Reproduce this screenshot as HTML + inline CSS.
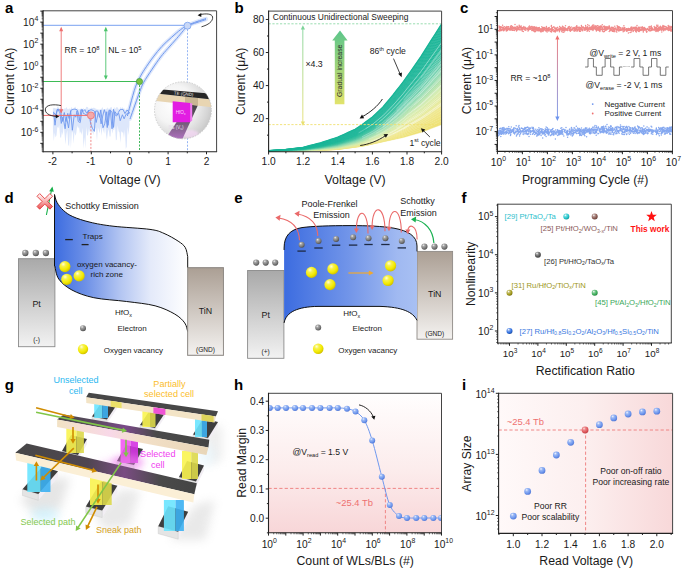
<!DOCTYPE html><html><head><meta charset="utf-8"><style>html,body{margin:0;padding:0;background:#fff;}svg{display:block;font-family:"Liberation Sans",sans-serif;}</style></head><body><svg width="685" height="569" viewBox="0 0 685 569" font-family='"Liberation Sans", sans-serif'><defs><filter id="blur1" x="-50%" y="-50%" width="200%" height="200%"><feGaussianBlur stdDeviation="1.2"/></filter><clipPath id="insclip"><circle cx="183" cy="110.3" r="28.5"/></clipPath><radialGradient id="insbg" cx="0.35" cy="0.4" r="0.75"><stop offset="0" stop-color="#ffffff"/><stop offset="0.45" stop-color="#f4f4f4"/><stop offset="0.8" stop-color="#d4d4d4"/><stop offset="1" stop-color="#bdbdbd"/></radialGradient><linearGradient id="insbe" x1="0" y1="0" x2="0" y2="1"><stop offset="0" stop-color="#3c3c3c"/><stop offset="0.5" stop-color="#6a5a6e"/><stop offset="1" stop-color="#b070c0"/></linearGradient><linearGradient id="gby" x1="0" y1="0" x2="0" y2="1"><stop offset="0" stop-color="#7ed39a"/><stop offset="1" stop-color="#e8e070"/></linearGradient><linearGradient id="ggr" x1="0" y1="0" x2="0" y2="1"><stop offset="0" stop-color="#5cc58a"/><stop offset="1" stop-color="#e2e36c"/></linearGradient><linearGradient id="grb" x1="0" y1="0" x2="0" y2="1"><stop offset="0" stop-color="#ef7070"/><stop offset="1" stop-color="#6e95ee"/></linearGradient><linearGradient id="ptd" x1="0" y1="0" x2="0" y2="1"><stop offset="0" stop-color="#a9a9a9"/><stop offset="1" stop-color="#f2f2f2"/></linearGradient><linearGradient id="tind" x1="0" y1="0" x2="0" y2="1"><stop offset="0" stop-color="#ab9f94"/><stop offset="1" stop-color="#f4f2f0"/></linearGradient><linearGradient id="bandd" x1="54" y1="0" x2="188" y2="0" gradientUnits="userSpaceOnUse"><stop offset="0" stop-color="#3c6ce0"/><stop offset="0.24" stop-color="#6e91e7"/><stop offset="0.5" stop-color="#b4c6f2"/><stop offset="0.72" stop-color="#e4eafa"/><stop offset="1" stop-color="#ffffff"/></linearGradient><radialGradient id="sp0" cx="0.38" cy="0.32" r="0.75" fx="0.35" fy="0.28"><stop offset="0" stop-color="#f0f0f0"/><stop offset="0.28" stop-color="#a3a3a3"/><stop offset="0.65" stop-color="#7a7a7a"/><stop offset="1" stop-color="#444444"/></radialGradient><radialGradient id="sp1" cx="0.38" cy="0.32" r="0.75" fx="0.35" fy="0.28"><stop offset="0" stop-color="#ffffd8"/><stop offset="0.28" stop-color="#f7f14c"/><stop offset="0.65" stop-color="#f2ea00"/><stop offset="1" stop-color="#c8b400"/></radialGradient><linearGradient id="xg" x1="0" y1="0" x2="0" y2="1"><stop offset="0" stop-color="#ffffff"/><stop offset="0.5" stop-color="#f8b0b0"/><stop offset="1" stop-color="#e85050"/></linearGradient><linearGradient id="pte" x1="0" y1="0" x2="0" y2="1"><stop offset="0" stop-color="#a9a9a9"/><stop offset="1" stop-color="#f2f2f2"/></linearGradient><linearGradient id="tine" x1="0" y1="0" x2="0" y2="1"><stop offset="0" stop-color="#ab9f94"/><stop offset="1" stop-color="#f4f2f0"/></linearGradient><linearGradient id="bande" x1="284" y1="0" x2="417" y2="0" gradientUnits="userSpaceOnUse"><stop offset="0" stop-color="#3c6ce0"/><stop offset="0.5" stop-color="#7396e9"/><stop offset="0.85" stop-color="#a0b9f1"/><stop offset="1" stop-color="#a8c0f3"/></linearGradient><radialGradient id="sp2" cx="0.38" cy="0.32" r="0.75" fx="0.35" fy="0.28"><stop offset="0" stop-color="#ffffff"/><stop offset="0.28" stop-color="#6edade"/><stop offset="0.65" stop-color="#20c6cc"/><stop offset="1" stop-color="#158185"/></radialGradient><radialGradient id="sp3" cx="0.38" cy="0.32" r="0.75" fx="0.35" fy="0.28"><stop offset="0" stop-color="#ffffff"/><stop offset="0.28" stop-color="#b3948f"/><stop offset="0.65" stop-color="#8a5a52"/><stop offset="1" stop-color="#5a3a35"/></radialGradient><radialGradient id="sp4" cx="0.38" cy="0.32" r="0.75" fx="0.35" fy="0.28"><stop offset="0" stop-color="#ffffff"/><stop offset="0.28" stop-color="#949494"/><stop offset="0.65" stop-color="#5a5a5a"/><stop offset="1" stop-color="#3a3a3a"/></radialGradient><radialGradient id="sp5" cx="0.38" cy="0.32" r="0.75" fx="0.35" fy="0.28"><stop offset="0" stop-color="#ffffff"/><stop offset="0.28" stop-color="#c3bd6a"/><stop offset="0.65" stop-color="#a39a1a"/><stop offset="1" stop-color="#6a6411"/></radialGradient><radialGradient id="sp6" cx="0.38" cy="0.32" r="0.75" fx="0.35" fy="0.28"><stop offset="0" stop-color="#ffffff"/><stop offset="0.28" stop-color="#80ca94"/><stop offset="0.65" stop-color="#3cae5a"/><stop offset="1" stop-color="#27713a"/></radialGradient><radialGradient id="sp7" cx="0.38" cy="0.32" r="0.75" fx="0.35" fy="0.28"><stop offset="0" stop-color="#ffffff"/><stop offset="0.28" stop-color="#78a1eb"/><stop offset="0.65" stop-color="#2f6fe0"/><stop offset="1" stop-color="#1f4892"/></radialGradient><filter id="blur3" x="-50%" y="-50%" width="200%" height="200%"><feGaussianBlur stdDeviation="3"/></filter><filter id="blur5" x="-50%" y="-50%" width="200%" height="200%"><feGaussianBlur stdDeviation="5"/></filter><linearGradient id="b2top" x1="57" y1="0" x2="209" y2="0" gradientUnits="userSpaceOnUse"><stop offset="0" stop-color="#474747"/><stop offset="0.25" stop-color="#5a4a60"/><stop offset="0.45" stop-color="#7a4a88"/><stop offset="0.65" stop-color="#4a4a4a"/><stop offset="1" stop-color="#444"/></linearGradient><linearGradient id="b2f" x1="57" y1="0" x2="209" y2="0" gradientUnits="userSpaceOnUse"><stop offset="0" stop-color="#f2e2c4"/><stop offset="0.35" stop-color="#f8d8e8"/><stop offset="0.55" stop-color="#f3e0c8"/><stop offset="1" stop-color="#e8d6b8"/></linearGradient><linearGradient id="b1top" x1="15" y1="0" x2="197" y2="0" gradientUnits="userSpaceOnUse"><stop offset="0" stop-color="#474747"/><stop offset="0.4" stop-color="#4f4650"/><stop offset="0.6" stop-color="#7a4c82"/><stop offset="0.8" stop-color="#4a4a4a"/><stop offset="1" stop-color="#444"/></linearGradient><linearGradient id="hbg" x1="0" y1="0" x2="0" y2="1"><stop offset="0" stop-color="#fffefe"/><stop offset="0.55" stop-color="#fcecec"/><stop offset="1" stop-color="#f8d6d8"/></linearGradient><clipPath id="hclip"><rect x="268.5" y="393.3" width="173.0" height="139.49999999999994"/></clipPath><radialGradient id="sp8" cx="0.38" cy="0.32" r="0.75" fx="0.35" fy="0.28"><stop offset="0" stop-color="#e8f0ff"/><stop offset="0.28" stop-color="#99b7f4"/><stop offset="0.65" stop-color="#6f98ee"/><stop offset="1" stop-color="#4a70d0"/></radialGradient><linearGradient id="ibg" x1="0" y1="0" x2="1" y2="0"><stop offset="0" stop-color="#fff9f9"/><stop offset="0.5" stop-color="#fcefef"/><stop offset="1" stop-color="#f8d8d9"/></linearGradient><radialGradient id="sp9" cx="0.38" cy="0.32" r="0.75" fx="0.35" fy="0.28"><stop offset="0" stop-color="#eef4ff"/><stop offset="0.28" stop-color="#9bb8f4"/><stop offset="0.65" stop-color="#6f98ee"/><stop offset="1" stop-color="#4a70d0"/></radialGradient><radialGradient id="sp10" cx="0.38" cy="0.32" r="0.75" fx="0.35" fy="0.28"><stop offset="0" stop-color="#ffdede"/><stop offset="0.28" stop-color="#eb888b"/><stop offset="0.65" stop-color="#e05a5e"/><stop offset="1" stop-color="#b83a40"/></radialGradient></defs><rect width="685" height="569" fill="#fff"/><text x="4.9" y="13" font-size="15" text-anchor="start" fill="#000" font-weight="bold" >a</text>
<polygon points="52.9,107.33 53.8,108.4 54.7,107.79 55.6,108.61 56.5,108.69 57.4,106.73 58.3,106.55 59.2,109.43 60.1,107.41 61,107.32 61.9,109.98 62.8,108.15 63.7,109.43 64.6,108.17 65.5,108.74 66.4,107.03 67.3,108.72 68.2,109.54 69.1,108.33 70,109.09 70.9,108.85 71.8,106.72 72.7,109.15 73.6,108.57 74.5,107.55 75.4,106.61 76.3,109.53 77.2,108.15 78.1,109.02 79,109.58 79.9,109 80.8,109.72 81.7,107.88 82.6,109.3 83.5,108.06 84.4,109.77 85.3,109.58 86.2,106.84 87.1,106.98 88,107.26 88.9,109.88 89.8,108.03 90.7,108.69 91.6,107.55 92.5,108.28 93.4,107.85 94.3,107.73 95.2,108.55 96.1,108.54 97,109.66 97.9,108.89 98.8,109.75 99.7,109.5 100.6,109.97 101.5,108.85 102.4,107.07 103.3,109.51 104.2,109.88 105.1,109.67 106,108.49 106.9,109 107.8,107.24 108.7,109.41 109.6,108.51 110.5,107.5 111.4,106.72 112.3,109.49 113.2,109.96 114.1,106.81 115,109.3 115.9,107.94 116.8,107.03 117.7,107.53 118.6,109.19 119.5,109.55 120.4,106.65 121.3,108.65 122.2,106.66 123.1,109.01 124,107.66 124.9,109.58 125.8,109.93 126.7,108.27 127.6,109.99 128.5,107.58 129.4,106.77 129.4,125.38 128.5,135.2 127.6,126.87 126.7,146.69 125.8,148.97 124.9,129.53 124,138 123.1,132.15 122.2,132.44 121.3,131.08 120.4,143.01 119.5,132.53 118.6,131.25 117.7,125.14 116.8,139.5 115.9,140.39 115,125.72 114.1,130.6 113.2,129.23 112.3,133.86 111.4,126.51 110.5,136.56 109.6,136.41 108.7,128.84 107.8,132.82 106.9,139.89 106,134.43 105.1,125.32 104.2,133.82 103.3,130.56 102.4,127.86 101.5,135.88 100.6,126.22 99.7,133.34 98.8,130.26 97.9,127.03 97,141.26 96.1,130.41 95.2,128.02 94.3,127.29 93.4,135.06 92.5,131.96 91.6,132.7 90.7,129.14 89.8,132.3 88.9,128.25 88,135.42 87.1,135.24 86.2,126.87 85.3,148.58 84.4,136.84 83.5,148.75 82.6,127.67 81.7,135.04 80.8,131.23 79.9,133.53 79,126.7 78.1,128.44 77.2,125.54 76.3,133.32 75.4,135.76 74.5,131.92 73.6,143.63 72.7,132.5 71.8,131.3 70.9,148.48 70,129.1 69.1,146.54 68.2,144.56 67.3,129.93 66.4,134.8 65.5,144.79 64.6,134.67 63.7,125.09 62.8,135.35 61.9,131.78 61,138.18 60.1,136.82 59.2,125.02 58.3,128.17 57.4,126.71 56.5,135.25 55.6,137.55 54.7,132.86 53.8,141.17 52.9,129.33" fill="#dde7fb" stroke="none" stroke-width="0" />
<path d="M127.4,116 C127.83,114.33 129.1,109.4 130,106 C130.9,102.6 131.83,98.93 132.8,95.6 C133.77,92.27 134.68,88.93 135.8,86 C136.92,83.07 138.02,80.8 139.5,78 C140.98,75.2 142.4,72.72 144.7,69.2 C147,65.68 150.43,60.7 153.3,56.9 C156.17,53.1 158.83,49.68 161.9,46.4 C164.97,43.12 168.62,39.97 171.7,37.2 C174.78,34.43 177.83,31.75 180.4,29.8 C182.97,27.85 184.33,26.88 187.1,25.5 C189.87,24.12 193.85,22.65 197,21.5 C200.15,20.35 204.5,19.08 206,18.6" fill="none" stroke="#dce6fb" stroke-width="3.6" stroke-linecap="round"/>
<path d="M130,119 C130.53,117.5 132.13,113.03 133.2,110 C134.27,106.97 135.3,103.88 136.4,100.8 C137.5,97.72 138.6,94.55 139.8,91.5 C141,88.45 141.55,86.22 143.6,82.5 C145.65,78.78 149.25,73.47 152.1,69.2 C154.95,64.93 158.05,60.38 160.7,56.9 C163.35,53.42 165.33,51.37 168,48.3 C170.67,45.23 174.13,41.47 176.7,38.5 C179.27,35.53 181.67,32.55 183.4,30.5 C185.13,28.45 184.83,27.53 187.1,26.2 C189.37,24.87 193.85,23.6 197,22.5 C200.15,21.4 204.5,20.08 206,19.6" fill="none" stroke="#dce6fb" stroke-width="3.6" stroke-linecap="round"/>
<path d="M53.67,112.74 L55.66,114.65 L57.79,109.17 L59.93,112.89 L61.24,123.43 L63.02,116.99 L65.13,128.75 L66.47,116.73 L68.54,128.01 L70.61,110.74 L72.35,130.24 L74.24,114.8 L75.74,117.21 L77.01,110.81 L78.21,121.41 L80.23,122.62 L82.14,109.34 L83.36,113.5 L84.58,113.73 L86.35,115.59 L88.51,110.18 L90.64,123.62 L92.36,128.13 L94.36,131.4 L95.65,111.04 L97.77,111.04 L99.52,117.36 L100.79,109.89 L102.99,127.78 L104.72,123.75 L106.75,111.73 L108.01,125.41 L110.04,109.78 L112.19,112.78 L113.5,127.43 L115,111.72 L117.05,114.86 L118.74,113.38 L120.23,120.7 L122.42,114.76 L124.12,118.84 L126.1,114.2 L128.08,113.65 L129.7,113" fill="none" stroke="#6f98ee" stroke-width="0.9" stroke-linejoin="round"/>
<path d="M53.67,111.78 L55.01,125.24 L57.1,109.48 L58.92,109.25 L60.82,111.71 L62.18,121.52 L64.31,112.54 L65.89,121.55 L67.76,113.35 L69.05,118.54 L71.06,110.2 L73.14,109.33 L74.83,109.14 L76.94,109.67 L78.26,112.47 L79.66,120.61 L80.88,109.51 L83,111.52 L84.84,109.56 L86.21,112.65 L87.47,112.33 L88.82,110.61 L91.01,109.73 L93.16,110.42 L94.41,111.2 L96.2,122.51 L98.26,112.5 L99.86,114.92 L101.08,123.87 L102.5,116.91 L104.33,109.62 L105.55,113.68 L107.25,127.58 L108.87,110.39 L110.47,111.24 L112.04,128.81 L113.5,109.3 L114.88,114.68 L116.68,115.99 L118.27,112.67 L119.83,109.84 L121.16,109.52 L123.06,109.39 L124.96,113.59 L127.05,110.01 L129.7,113" fill="none" stroke="#6f98ee" stroke-width="0.9" stroke-linejoin="round"/>
<path d="M127.4,116 C127.83,114.33 129.1,109.4 130,106 C130.9,102.6 131.83,98.93 132.8,95.6 C133.77,92.27 134.68,88.93 135.8,86 C136.92,83.07 138.02,80.8 139.5,78 C140.98,75.2 142.4,72.72 144.7,69.2 C147,65.68 150.43,60.7 153.3,56.9 C156.17,53.1 158.83,49.68 161.9,46.4 C164.97,43.12 168.62,39.97 171.7,37.2 C174.78,34.43 177.83,31.75 180.4,29.8 C182.97,27.85 184.33,26.88 187.1,25.5 C189.87,24.12 193.85,22.65 197,21.5 C200.15,20.35 204.5,19.08 206,18.6" fill="none" stroke="#6f98ee" stroke-width="1.0" />
<path d="M130,119 C130.53,117.5 132.13,113.03 133.2,110 C134.27,106.97 135.3,103.88 136.4,100.8 C137.5,97.72 138.6,94.55 139.8,91.5 C141,88.45 141.55,86.22 143.6,82.5 C145.65,78.78 149.25,73.47 152.1,69.2 C154.95,64.93 158.05,60.38 160.7,56.9 C163.35,53.42 165.33,51.37 168,48.3 C170.67,45.23 174.13,41.47 176.7,38.5 C179.27,35.53 181.67,32.55 183.4,30.5 C185.13,28.45 184.83,27.53 187.1,26.2 C189.37,24.87 193.85,23.6 197,22.5 C200.15,21.4 204.5,20.08 206,19.6" fill="none" stroke="#6f98ee" stroke-width="1.0" />
<line x1="43.1" y1="25.3" x2="187.5" y2="25.3" stroke="#7aa2f0" stroke-width="1" />
<line x1="187.5" y1="25.7" x2="187.5" y2="151.7" stroke="#7aa2f0" stroke-width="0.8" stroke-dasharray="2,1.5"/>
<line x1="43.1" y1="81.5" x2="139.5" y2="81.5" stroke="#3dbb55" stroke-width="1" />
<line x1="139.5" y1="81.5" x2="139.5" y2="151.7" stroke="#2cb04a" stroke-width="0.9" stroke-dasharray="2,1.5"/>
<line x1="43.1" y1="115.4" x2="90.9" y2="115.4" stroke="#ee6e6e" stroke-width="1" />
<line x1="90.9" y1="115.4" x2="90.9" y2="151.7" stroke="#ee6e6e" stroke-width="0.8" stroke-dasharray="2,1.5"/>
<line x1="61.2" y1="28.5" x2="61.2" y2="112.5" stroke="#ee7070" stroke-width="0.9" />
<polygon points="61.2,26.8 59.2,31.2 63.2,31.2" fill="#ee7070" stroke="none" stroke-width="0" />
<polygon points="61.2,113.6 59.2,109.2 63.2,109.2" fill="#ee7070" stroke="none" stroke-width="0" />
<line x1="105.8" y1="28.5" x2="105.8" y2="78.5" stroke="#4cc46c" stroke-width="0.9" />
<polygon points="105.8,26.8 103.8,31.2 107.8,31.2" fill="#4cc46c" stroke="none" stroke-width="0" />
<polygon points="105.8,79.8 103.8,75.4 107.8,75.4" fill="#4cc46c" stroke="none" stroke-width="0" />
<text x="64.5" y="53" font-size="8.6" fill="#1a1a1a">RR = 10<tspan font-size="5.8" dy="-3.4">8</tspan></text>
<text x="108.3" y="53" font-size="8.6" fill="#1a1a1a">NL = 10<tspan font-size="5.8" dy="-3.4">5</tspan></text>
<circle cx="187.5" cy="25.7" r="3.5" fill="#c9d8f7" stroke="#7aa2f0" stroke-width="0.8" />
<circle cx="139.5" cy="81.5" r="3.1" fill="#7cc242" stroke="#3a9a3a" stroke-width="0.7" />
<circle cx="90.9" cy="115.4" r="3.5" fill="#f5a9a9" stroke="#ee7070" stroke-width="0.8" />
<path d="M61,105.6 C54,104 45,104.5 45.3,110 C45.6,114.5 52,116.3 57,116.4" fill="none" stroke="#111" stroke-width="0.8" />
<polygon points="59.3,116.4 55.6,114.4 55.8,118.3" fill="#111" stroke="none" stroke-width="0" />
<path d="M199.5,14.7 C206,13.3 212,13.6 212.6,17 C213.2,21.5 208,25 201.5,26.8" fill="none" stroke="#111" stroke-width="0.8" />
<polygon points="197.6,15.2 201.3,13.1 201.3,17.1" fill="#111" stroke="none" stroke-width="0" />
<g clip-path="url(#insclip)">
<circle cx="183" cy="110.3" r="28.5" fill="url(#insbg)" stroke="none" stroke-width="0" />
<g filter="url(#blur1)" opacity="0.7"><ellipse cx="190" cy="134" rx="9" ry="4" fill="#f8d8f8"/></g>
<polygon points="190.1,101.6 199.6,101.6 182.2,139.5 166.4,137.5" fill="url(#insbe)" stroke="none" stroke-width="0" />
<polygon points="150,92.9 215,99.7 215,107.6 150,100.3" fill="#e8d5b2" stroke="none" stroke-width="0" />
<polygon points="185,96.6 198,98 198,105.6 185,104.1" fill="#c9b694" stroke="none" stroke-width="0" />
<polygon points="150,88.4 215,93.9 215,99.7 150,92.9" fill="#262626" stroke="none" stroke-width="0" />
<polygon points="172.7,101.2 190.1,103.1 190.1,122.2 172.7,122.2" fill="#e21ee2" stroke="none" stroke-width="0" />
<polygon points="190.1,103.1 192.2,103.4 192.2,120.5 190.1,122.2" fill="#f27af2" stroke="none" stroke-width="0" />
</g>
<text x="183.6" y="95.4" font-size="4.4" text-anchor="middle" fill="#e8e8e8" font-weight="normal" transform="rotate(5 183.6 95.4)">TE (GND)</text>
<text x="180.6" y="113.6" font-size="4.7" text-anchor="middle" fill="#f8d8f8" font-weight="normal" >HfO<tspan font-size="3.1" dy="1">x</tspan></text>
<text x="176" y="128.6" font-size="4.5" text-anchor="middle" fill="#e8e0ea" font-weight="normal" >BE (V<tspan font-size="3.1" dy="1">s</tspan><tspan dy="-1">)</tspan></text>
<circle cx="183" cy="110.3" r="28.5" fill="none" stroke="#c4c4c4" stroke-width="0.8" stroke-dasharray="1.6,1.2"/>
<line x1="43.1" y1="10.8" x2="216.6" y2="10.8" stroke="#444" stroke-width="1" />
<line x1="216.6" y1="10.8" x2="216.6" y2="151.7" stroke="#444" stroke-width="1" />
<line x1="43.1" y1="10.3" x2="43.1" y2="152.2" stroke="#222" stroke-width="1.1" />
<line x1="42.6" y1="151.7" x2="217.1" y2="151.7" stroke="#222" stroke-width="1.1" />
<line x1="40.3" y1="143.34" x2="43.1" y2="143.34" stroke="#222" stroke-width="1" />
<line x1="40.3" y1="132.32" x2="43.1" y2="132.32" stroke="#222" stroke-width="1" />
<line x1="40.3" y1="121.3" x2="43.1" y2="121.3" stroke="#222" stroke-width="1" />
<line x1="40.3" y1="110.28" x2="43.1" y2="110.28" stroke="#222" stroke-width="1" />
<line x1="40.3" y1="99.26" x2="43.1" y2="99.26" stroke="#222" stroke-width="1" />
<line x1="40.3" y1="88.24" x2="43.1" y2="88.24" stroke="#222" stroke-width="1" />
<line x1="40.3" y1="77.22" x2="43.1" y2="77.22" stroke="#222" stroke-width="1" />
<line x1="40.3" y1="66.2" x2="43.1" y2="66.2" stroke="#222" stroke-width="1" />
<line x1="40.3" y1="55.18" x2="43.1" y2="55.18" stroke="#222" stroke-width="1" />
<line x1="40.3" y1="44.16" x2="43.1" y2="44.16" stroke="#222" stroke-width="1" />
<line x1="40.3" y1="33.14" x2="43.1" y2="33.14" stroke="#222" stroke-width="1" />
<line x1="40.3" y1="22.12" x2="43.1" y2="22.12" stroke="#222" stroke-width="1" />
<line x1="40.3" y1="11.1" x2="43.1" y2="11.1" stroke="#222" stroke-width="1" />
<line x1="41.6" y1="151.04" x2="43.1" y2="151.04" stroke="#222" stroke-width="0.7" />
<line x1="41.6" y1="149.1" x2="43.1" y2="149.1" stroke="#222" stroke-width="0.7" />
<line x1="41.6" y1="147.73" x2="43.1" y2="147.73" stroke="#222" stroke-width="0.7" />
<line x1="41.6" y1="146.66" x2="43.1" y2="146.66" stroke="#222" stroke-width="0.7" />
<line x1="41.6" y1="145.78" x2="43.1" y2="145.78" stroke="#222" stroke-width="0.7" />
<line x1="41.6" y1="145.05" x2="43.1" y2="145.05" stroke="#222" stroke-width="0.7" />
<line x1="41.6" y1="144.41" x2="43.1" y2="144.41" stroke="#222" stroke-width="0.7" />
<line x1="41.6" y1="143.84" x2="43.1" y2="143.84" stroke="#222" stroke-width="0.7" />
<line x1="41.6" y1="140.02" x2="43.1" y2="140.02" stroke="#222" stroke-width="0.7" />
<line x1="41.6" y1="138.08" x2="43.1" y2="138.08" stroke="#222" stroke-width="0.7" />
<line x1="41.6" y1="136.71" x2="43.1" y2="136.71" stroke="#222" stroke-width="0.7" />
<line x1="41.6" y1="135.64" x2="43.1" y2="135.64" stroke="#222" stroke-width="0.7" />
<line x1="41.6" y1="134.76" x2="43.1" y2="134.76" stroke="#222" stroke-width="0.7" />
<line x1="41.6" y1="134.03" x2="43.1" y2="134.03" stroke="#222" stroke-width="0.7" />
<line x1="41.6" y1="133.39" x2="43.1" y2="133.39" stroke="#222" stroke-width="0.7" />
<line x1="41.6" y1="132.82" x2="43.1" y2="132.82" stroke="#222" stroke-width="0.7" />
<line x1="41.6" y1="129" x2="43.1" y2="129" stroke="#222" stroke-width="0.7" />
<line x1="41.6" y1="127.06" x2="43.1" y2="127.06" stroke="#222" stroke-width="0.7" />
<line x1="41.6" y1="125.69" x2="43.1" y2="125.69" stroke="#222" stroke-width="0.7" />
<line x1="41.6" y1="124.62" x2="43.1" y2="124.62" stroke="#222" stroke-width="0.7" />
<line x1="41.6" y1="123.74" x2="43.1" y2="123.74" stroke="#222" stroke-width="0.7" />
<line x1="41.6" y1="123.01" x2="43.1" y2="123.01" stroke="#222" stroke-width="0.7" />
<line x1="41.6" y1="122.37" x2="43.1" y2="122.37" stroke="#222" stroke-width="0.7" />
<line x1="41.6" y1="121.8" x2="43.1" y2="121.8" stroke="#222" stroke-width="0.7" />
<line x1="41.6" y1="117.98" x2="43.1" y2="117.98" stroke="#222" stroke-width="0.7" />
<line x1="41.6" y1="116.04" x2="43.1" y2="116.04" stroke="#222" stroke-width="0.7" />
<line x1="41.6" y1="114.67" x2="43.1" y2="114.67" stroke="#222" stroke-width="0.7" />
<line x1="41.6" y1="113.6" x2="43.1" y2="113.6" stroke="#222" stroke-width="0.7" />
<line x1="41.6" y1="112.72" x2="43.1" y2="112.72" stroke="#222" stroke-width="0.7" />
<line x1="41.6" y1="111.99" x2="43.1" y2="111.99" stroke="#222" stroke-width="0.7" />
<line x1="41.6" y1="111.35" x2="43.1" y2="111.35" stroke="#222" stroke-width="0.7" />
<line x1="41.6" y1="110.78" x2="43.1" y2="110.78" stroke="#222" stroke-width="0.7" />
<line x1="41.6" y1="106.96" x2="43.1" y2="106.96" stroke="#222" stroke-width="0.7" />
<line x1="41.6" y1="105.02" x2="43.1" y2="105.02" stroke="#222" stroke-width="0.7" />
<line x1="41.6" y1="103.65" x2="43.1" y2="103.65" stroke="#222" stroke-width="0.7" />
<line x1="41.6" y1="102.58" x2="43.1" y2="102.58" stroke="#222" stroke-width="0.7" />
<line x1="41.6" y1="101.7" x2="43.1" y2="101.7" stroke="#222" stroke-width="0.7" />
<line x1="41.6" y1="100.97" x2="43.1" y2="100.97" stroke="#222" stroke-width="0.7" />
<line x1="41.6" y1="100.33" x2="43.1" y2="100.33" stroke="#222" stroke-width="0.7" />
<line x1="41.6" y1="99.76" x2="43.1" y2="99.76" stroke="#222" stroke-width="0.7" />
<line x1="41.6" y1="95.94" x2="43.1" y2="95.94" stroke="#222" stroke-width="0.7" />
<line x1="41.6" y1="94" x2="43.1" y2="94" stroke="#222" stroke-width="0.7" />
<line x1="41.6" y1="92.63" x2="43.1" y2="92.63" stroke="#222" stroke-width="0.7" />
<line x1="41.6" y1="91.56" x2="43.1" y2="91.56" stroke="#222" stroke-width="0.7" />
<line x1="41.6" y1="90.68" x2="43.1" y2="90.68" stroke="#222" stroke-width="0.7" />
<line x1="41.6" y1="89.95" x2="43.1" y2="89.95" stroke="#222" stroke-width="0.7" />
<line x1="41.6" y1="89.31" x2="43.1" y2="89.31" stroke="#222" stroke-width="0.7" />
<line x1="41.6" y1="88.74" x2="43.1" y2="88.74" stroke="#222" stroke-width="0.7" />
<line x1="41.6" y1="84.92" x2="43.1" y2="84.92" stroke="#222" stroke-width="0.7" />
<line x1="41.6" y1="82.98" x2="43.1" y2="82.98" stroke="#222" stroke-width="0.7" />
<line x1="41.6" y1="81.61" x2="43.1" y2="81.61" stroke="#222" stroke-width="0.7" />
<line x1="41.6" y1="80.54" x2="43.1" y2="80.54" stroke="#222" stroke-width="0.7" />
<line x1="41.6" y1="79.66" x2="43.1" y2="79.66" stroke="#222" stroke-width="0.7" />
<line x1="41.6" y1="78.93" x2="43.1" y2="78.93" stroke="#222" stroke-width="0.7" />
<line x1="41.6" y1="78.29" x2="43.1" y2="78.29" stroke="#222" stroke-width="0.7" />
<line x1="41.6" y1="77.72" x2="43.1" y2="77.72" stroke="#222" stroke-width="0.7" />
<line x1="41.6" y1="73.9" x2="43.1" y2="73.9" stroke="#222" stroke-width="0.7" />
<line x1="41.6" y1="71.96" x2="43.1" y2="71.96" stroke="#222" stroke-width="0.7" />
<line x1="41.6" y1="70.59" x2="43.1" y2="70.59" stroke="#222" stroke-width="0.7" />
<line x1="41.6" y1="69.52" x2="43.1" y2="69.52" stroke="#222" stroke-width="0.7" />
<line x1="41.6" y1="68.64" x2="43.1" y2="68.64" stroke="#222" stroke-width="0.7" />
<line x1="41.6" y1="67.91" x2="43.1" y2="67.91" stroke="#222" stroke-width="0.7" />
<line x1="41.6" y1="67.27" x2="43.1" y2="67.27" stroke="#222" stroke-width="0.7" />
<line x1="41.6" y1="66.7" x2="43.1" y2="66.7" stroke="#222" stroke-width="0.7" />
<line x1="41.6" y1="62.88" x2="43.1" y2="62.88" stroke="#222" stroke-width="0.7" />
<line x1="41.6" y1="60.94" x2="43.1" y2="60.94" stroke="#222" stroke-width="0.7" />
<line x1="41.6" y1="59.57" x2="43.1" y2="59.57" stroke="#222" stroke-width="0.7" />
<line x1="41.6" y1="58.5" x2="43.1" y2="58.5" stroke="#222" stroke-width="0.7" />
<line x1="41.6" y1="57.62" x2="43.1" y2="57.62" stroke="#222" stroke-width="0.7" />
<line x1="41.6" y1="56.89" x2="43.1" y2="56.89" stroke="#222" stroke-width="0.7" />
<line x1="41.6" y1="56.25" x2="43.1" y2="56.25" stroke="#222" stroke-width="0.7" />
<line x1="41.6" y1="55.68" x2="43.1" y2="55.68" stroke="#222" stroke-width="0.7" />
<line x1="41.6" y1="51.86" x2="43.1" y2="51.86" stroke="#222" stroke-width="0.7" />
<line x1="41.6" y1="49.92" x2="43.1" y2="49.92" stroke="#222" stroke-width="0.7" />
<line x1="41.6" y1="48.55" x2="43.1" y2="48.55" stroke="#222" stroke-width="0.7" />
<line x1="41.6" y1="47.48" x2="43.1" y2="47.48" stroke="#222" stroke-width="0.7" />
<line x1="41.6" y1="46.6" x2="43.1" y2="46.6" stroke="#222" stroke-width="0.7" />
<line x1="41.6" y1="45.87" x2="43.1" y2="45.87" stroke="#222" stroke-width="0.7" />
<line x1="41.6" y1="45.23" x2="43.1" y2="45.23" stroke="#222" stroke-width="0.7" />
<line x1="41.6" y1="44.66" x2="43.1" y2="44.66" stroke="#222" stroke-width="0.7" />
<line x1="41.6" y1="40.84" x2="43.1" y2="40.84" stroke="#222" stroke-width="0.7" />
<line x1="41.6" y1="38.9" x2="43.1" y2="38.9" stroke="#222" stroke-width="0.7" />
<line x1="41.6" y1="37.53" x2="43.1" y2="37.53" stroke="#222" stroke-width="0.7" />
<line x1="41.6" y1="36.46" x2="43.1" y2="36.46" stroke="#222" stroke-width="0.7" />
<line x1="41.6" y1="35.58" x2="43.1" y2="35.58" stroke="#222" stroke-width="0.7" />
<line x1="41.6" y1="34.85" x2="43.1" y2="34.85" stroke="#222" stroke-width="0.7" />
<line x1="41.6" y1="34.21" x2="43.1" y2="34.21" stroke="#222" stroke-width="0.7" />
<line x1="41.6" y1="33.64" x2="43.1" y2="33.64" stroke="#222" stroke-width="0.7" />
<line x1="41.6" y1="29.82" x2="43.1" y2="29.82" stroke="#222" stroke-width="0.7" />
<line x1="41.6" y1="27.88" x2="43.1" y2="27.88" stroke="#222" stroke-width="0.7" />
<line x1="41.6" y1="26.51" x2="43.1" y2="26.51" stroke="#222" stroke-width="0.7" />
<line x1="41.6" y1="25.44" x2="43.1" y2="25.44" stroke="#222" stroke-width="0.7" />
<line x1="41.6" y1="24.56" x2="43.1" y2="24.56" stroke="#222" stroke-width="0.7" />
<line x1="41.6" y1="23.83" x2="43.1" y2="23.83" stroke="#222" stroke-width="0.7" />
<line x1="41.6" y1="23.19" x2="43.1" y2="23.19" stroke="#222" stroke-width="0.7" />
<line x1="41.6" y1="22.62" x2="43.1" y2="22.62" stroke="#222" stroke-width="0.7" />
<line x1="41.6" y1="18.8" x2="43.1" y2="18.8" stroke="#222" stroke-width="0.7" />
<line x1="41.6" y1="16.86" x2="43.1" y2="16.86" stroke="#222" stroke-width="0.7" />
<line x1="41.6" y1="15.49" x2="43.1" y2="15.49" stroke="#222" stroke-width="0.7" />
<line x1="41.6" y1="14.42" x2="43.1" y2="14.42" stroke="#222" stroke-width="0.7" />
<line x1="41.6" y1="13.54" x2="43.1" y2="13.54" stroke="#222" stroke-width="0.7" />
<line x1="41.6" y1="12.81" x2="43.1" y2="12.81" stroke="#222" stroke-width="0.7" />
<line x1="41.6" y1="12.17" x2="43.1" y2="12.17" stroke="#222" stroke-width="0.7" />
<line x1="41.6" y1="11.6" x2="43.1" y2="11.6" stroke="#222" stroke-width="0.7" />
<text x="38.3" y="25.82" font-size="10.2" text-anchor="end" fill="#1a1a1a">10<tspan font-size="6.94" dy="-4.4">4</tspan></text>
<text x="38.3" y="47.86" font-size="10.2" text-anchor="end" fill="#1a1a1a">10<tspan font-size="6.94" dy="-4.4">2</tspan></text>
<text x="38.3" y="69.9" font-size="10.2" text-anchor="end" fill="#1a1a1a">10<tspan font-size="6.94" dy="-4.4">0</tspan></text>
<text x="38.3" y="91.94" font-size="10.2" text-anchor="end" fill="#1a1a1a">10<tspan font-size="6.94" dy="-4.4">-2</tspan></text>
<text x="38.3" y="113.98" font-size="10.2" text-anchor="end" fill="#1a1a1a">10<tspan font-size="6.94" dy="-4.4">-4</tspan></text>
<text x="38.3" y="136.02" font-size="10.2" text-anchor="end" fill="#1a1a1a">10<tspan font-size="6.94" dy="-4.4">-6</tspan></text>
<line x1="52.9" y1="151.7" x2="52.9" y2="154.3" stroke="#222" stroke-width="1" />
<line x1="91.3" y1="151.7" x2="91.3" y2="154.3" stroke="#222" stroke-width="1" />
<line x1="129.7" y1="151.7" x2="129.7" y2="154.3" stroke="#222" stroke-width="1" />
<line x1="168.1" y1="151.7" x2="168.1" y2="154.3" stroke="#222" stroke-width="1" />
<line x1="206.5" y1="151.7" x2="206.5" y2="154.3" stroke="#222" stroke-width="1" />
<line x1="72.1" y1="151.7" x2="72.1" y2="153.3" stroke="#222" stroke-width="1" />
<line x1="110.5" y1="151.7" x2="110.5" y2="153.3" stroke="#222" stroke-width="1" />
<line x1="148.9" y1="151.7" x2="148.9" y2="153.3" stroke="#222" stroke-width="1" />
<line x1="187.3" y1="151.7" x2="187.3" y2="153.3" stroke="#222" stroke-width="1" />
<text x="52.5" y="165.4" font-size="10.2" text-anchor="middle" fill="#1a1a1a" font-weight="normal" >-2</text>
<text x="90.9" y="165.4" font-size="10.2" text-anchor="middle" fill="#1a1a1a" font-weight="normal" >-1</text>
<text x="129.7" y="165.4" font-size="10.2" text-anchor="middle" fill="#1a1a1a" font-weight="normal" >0</text>
<text x="168.1" y="165.4" font-size="10.2" text-anchor="middle" fill="#1a1a1a" font-weight="normal" >1</text>
<text x="206.5" y="165.4" font-size="10.2" text-anchor="middle" fill="#1a1a1a" font-weight="normal" >2</text>
<text x="129.9" y="184" font-size="12.4" text-anchor="middle" fill="#1a1a1a" font-weight="normal" >Voltage (V)</text>
<text x="0" y="0" font-size="12.2" text-anchor="middle" fill="#1a1a1a" transform="translate(14.4,81.2) rotate(-90)">Current (nA)</text>
<text x="234.4" y="13" font-size="15" text-anchor="start" fill="#000" font-weight="bold" >b</text>
<polygon points="268.6,151.2 272.06,151.17 275.52,151.14 278.98,151.11 282.44,151.08 285.9,151.04 289.36,151.01 292.82,150.98 296.28,150.95 299.74,150.91 303.2,150.88 306.66,150.78 310.12,150.64 313.58,150.5 317.04,150.35 320.5,150.21 323.96,150.07 327.42,149.93 330.88,149.78 334.34,149.64 337.8,149.42 341.26,148.97 344.72,148.52 348.18,148.06 351.64,147.61 355.1,147.15 358.56,146.69 362.02,146.23 365.48,145.52 368.94,144.76 372.4,143.99 375.86,143.22 379.32,142.43 382.78,141.64 386.24,140.81 389.7,139.97 393.16,139.1 396.62,138.2 400.08,137.27 403.54,136.3 407,135.03 410.46,133.88 413.92,132.71 417.38,131.54 420.84,130.35 424.3,128.86 427.76,127.31 431.22,125.75 434.68,124.17 438.14,122.58 441.6,120.97 441.6,124.59 438.14,125.92 434.68,127.25 431.22,128.57 427.76,129.9 424.3,131.23 420.84,132.51 417.38,133.5 413.92,134.5 410.46,135.49 407,136.49 403.54,137.48 400.08,138.23 396.62,138.97 393.16,139.72 389.7,140.46 386.24,141.2 382.78,141.95 379.32,142.68 375.86,143.42 372.4,144.15 368.94,144.89 365.48,145.62 362.02,146.31 358.56,146.76 355.1,147.21 351.64,147.65 348.18,148.1 344.72,148.55 341.26,148.99 337.8,149.44 334.34,149.66 330.88,149.8 327.42,149.94 323.96,150.08 320.5,150.22 317.04,150.36 313.58,150.5 310.12,150.64 306.66,150.78 303.2,150.88 299.74,150.92 296.28,150.95 292.82,150.98 289.36,151.01 285.9,151.04 282.44,151.08 278.98,151.11 275.52,151.14 272.06,151.17 268.6,151.2" fill="#efe279" stroke="#efe279" stroke-width="0.35" />
<polygon points="268.6,151.2 272.06,151.17 275.52,151.14 278.98,151.11 282.44,151.07 285.9,151.04 289.36,151.01 292.82,150.98 296.28,150.94 299.74,150.91 303.2,150.88 306.66,150.77 310.12,150.63 313.58,150.48 317.04,150.34 320.5,150.2 323.96,150.05 327.42,149.9 330.88,149.75 334.34,149.61 337.8,149.38 341.26,148.92 344.72,148.46 348.18,148 351.64,147.53 355.1,147.06 358.56,146.58 362.02,146.09 365.48,145.35 368.94,144.56 372.4,143.76 375.86,142.93 379.32,142.09 382.78,141.23 386.24,140.32 389.7,139.37 393.16,138.4 396.62,137.36 400.08,136.28 403.54,135.14 407,133.67 410.46,132.39 413.92,131.09 417.38,129.78 420.84,128.45 424.3,126.81 427.76,125.1 431.22,123.37 434.68,121.62 438.14,119.86 441.6,118.06 441.6,120.97 438.14,122.58 434.68,124.17 431.22,125.75 427.76,127.31 424.3,128.86 420.84,130.35 417.38,131.54 413.92,132.71 410.46,133.88 407,135.03 403.54,136.3 400.08,137.27 396.62,138.2 393.16,139.1 389.7,139.97 386.24,140.81 382.78,141.64 379.32,142.43 375.86,143.22 372.4,143.99 368.94,144.76 365.48,145.52 362.02,146.23 358.56,146.69 355.1,147.15 351.64,147.61 348.18,148.06 344.72,148.52 341.26,148.97 337.8,149.42 334.34,149.64 330.88,149.78 327.42,149.93 323.96,150.07 320.5,150.21 317.04,150.35 313.58,150.5 310.12,150.64 306.66,150.78 303.2,150.88 299.74,150.91 296.28,150.95 292.82,150.98 289.36,151.01 285.9,151.04 282.44,151.08 278.98,151.11 275.52,151.14 272.06,151.17 268.6,151.2" fill="#efe47d" stroke="#efe47d" stroke-width="0.35" />
<polygon points="268.6,151.2 272.06,151.17 275.52,151.14 278.98,151.1 282.44,151.07 285.9,151.04 289.36,151 292.82,150.97 296.28,150.93 299.74,150.9 303.2,150.87 306.66,150.76 310.12,150.61 313.58,150.47 317.04,150.32 320.5,150.17 323.96,150.02 327.42,149.87 330.88,149.71 334.34,149.56 337.8,149.32 341.26,148.85 344.72,148.38 348.18,147.9 351.64,147.42 355.1,146.94 358.56,146.44 362.02,145.92 365.48,145.15 368.94,144.32 372.4,143.48 375.86,142.61 379.32,141.7 382.78,140.78 386.24,139.78 389.7,138.74 393.16,137.66 396.62,136.5 400.08,135.28 403.54,133.98 407,132.34 410.46,130.95 413.92,129.54 417.38,128.1 420.84,126.64 424.3,124.86 427.76,123.01 431.22,121.14 434.68,119.24 438.14,117.33 441.6,115.38 441.6,118.06 438.14,119.86 434.68,121.62 431.22,123.37 427.76,125.1 424.3,126.81 420.84,128.45 417.38,129.78 413.92,131.09 410.46,132.39 407,133.67 403.54,135.14 400.08,136.28 396.62,137.36 393.16,138.4 389.7,139.37 386.24,140.32 382.78,141.23 379.32,142.09 375.86,142.93 372.4,143.76 368.94,144.56 365.48,145.35 362.02,146.09 358.56,146.58 355.1,147.06 351.64,147.53 348.18,148 344.72,148.46 341.26,148.92 337.8,149.38 334.34,149.61 330.88,149.75 327.42,149.9 323.96,150.05 320.5,150.2 317.04,150.34 313.58,150.48 310.12,150.63 306.66,150.77 303.2,150.88 299.74,150.91 296.28,150.94 292.82,150.98 289.36,151.01 285.9,151.04 282.44,151.07 278.98,151.11 275.52,151.14 272.06,151.17 268.6,151.2" fill="#efe481" stroke="#efe481" stroke-width="0.35" />
<polygon points="268.6,151.2 272.06,151.17 275.52,151.13 278.98,151.1 282.44,151.07 285.9,151.03 289.36,151 292.82,150.96 296.28,150.92 299.74,150.89 303.2,150.85 306.66,150.74 310.12,150.59 313.58,150.44 317.04,150.29 320.5,150.14 323.96,149.98 327.42,149.82 330.88,149.66 334.34,149.49 337.8,149.25 341.26,148.77 344.72,148.28 348.18,147.79 351.64,147.3 355.1,146.8 358.56,146.27 362.02,145.72 365.48,144.92 368.94,144.06 372.4,143.17 375.86,142.24 379.32,141.28 382.78,140.29 386.24,139.21 389.7,138.08 393.16,136.89 396.62,135.62 400.08,134.27 403.54,132.83 407,131.03 410.46,129.54 413.92,128.01 417.38,126.46 420.84,124.88 424.3,122.98 427.76,121 431.22,118.99 434.68,116.97 438.14,114.91 441.6,112.83 441.6,115.38 438.14,117.33 434.68,119.24 431.22,121.14 427.76,123.01 424.3,124.86 420.84,126.64 417.38,128.1 413.92,129.54 410.46,130.95 407,132.34 403.54,133.98 400.08,135.28 396.62,136.5 393.16,137.66 389.7,138.74 386.24,139.78 382.78,140.78 379.32,141.7 375.86,142.61 372.4,143.48 368.94,144.32 365.48,145.15 362.02,145.92 358.56,146.44 355.1,146.94 351.64,147.42 348.18,147.9 344.72,148.38 341.26,148.85 337.8,149.32 334.34,149.56 330.88,149.71 327.42,149.87 323.96,150.02 320.5,150.17 317.04,150.32 313.58,150.47 310.12,150.61 306.66,150.76 303.2,150.87 299.74,150.9 296.28,150.93 292.82,150.97 289.36,151 285.9,151.04 282.44,151.07 278.98,151.1 275.52,151.14 272.06,151.17 268.6,151.2" fill="#f0e686" stroke="#f0e686" stroke-width="0.35" />
<polygon points="268.6,151.2 272.06,151.16 275.52,151.13 278.98,151.09 282.44,151.06 285.9,151.03 289.36,150.99 292.82,150.95 296.28,150.91 299.74,150.87 303.2,150.84 306.66,150.72 310.12,150.57 313.58,150.41 317.04,150.26 320.5,150.1 323.96,149.94 327.42,149.77 330.88,149.59 334.34,149.42 337.8,149.16 341.26,148.67 344.72,148.17 348.18,147.67 351.64,147.16 355.1,146.64 358.56,146.08 362.02,145.5 365.48,144.66 368.94,143.76 372.4,142.84 375.86,141.86 379.32,140.84 382.78,139.78 386.24,138.62 389.7,137.4 393.16,136.11 396.62,134.72 400.08,133.25 403.54,131.69 407,129.75 410.46,128.15 413.92,126.52 417.38,124.86 420.84,123.17 424.3,121.15 427.76,119.05 431.22,116.91 434.68,114.77 438.14,112.58 441.6,110.37 441.6,112.83 438.14,114.91 434.68,116.97 431.22,118.99 427.76,121 424.3,122.98 420.84,124.88 417.38,126.46 413.92,128.01 410.46,129.54 407,131.03 403.54,132.83 400.08,134.27 396.62,135.62 393.16,136.89 389.7,138.08 386.24,139.21 382.78,140.29 379.32,141.28 375.86,142.24 372.4,143.17 368.94,144.06 365.48,144.92 362.02,145.72 358.56,146.27 355.1,146.8 351.64,147.3 348.18,147.79 344.72,148.28 341.26,148.77 337.8,149.25 334.34,149.49 330.88,149.66 327.42,149.82 323.96,149.98 320.5,150.14 317.04,150.29 313.58,150.44 310.12,150.59 306.66,150.74 303.2,150.85 299.74,150.89 296.28,150.92 292.82,150.96 289.36,151 285.9,151.03 282.44,151.07 278.98,151.1 275.52,151.13 272.06,151.17 268.6,151.2" fill="#f0e68a" stroke="#f0e68a" stroke-width="0.35" />
<polygon points="268.6,151.19 272.06,151.16 275.52,151.12 278.98,151.09 282.44,151.05 285.9,151.02 289.36,150.98 292.82,150.94 296.28,150.9 299.74,150.86 303.2,150.81 306.66,150.69 310.12,150.54 313.58,150.38 317.04,150.22 320.5,150.06 323.96,149.88 327.42,149.7 330.88,149.52 334.34,149.33 337.8,149.07 341.26,148.56 344.72,148.05 348.18,147.52 351.64,147 355.1,146.46 358.56,145.87 362.02,145.26 365.48,144.39 368.94,143.45 372.4,142.49 375.86,141.45 379.32,140.37 382.78,139.25 386.24,138 389.7,136.69 393.16,135.31 396.62,133.82 400.08,132.23 403.54,130.55 407,128.47 410.46,126.77 413.92,125.04 417.38,123.28 420.84,121.48 424.3,119.35 427.76,117.13 431.22,114.89 434.68,112.62 438.14,110.32 441.6,107.99 441.6,110.37 438.14,112.58 434.68,114.77 431.22,116.91 427.76,119.05 424.3,121.15 420.84,123.17 417.38,124.86 413.92,126.52 410.46,128.15 407,129.75 403.54,131.69 400.08,133.25 396.62,134.72 393.16,136.11 389.7,137.4 386.24,138.62 382.78,139.78 379.32,140.84 375.86,141.86 372.4,142.84 368.94,143.76 365.48,144.66 362.02,145.5 358.56,146.08 355.1,146.64 351.64,147.16 348.18,147.67 344.72,148.17 341.26,148.67 337.8,149.16 334.34,149.42 330.88,149.59 327.42,149.77 323.96,149.94 320.5,150.1 317.04,150.26 313.58,150.41 310.12,150.57 306.66,150.72 303.2,150.84 299.74,150.87 296.28,150.91 292.82,150.95 289.36,150.99 285.9,151.03 282.44,151.06 278.98,151.09 275.52,151.13 272.06,151.16 268.6,151.2" fill="#f0e88e" stroke="#f0e88e" stroke-width="0.35" />
<polygon points="268.6,151.19 272.06,151.15 275.52,151.12 278.98,151.08 282.44,151.04 285.9,151.01 289.36,150.97 292.82,150.92 296.28,150.88 299.74,150.84 303.2,150.79 306.66,150.67 310.12,150.5 313.58,150.34 317.04,150.17 320.5,150 323.96,149.82 327.42,149.63 330.88,149.44 334.34,149.24 337.8,148.96 341.26,148.44 344.72,147.91 348.18,147.37 351.64,146.82 355.1,146.26 358.56,145.64 362.02,145 365.48,144.09 368.94,143.11 372.4,142.11 375.86,141.02 379.32,139.88 382.78,138.69 386.24,137.37 389.7,135.97 393.16,134.5 396.62,132.9 400.08,131.21 403.54,129.41 407,127.21 410.46,125.41 413.92,123.58 417.38,121.72 420.84,119.82 424.3,117.58 427.76,115.26 431.22,112.9 434.68,110.52 438.14,108.11 441.6,105.66 441.6,107.99 438.14,110.32 434.68,112.62 431.22,114.89 427.76,117.13 424.3,119.35 420.84,121.48 417.38,123.28 413.92,125.04 410.46,126.77 407,128.47 403.54,130.55 400.08,132.23 396.62,133.82 393.16,135.31 389.7,136.69 386.24,138 382.78,139.25 379.32,140.37 375.86,141.45 372.4,142.49 368.94,143.45 365.48,144.39 362.02,145.26 358.56,145.87 355.1,146.46 351.64,147 348.18,147.52 344.72,148.05 341.26,148.56 337.8,149.07 334.34,149.33 330.88,149.52 327.42,149.7 323.96,149.88 320.5,150.06 317.04,150.22 313.58,150.38 310.12,150.54 306.66,150.69 303.2,150.81 299.74,150.86 296.28,150.9 292.82,150.94 289.36,150.98 285.9,151.02 282.44,151.05 278.98,151.09 275.52,151.12 272.06,151.16 268.6,151.19" fill="#efe892" stroke="#efe892" stroke-width="0.35" />
<polygon points="268.6,151.19 272.06,151.15 275.52,151.11 278.98,151.07 282.44,151.04 285.9,151 289.36,150.95 292.82,150.91 296.28,150.86 299.74,150.81 303.2,150.77 306.66,150.63 310.12,150.46 313.58,150.29 317.04,150.12 320.5,149.94 323.96,149.75 327.42,149.55 330.88,149.34 334.34,149.13 337.8,148.84 341.26,148.3 344.72,147.76 348.18,147.2 351.64,146.63 355.1,146.05 358.56,145.4 362.02,144.72 365.48,143.78 368.94,142.76 372.4,141.72 375.86,140.57 379.32,139.37 382.78,138.13 386.24,136.72 389.7,135.24 393.16,133.68 396.62,131.98 400.08,130.18 403.54,128.27 407,125.95 410.46,124.06 413.92,122.14 417.38,120.18 420.84,118.18 424.3,115.84 427.76,113.41 431.22,110.94 434.68,108.46 438.14,105.94 441.6,103.39 441.6,105.66 438.14,108.11 434.68,110.52 431.22,112.9 427.76,115.26 424.3,117.58 420.84,119.82 417.38,121.72 413.92,123.58 410.46,125.41 407,127.21 403.54,129.41 400.08,131.21 396.62,132.9 393.16,134.5 389.7,135.97 386.24,137.37 382.78,138.69 379.32,139.88 375.86,141.02 372.4,142.11 368.94,143.11 365.48,144.09 362.02,145 358.56,145.64 355.1,146.26 351.64,146.82 348.18,147.37 344.72,147.91 341.26,148.44 337.8,148.96 334.34,149.24 330.88,149.44 327.42,149.63 323.96,149.82 320.5,150 317.04,150.17 313.58,150.34 310.12,150.5 306.66,150.67 303.2,150.79 299.74,150.84 296.28,150.88 292.82,150.92 289.36,150.97 285.9,151.01 282.44,151.04 278.98,151.08 275.52,151.12 272.06,151.15 268.6,151.19" fill="#ece995" stroke="#ece995" stroke-width="0.35" />
<polygon points="268.6,151.18 272.06,151.14 275.52,151.1 278.98,151.06 282.44,151.02 285.9,150.98 289.36,150.94 292.82,150.89 296.28,150.84 299.74,150.79 303.2,150.74 306.66,150.6 310.12,150.42 313.58,150.24 317.04,150.06 320.5,149.88 323.96,149.67 327.42,149.46 330.88,149.24 334.34,149.02 337.8,148.71 341.26,148.16 344.72,147.59 348.18,147.02 351.64,146.43 355.1,145.83 358.56,145.14 362.02,144.43 365.48,143.45 368.94,142.4 372.4,141.31 375.86,140.11 379.32,138.85 382.78,137.54 386.24,136.06 389.7,134.49 393.16,132.85 396.62,131.05 400.08,129.15 403.54,127.13 407,124.7 410.46,122.73 413.92,120.71 417.38,118.65 420.84,116.56 424.3,114.12 427.76,111.59 431.22,109.02 434.68,106.43 438.14,103.81 441.6,101.16 441.6,103.39 438.14,105.94 434.68,108.46 431.22,110.94 427.76,113.41 424.3,115.84 420.84,118.18 417.38,120.18 413.92,122.14 410.46,124.06 407,125.95 403.54,128.27 400.08,130.18 396.62,131.98 393.16,133.68 389.7,135.24 386.24,136.72 382.78,138.13 379.32,139.37 375.86,140.57 372.4,141.72 368.94,142.76 365.48,143.78 362.02,144.72 358.56,145.4 355.1,146.05 351.64,146.63 348.18,147.2 344.72,147.76 341.26,148.3 337.8,148.84 334.34,149.13 330.88,149.34 327.42,149.55 323.96,149.75 320.5,149.94 317.04,150.12 313.58,150.29 310.12,150.46 306.66,150.63 303.2,150.77 299.74,150.81 296.28,150.86 292.82,150.91 289.36,150.95 285.9,151 282.44,151.04 278.98,151.07 275.52,151.11 272.06,151.15 268.6,151.19" fill="#e9e998" stroke="#e9e998" stroke-width="0.35" />
<polygon points="268.6,151.18 272.06,151.14 275.52,151.1 278.98,151.05 282.44,151.01 285.9,150.97 289.36,150.92 292.82,150.87 296.28,150.81 299.74,150.76 303.2,150.7 306.66,150.56 310.12,150.37 313.58,150.19 317.04,150 320.5,149.81 323.96,149.59 327.42,149.37 330.88,149.13 334.34,148.89 337.8,148.58 341.26,148 344.72,147.42 348.18,146.82 351.64,146.22 355.1,145.6 358.56,144.88 362.02,144.13 365.48,143.11 368.94,142.02 372.4,140.89 375.86,139.63 379.32,138.31 382.78,136.95 386.24,135.38 389.7,133.74 393.16,132 396.62,130.12 400.08,128.12 403.54,126 407,123.46 410.46,121.4 413.92,119.29 417.38,117.14 420.84,114.96 424.3,112.42 427.76,109.78 431.22,107.12 434.68,104.44 438.14,101.72 441.6,98.96 441.6,101.16 438.14,103.81 434.68,106.43 431.22,109.02 427.76,111.59 424.3,114.12 420.84,116.56 417.38,118.65 413.92,120.71 410.46,122.73 407,124.7 403.54,127.13 400.08,129.15 396.62,131.05 393.16,132.85 389.7,134.49 386.24,136.06 382.78,137.54 379.32,138.85 375.86,140.11 372.4,141.31 368.94,142.4 365.48,143.45 362.02,144.43 358.56,145.14 355.1,145.83 351.64,146.43 348.18,147.02 344.72,147.59 341.26,148.16 337.8,148.71 334.34,149.02 330.88,149.24 327.42,149.46 323.96,149.67 320.5,149.88 317.04,150.06 313.58,150.24 310.12,150.42 306.66,150.6 303.2,150.74 299.74,150.79 296.28,150.84 292.82,150.89 289.36,150.94 285.9,150.98 282.44,151.02 278.98,151.06 275.52,151.1 272.06,151.14 268.6,151.18" fill="#e6ea9c" stroke="#e6ea9c" stroke-width="0.35" />
<polygon points="268.6,151.17 272.06,151.13 275.52,151.09 278.98,151.04 282.44,151 285.9,150.96 289.36,150.9 292.82,150.84 296.28,150.79 299.74,150.73 303.2,150.67 306.66,150.51 310.12,150.32 313.58,150.13 317.04,149.93 320.5,149.73 323.96,149.5 327.42,149.26 330.88,149.02 334.34,148.76 337.8,148.43 341.26,147.84 344.72,147.23 348.18,146.62 351.64,145.99 355.1,145.35 358.56,144.59 362.02,143.81 365.48,142.75 368.94,141.62 372.4,140.45 375.86,139.14 379.32,137.76 382.78,136.34 386.24,134.7 389.7,132.97 393.16,131.16 396.62,129.18 400.08,127.08 403.54,124.87 407,122.23 410.46,120.08 413.92,117.88 417.38,115.64 420.84,113.36 424.3,110.73 427.76,108 431.22,105.24 434.68,102.46 438.14,99.65 441.6,96.8 441.6,98.96 438.14,101.72 434.68,104.44 431.22,107.12 427.76,109.78 424.3,112.42 420.84,114.96 417.38,117.14 413.92,119.29 410.46,121.4 407,123.46 403.54,126 400.08,128.12 396.62,130.12 393.16,132 389.7,133.74 386.24,135.38 382.78,136.95 379.32,138.31 375.86,139.63 372.4,140.89 368.94,142.02 365.48,143.11 362.02,144.13 358.56,144.88 355.1,145.6 351.64,146.22 348.18,146.82 344.72,147.42 341.26,148 337.8,148.58 334.34,148.89 330.88,149.13 327.42,149.37 323.96,149.59 320.5,149.81 317.04,150 313.58,150.19 310.12,150.37 306.66,150.56 303.2,150.7 299.74,150.76 296.28,150.81 292.82,150.87 289.36,150.92 285.9,150.97 282.44,151.01 278.98,151.05 275.52,151.1 272.06,151.14 268.6,151.18" fill="#e3ea9f" stroke="#e3ea9f" stroke-width="0.35" />
<polygon points="268.6,151.17 272.06,151.12 275.52,151.08 278.98,151.03 282.44,150.99 285.9,150.94 289.36,150.88 292.82,150.82 296.28,150.76 299.74,150.69 303.2,150.63 306.66,150.47 310.12,150.27 313.58,150.06 317.04,149.86 320.5,149.65 323.96,149.4 327.42,149.15 330.88,148.89 334.34,148.62 337.8,148.27 341.26,147.66 344.72,147.04 348.18,146.4 351.64,145.75 355.1,145.09 358.56,144.3 362.02,143.48 365.48,142.38 368.94,141.21 372.4,140 375.86,138.63 379.32,137.2 382.78,135.71 386.24,134 389.7,132.19 393.16,130.3 396.62,128.23 400.08,126.04 403.54,123.74 407,121 410.46,118.76 413.92,116.48 417.38,114.15 420.84,111.79 424.3,109.06 427.76,106.24 431.22,103.38 434.68,100.51 438.14,97.61 441.6,94.66 441.6,96.8 438.14,99.65 434.68,102.46 431.22,105.24 427.76,108 424.3,110.73 420.84,113.36 417.38,115.64 413.92,117.88 410.46,120.08 407,122.23 403.54,124.87 400.08,127.08 396.62,129.18 393.16,131.16 389.7,132.97 386.24,134.7 382.78,136.34 379.32,137.76 375.86,139.14 372.4,140.45 368.94,141.62 365.48,142.75 362.02,143.81 358.56,144.59 355.1,145.35 351.64,145.99 348.18,146.62 344.72,147.23 341.26,147.84 337.8,148.43 334.34,148.76 330.88,149.02 327.42,149.26 323.96,149.5 320.5,149.73 317.04,149.93 313.58,150.13 310.12,150.32 306.66,150.51 303.2,150.67 299.74,150.73 296.28,150.79 292.82,150.84 289.36,150.9 285.9,150.96 282.44,151 278.98,151.04 275.52,151.09 272.06,151.13 268.6,151.17" fill="#e0eaa2" stroke="#e0eaa2" stroke-width="0.35" />
<polygon points="268.6,151.16 272.06,151.11 275.52,151.07 278.98,151.02 282.44,150.97 285.9,150.92 289.36,150.86 292.82,150.79 296.28,150.73 299.74,150.66 303.2,150.59 306.66,150.42 310.12,150.21 313.58,149.99 317.04,149.78 320.5,149.56 323.96,149.3 327.42,149.03 330.88,148.76 334.34,148.47 337.8,148.11 341.26,147.48 344.72,146.84 348.18,146.18 351.64,145.51 355.1,144.82 358.56,143.99 362.02,143.14 365.48,142 368.94,140.79 372.4,139.54 375.86,138.11 379.32,136.63 382.78,135.08 386.24,133.29 389.7,131.41 393.16,129.43 396.62,127.28 400.08,125 403.54,122.61 407,119.77 410.46,117.45 413.92,115.09 417.38,112.67 420.84,110.22 424.3,107.41 427.76,104.49 431.22,101.54 434.68,98.59 438.14,95.59 441.6,92.56 441.6,94.66 438.14,97.61 434.68,100.51 431.22,103.38 427.76,106.24 424.3,109.06 420.84,111.79 417.38,114.15 413.92,116.48 410.46,118.76 407,121 403.54,123.74 400.08,126.04 396.62,128.23 393.16,130.3 389.7,132.19 386.24,134 382.78,135.71 379.32,137.2 375.86,138.63 372.4,140 368.94,141.21 365.48,142.38 362.02,143.48 358.56,144.3 355.1,145.09 351.64,145.75 348.18,146.4 344.72,147.04 341.26,147.66 337.8,148.27 334.34,148.62 330.88,148.89 327.42,149.15 323.96,149.4 320.5,149.65 317.04,149.86 313.58,150.06 310.12,150.27 306.66,150.47 303.2,150.63 299.74,150.69 296.28,150.76 292.82,150.82 289.36,150.88 285.9,150.94 282.44,150.99 278.98,151.03 275.52,151.08 272.06,151.12 268.6,151.17" fill="#ddeba6" stroke="#ddeba6" stroke-width="0.35" />
<polygon points="268.6,151.15 272.06,151.1 275.52,151.05 278.98,151 282.44,150.95 285.9,150.9 289.36,150.83 292.82,150.76 296.28,150.69 299.74,150.62 303.2,150.55 306.66,150.36 310.12,150.14 313.58,149.92 317.04,149.69 320.5,149.47 323.96,149.19 327.42,148.91 330.88,148.62 334.34,148.32 337.8,147.94 341.26,147.29 344.72,146.62 348.18,145.94 351.64,145.25 355.1,144.54 358.56,143.68 362.02,142.78 365.48,141.61 368.94,140.36 372.4,139.07 375.86,137.59 379.32,136.05 382.78,134.44 386.24,132.57 389.7,130.62 393.16,128.56 396.62,126.32 400.08,123.96 403.54,121.48 407,118.56 410.46,116.15 413.92,113.7 417.38,111.2 420.84,108.67 424.3,105.76 427.76,102.76 431.22,99.72 434.68,96.68 438.14,93.6 441.6,90.47 441.6,92.56 438.14,95.59 434.68,98.59 431.22,101.54 427.76,104.49 424.3,107.41 420.84,110.22 417.38,112.67 413.92,115.09 410.46,117.45 407,119.77 403.54,122.61 400.08,125 396.62,127.28 393.16,129.43 389.7,131.41 386.24,133.29 382.78,135.08 379.32,136.63 375.86,138.11 372.4,139.54 368.94,140.79 365.48,142 362.02,143.14 358.56,143.99 355.1,144.82 351.64,145.51 348.18,146.18 344.72,146.84 341.26,147.48 337.8,148.11 334.34,148.47 330.88,148.76 327.42,149.03 323.96,149.3 320.5,149.56 317.04,149.78 313.58,149.99 310.12,150.21 306.66,150.42 303.2,150.59 299.74,150.66 296.28,150.73 292.82,150.79 289.36,150.86 285.9,150.92 282.44,150.97 278.98,151.02 275.52,151.07 272.06,151.11 268.6,151.16" fill="#daeba9" stroke="#daeba9" stroke-width="0.35" />
<polygon points="268.6,151.14 272.06,151.09 275.52,151.04 278.98,150.99 282.44,150.94 285.9,150.88 289.36,150.81 292.82,150.73 296.28,150.66 299.74,150.58 303.2,150.5 306.66,150.31 310.12,150.08 313.58,149.84 317.04,149.61 320.5,149.37 323.96,149.08 327.42,148.78 330.88,148.47 334.34,148.15 337.8,147.75 341.26,147.08 344.72,146.4 348.18,145.7 351.64,144.98 355.1,144.25 358.56,143.35 362.02,142.42 365.48,141.21 368.94,139.92 372.4,138.59 375.86,137.05 379.32,135.45 382.78,133.79 386.24,131.85 389.7,129.82 393.16,127.69 396.62,125.36 400.08,122.92 403.54,120.35 407,117.34 410.46,114.86 413.92,112.32 417.38,109.74 420.84,107.12 424.3,104.13 427.76,101.04 431.22,97.91 434.68,94.79 438.14,91.62 441.6,88.41 441.6,90.47 438.14,93.6 434.68,96.68 431.22,99.72 427.76,102.76 424.3,105.76 420.84,108.67 417.38,111.2 413.92,113.7 410.46,116.15 407,118.56 403.54,121.48 400.08,123.96 396.62,126.32 393.16,128.56 389.7,130.62 386.24,132.57 382.78,134.44 379.32,136.05 375.86,137.59 372.4,139.07 368.94,140.36 365.48,141.61 362.02,142.78 358.56,143.68 355.1,144.54 351.64,145.25 348.18,145.94 344.72,146.62 341.26,147.29 337.8,147.94 334.34,148.32 330.88,148.62 327.42,148.91 323.96,149.19 320.5,149.47 317.04,149.69 313.58,149.92 310.12,150.14 306.66,150.36 303.2,150.55 299.74,150.62 296.28,150.69 292.82,150.76 289.36,150.83 285.9,150.9 282.44,150.95 278.98,151 275.52,151.05 272.06,151.1 268.6,151.15" fill="#d7ecac" stroke="#d7ecac" stroke-width="0.35" />
<polygon points="268.6,151.14 272.06,151.08 275.52,151.03 278.98,150.97 282.44,150.92 285.9,150.86 289.36,150.78 292.82,150.7 296.28,150.62 299.74,150.54 303.2,150.45 306.66,150.24 310.12,150 313.58,149.76 317.04,149.51 320.5,149.26 323.96,148.96 327.42,148.64 330.88,148.32 334.34,147.98 337.8,147.56 341.26,146.87 344.72,146.17 348.18,145.44 351.64,144.71 355.1,143.95 358.56,143.01 362.02,142.04 365.48,140.79 368.94,139.46 372.4,138.09 375.86,136.5 379.32,134.85 382.78,133.13 386.24,131.11 389.7,129.01 393.16,126.8 396.62,124.4 400.08,121.87 403.54,119.22 407,116.13 410.46,113.57 413.92,110.95 417.38,108.29 420.84,105.59 424.3,102.51 427.76,99.34 431.22,96.12 434.68,92.91 438.14,89.66 441.6,86.37 441.6,88.41 438.14,91.62 434.68,94.79 431.22,97.91 427.76,101.04 424.3,104.13 420.84,107.12 417.38,109.74 413.92,112.32 410.46,114.86 407,117.34 403.54,120.35 400.08,122.92 396.62,125.36 393.16,127.69 389.7,129.82 386.24,131.85 382.78,133.79 379.32,135.45 375.86,137.05 372.4,138.59 368.94,139.92 365.48,141.21 362.02,142.42 358.56,143.35 355.1,144.25 351.64,144.98 348.18,145.7 344.72,146.4 341.26,147.08 337.8,147.75 334.34,148.15 330.88,148.47 327.42,148.78 323.96,149.08 320.5,149.37 317.04,149.61 313.58,149.84 310.12,150.08 306.66,150.31 303.2,150.5 299.74,150.58 296.28,150.66 292.82,150.73 289.36,150.81 285.9,150.88 282.44,150.94 278.98,150.99 275.52,151.04 272.06,151.09 268.6,151.14" fill="#d2ebae" stroke="#d2ebae" stroke-width="0.35" />
<polygon points="268.6,151.13 272.06,151.07 275.52,151.01 278.98,150.96 282.44,150.9 285.9,150.84 289.36,150.75 292.82,150.67 296.28,150.58 299.74,150.49 303.2,150.4 306.66,150.18 310.12,149.93 313.58,149.67 317.04,149.41 320.5,149.15 323.96,148.83 327.42,148.5 330.88,148.15 334.34,147.8 337.8,147.37 341.26,146.65 344.72,145.93 348.18,145.18 351.64,144.42 355.1,143.64 358.56,142.67 362.02,141.65 365.48,140.37 368.94,139 372.4,137.59 375.86,135.94 379.32,134.23 382.78,132.46 386.24,130.37 389.7,128.19 393.16,125.92 396.62,123.43 400.08,120.83 403.54,118.1 407,114.92 410.46,112.28 413.92,109.59 417.38,106.84 420.84,104.06 424.3,100.9 427.76,97.64 431.22,94.34 434.68,91.05 438.14,87.72 441.6,84.35 441.6,86.37 438.14,89.66 434.68,92.91 431.22,96.12 427.76,99.34 424.3,102.51 420.84,105.59 417.38,108.29 413.92,110.95 410.46,113.57 407,116.13 403.54,119.22 400.08,121.87 396.62,124.4 393.16,126.8 389.7,129.01 386.24,131.11 382.78,133.13 379.32,134.85 375.86,136.5 372.4,138.09 368.94,139.46 365.48,140.79 362.02,142.04 358.56,143.01 355.1,143.95 351.64,144.71 348.18,145.44 344.72,146.17 341.26,146.87 337.8,147.56 334.34,147.98 330.88,148.32 327.42,148.64 323.96,148.96 320.5,149.26 317.04,149.51 313.58,149.76 310.12,150 306.66,150.24 303.2,150.45 299.74,150.54 296.28,150.62 292.82,150.7 289.36,150.78 285.9,150.86 282.44,150.92 278.98,150.97 275.52,151.03 272.06,151.08 268.6,151.14" fill="#c9e9ae" stroke="#c9e9ae" stroke-width="0.35" />
<polygon points="268.6,151.12 272.06,151.06 275.52,151 278.98,150.94 282.44,150.88 285.9,150.81 289.36,150.72 292.82,150.63 296.28,150.54 299.74,150.44 303.2,150.34 306.66,150.11 310.12,149.85 313.58,149.58 317.04,149.31 320.5,149.04 323.96,148.7 327.42,148.35 330.88,147.99 334.34,147.61 337.8,147.16 341.26,146.43 344.72,145.68 348.18,144.91 351.64,144.12 355.1,143.32 358.56,142.31 362.02,141.26 365.48,139.93 368.94,138.53 372.4,137.08 375.86,135.37 379.32,133.61 382.78,131.78 386.24,129.62 389.7,127.37 393.16,125.02 396.62,122.46 400.08,119.78 403.54,116.97 407,113.72 410.46,111 413.92,108.23 417.38,105.4 420.84,102.54 424.3,99.3 427.76,95.96 431.22,92.58 434.68,89.21 438.14,85.8 441.6,82.35 441.6,84.35 438.14,87.72 434.68,91.05 431.22,94.34 427.76,97.64 424.3,100.9 420.84,104.06 417.38,106.84 413.92,109.59 410.46,112.28 407,114.92 403.54,118.1 400.08,120.83 396.62,123.43 393.16,125.92 389.7,128.19 386.24,130.37 382.78,132.46 379.32,134.23 375.86,135.94 372.4,137.59 368.94,139 365.48,140.37 362.02,141.65 358.56,142.67 355.1,143.64 351.64,144.42 348.18,145.18 344.72,145.93 341.26,146.65 337.8,147.37 334.34,147.8 330.88,148.15 327.42,148.5 323.96,148.83 320.5,149.15 317.04,149.41 313.58,149.67 310.12,149.93 306.66,150.18 303.2,150.4 299.74,150.49 296.28,150.58 292.82,150.67 289.36,150.75 285.9,150.84 282.44,150.9 278.98,150.96 275.52,151.01 272.06,151.07 268.6,151.13" fill="#c1e6af" stroke="#c1e6af" stroke-width="0.35" />
<polygon points="268.6,151.11 272.06,151.05 275.52,150.98 278.98,150.92 282.44,150.85 285.9,150.79 289.36,150.69 292.82,150.59 296.28,150.49 299.74,150.39 303.2,150.29 306.66,150.04 310.12,149.77 313.58,149.49 317.04,149.2 320.5,148.91 323.96,148.56 327.42,148.19 330.88,147.81 334.34,147.42 337.8,146.95 341.26,146.19 344.72,145.42 348.18,144.63 351.64,143.82 355.1,142.99 358.56,141.94 362.02,140.85 365.48,139.49 368.94,138.04 372.4,136.55 375.86,134.8 379.32,132.98 382.78,131.1 386.24,128.87 389.7,126.55 393.16,124.13 396.62,121.49 400.08,118.73 403.54,115.85 407,112.52 410.46,109.72 413.92,106.87 417.38,103.97 420.84,101.03 424.3,97.71 427.76,94.28 431.22,90.82 434.68,87.37 438.14,83.89 441.6,80.36 441.6,82.35 438.14,85.8 434.68,89.21 431.22,92.58 427.76,95.96 424.3,99.3 420.84,102.54 417.38,105.4 413.92,108.23 410.46,111 407,113.72 403.54,116.97 400.08,119.78 396.62,122.46 393.16,125.02 389.7,127.37 386.24,129.62 382.78,131.78 379.32,133.61 375.86,135.37 372.4,137.08 368.94,138.53 365.48,139.93 362.02,141.26 358.56,142.31 355.1,143.32 351.64,144.12 348.18,144.91 344.72,145.68 341.26,146.43 337.8,147.16 334.34,147.61 330.88,147.99 327.42,148.35 323.96,148.7 320.5,149.04 317.04,149.31 313.58,149.58 310.12,149.85 306.66,150.11 303.2,150.34 299.74,150.44 296.28,150.54 292.82,150.63 289.36,150.72 285.9,150.81 282.44,150.88 278.98,150.94 275.52,151 272.06,151.06 268.6,151.12" fill="#b8e4af" stroke="#b8e4af" stroke-width="0.35" />
<polygon points="268.6,151.1 272.06,151.03 275.52,150.97 278.98,150.9 282.44,150.83 285.9,150.76 289.36,150.66 292.82,150.55 296.28,150.45 299.74,150.34 303.2,150.23 306.66,149.97 310.12,149.68 313.58,149.39 317.04,149.09 320.5,148.79 323.96,148.41 327.42,148.03 330.88,147.63 334.34,147.22 337.8,146.73 341.26,145.95 344.72,145.15 348.18,144.34 351.64,143.51 355.1,142.66 358.56,141.57 362.02,140.44 365.48,139.04 368.94,137.55 372.4,136.02 375.86,134.21 379.32,132.34 382.78,130.4 386.24,128.1 389.7,125.71 393.16,123.23 396.62,120.51 400.08,117.68 403.54,114.73 407,111.32 410.46,108.45 413.92,105.52 417.38,102.54 420.84,99.52 424.3,96.12 427.76,92.62 431.22,89.08 434.68,85.56 438.14,81.99 441.6,78.39 441.6,80.36 438.14,83.89 434.68,87.37 431.22,90.82 427.76,94.28 424.3,97.71 420.84,101.03 417.38,103.97 413.92,106.87 410.46,109.72 407,112.52 403.54,115.85 400.08,118.73 396.62,121.49 393.16,124.13 389.7,126.55 386.24,128.87 382.78,131.1 379.32,132.98 375.86,134.8 372.4,136.55 368.94,138.04 365.48,139.49 362.02,140.85 358.56,141.94 355.1,142.99 351.64,143.82 348.18,144.63 344.72,145.42 341.26,146.19 337.8,146.95 334.34,147.42 330.88,147.81 327.42,148.19 323.96,148.56 320.5,148.91 317.04,149.2 313.58,149.49 310.12,149.77 306.66,150.04 303.2,150.29 299.74,150.39 296.28,150.49 292.82,150.59 289.36,150.69 285.9,150.79 282.44,150.85 278.98,150.92 275.52,150.98 272.06,151.05 268.6,151.11" fill="#b0e2af" stroke="#b0e2af" stroke-width="0.35" />
<polygon points="268.6,151.09 272.06,151.02 275.52,150.95 278.98,150.88 282.44,150.81 285.9,150.73 289.36,150.62 292.82,150.51 296.28,150.4 299.74,150.28 303.2,150.16 306.66,149.89 310.12,149.59 313.58,149.28 317.04,148.97 320.5,148.66 323.96,148.26 327.42,147.86 330.88,147.44 334.34,147.01 337.8,146.5 341.26,145.7 344.72,144.88 348.18,144.04 351.64,143.18 355.1,142.31 358.56,141.18 362.02,140.02 365.48,138.57 368.94,137.05 372.4,135.48 375.86,133.62 379.32,131.7 382.78,129.7 386.24,127.34 389.7,124.88 393.16,122.32 396.62,119.53 400.08,116.63 403.54,113.6 407,110.13 410.46,107.18 413.92,104.18 417.38,101.12 420.84,98.03 424.3,94.55 427.76,90.97 431.22,87.35 434.68,83.75 438.14,80.11 441.6,76.43 441.6,78.39 438.14,81.99 434.68,85.56 431.22,89.08 427.76,92.62 424.3,96.12 420.84,99.52 417.38,102.54 413.92,105.52 410.46,108.45 407,111.32 403.54,114.73 400.08,117.68 396.62,120.51 393.16,123.23 389.7,125.71 386.24,128.1 382.78,130.4 379.32,132.34 375.86,134.21 372.4,136.02 368.94,137.55 365.48,139.04 362.02,140.44 358.56,141.57 355.1,142.66 351.64,143.51 348.18,144.34 344.72,145.15 341.26,145.95 337.8,146.73 334.34,147.22 330.88,147.63 327.42,148.03 323.96,148.41 320.5,148.79 317.04,149.09 313.58,149.39 310.12,149.68 306.66,149.97 303.2,150.23 299.74,150.34 296.28,150.45 292.82,150.55 289.36,150.66 285.9,150.76 282.44,150.83 278.98,150.9 275.52,150.97 272.06,151.03 268.6,151.1" fill="#a8e0af" stroke="#a8e0af" stroke-width="0.35" />
<polygon points="268.6,151.08 272.06,151 275.52,150.93 278.98,150.86 282.44,150.78 285.9,150.71 289.36,150.59 292.82,150.47 296.28,150.35 299.74,150.22 303.2,150.1 306.66,149.81 310.12,149.5 313.58,149.17 317.04,148.85 320.5,148.52 323.96,148.11 327.42,147.68 330.88,147.24 334.34,146.79 337.8,146.27 341.26,145.44 344.72,144.6 348.18,143.74 351.64,142.86 355.1,141.96 358.56,140.79 362.02,139.58 365.48,138.1 368.94,136.54 372.4,134.94 375.86,133.02 379.32,131.04 382.78,129 386.24,126.56 389.7,124.03 393.16,121.41 396.62,118.55 400.08,115.57 403.54,112.48 407,108.94 410.46,105.91 413.92,102.84 417.38,99.7 420.84,96.54 424.3,92.98 427.76,89.32 431.22,85.63 434.68,81.95 438.14,78.24 441.6,74.49 441.6,76.43 438.14,80.11 434.68,83.75 431.22,87.35 427.76,90.97 424.3,94.55 420.84,98.03 417.38,101.12 413.92,104.18 410.46,107.18 407,110.13 403.54,113.6 400.08,116.63 396.62,119.53 393.16,122.32 389.7,124.88 386.24,127.34 382.78,129.7 379.32,131.7 375.86,133.62 372.4,135.48 368.94,137.05 365.48,138.57 362.02,140.02 358.56,141.18 355.1,142.31 351.64,143.18 348.18,144.04 344.72,144.88 341.26,145.7 337.8,146.5 334.34,147.01 330.88,147.44 327.42,147.86 323.96,148.26 320.5,148.66 317.04,148.97 313.58,149.28 310.12,149.59 306.66,149.89 303.2,150.16 299.74,150.28 296.28,150.4 292.82,150.51 289.36,150.62 285.9,150.73 282.44,150.81 278.98,150.88 275.52,150.95 272.06,151.02 268.6,151.09" fill="#9fdeaf" stroke="#9fdeaf" stroke-width="0.35" />
<polygon points="268.6,151.06 272.06,150.99 275.52,150.91 278.98,150.83 282.44,150.75 285.9,150.67 289.36,150.55 292.82,150.42 296.28,150.29 299.74,150.16 303.2,150.03 306.66,149.73 310.12,149.4 313.58,149.06 317.04,148.72 320.5,148.38 323.96,147.95 327.42,147.5 330.88,147.04 334.34,146.57 337.8,146.03 341.26,145.18 344.72,144.31 348.18,143.42 351.64,142.52 355.1,141.59 358.56,140.39 362.02,139.14 365.48,137.63 368.94,136.02 372.4,134.38 375.86,132.41 379.32,130.38 382.78,128.28 386.24,125.78 389.7,123.18 393.16,120.49 396.62,117.56 400.08,114.52 403.54,111.36 407,107.75 410.46,104.65 413.92,101.5 417.38,98.29 420.84,95.05 424.3,91.42 427.76,87.68 431.22,83.91 434.68,80.16 438.14,76.38 441.6,72.56 441.6,74.49 438.14,78.24 434.68,81.95 431.22,85.63 427.76,89.32 424.3,92.98 420.84,96.54 417.38,99.7 413.92,102.84 410.46,105.91 407,108.94 403.54,112.48 400.08,115.57 396.62,118.55 393.16,121.41 389.7,124.03 386.24,126.56 382.78,129 379.32,131.04 375.86,133.02 372.4,134.94 368.94,136.54 365.48,138.1 362.02,139.58 358.56,140.79 355.1,141.96 351.64,142.86 348.18,143.74 344.72,144.6 341.26,145.44 337.8,146.27 334.34,146.79 330.88,147.24 327.42,147.68 323.96,148.11 320.5,148.52 317.04,148.85 313.58,149.17 310.12,149.5 306.66,149.81 303.2,150.1 299.74,150.22 296.28,150.35 292.82,150.47 289.36,150.59 285.9,150.71 282.44,150.78 278.98,150.86 275.52,150.93 272.06,151 268.6,151.08" fill="#97dbb0" stroke="#97dbb0" stroke-width="0.35" />
<polygon points="268.6,151.05 272.06,150.97 275.52,150.89 278.98,150.81 282.44,150.73 285.9,150.64 289.36,150.51 292.82,150.37 296.28,150.24 299.74,150.1 303.2,149.96 306.66,149.64 310.12,149.3 313.58,148.95 317.04,148.59 320.5,148.23 323.96,147.78 327.42,147.31 330.88,146.83 334.34,146.34 337.8,145.78 341.26,144.9 344.72,144.01 348.18,143.1 351.64,142.17 355.1,141.22 358.56,139.98 362.02,138.69 365.48,137.14 368.94,135.5 372.4,133.82 375.86,131.8 379.32,129.71 382.78,127.56 386.24,124.99 389.7,122.33 393.16,119.58 396.62,116.57 400.08,113.46 403.54,110.24 407,106.56 410.46,103.39 413.92,100.17 417.38,96.88 420.84,93.57 424.3,89.86 427.76,86.05 431.22,82.21 434.68,78.39 438.14,74.54 441.6,70.65 441.6,72.56 438.14,76.38 434.68,80.16 431.22,83.91 427.76,87.68 424.3,91.42 420.84,95.05 417.38,98.29 413.92,101.5 410.46,104.65 407,107.75 403.54,111.36 400.08,114.52 396.62,117.56 393.16,120.49 389.7,123.18 386.24,125.78 382.78,128.28 379.32,130.38 375.86,132.41 372.4,134.38 368.94,136.02 365.48,137.63 362.02,139.14 358.56,140.39 355.1,141.59 351.64,142.52 348.18,143.42 344.72,144.31 341.26,145.18 337.8,146.03 334.34,146.57 330.88,147.04 327.42,147.5 323.96,147.95 320.5,148.38 317.04,148.72 313.58,149.06 310.12,149.4 306.66,149.73 303.2,150.03 299.74,150.16 296.28,150.29 292.82,150.42 289.36,150.55 285.9,150.67 282.44,150.75 278.98,150.83 275.52,150.91 272.06,150.99 268.6,151.06" fill="#8ed9b0" stroke="#8ed9b0" stroke-width="0.35" />
<polygon points="268.6,151.04 272.06,150.95 275.52,150.87 278.98,150.78 282.44,150.7 285.9,150.61 289.36,150.47 292.82,150.33 296.28,150.18 299.74,150.03 303.2,149.88 306.66,149.55 310.12,149.19 313.58,148.83 317.04,148.46 320.5,148.08 323.96,147.61 327.42,147.12 330.88,146.62 334.34,146.11 337.8,145.52 341.26,144.62 344.72,143.71 348.18,142.77 351.64,141.82 355.1,140.85 358.56,139.56 362.02,138.24 365.48,136.64 368.94,134.97 372.4,133.25 375.86,131.17 379.32,129.04 382.78,126.84 386.24,124.2 389.7,121.47 393.16,118.65 396.62,115.58 400.08,112.41 403.54,109.12 407,105.38 410.46,102.14 413.92,98.84 417.38,95.48 420.84,92.1 424.3,88.31 427.76,84.43 431.22,80.51 434.68,76.62 438.14,72.7 441.6,68.74 441.6,70.65 438.14,74.54 434.68,78.39 431.22,82.21 427.76,86.05 424.3,89.86 420.84,93.57 417.38,96.88 413.92,100.17 410.46,103.39 407,106.56 403.54,110.24 400.08,113.46 396.62,116.57 393.16,119.58 389.7,122.33 386.24,124.99 382.78,127.56 379.32,129.71 375.86,131.8 372.4,133.82 368.94,135.5 365.48,137.14 362.02,138.69 358.56,139.98 355.1,141.22 351.64,142.17 348.18,143.1 344.72,144.01 341.26,144.9 337.8,145.78 334.34,146.34 330.88,146.83 327.42,147.31 323.96,147.78 320.5,148.23 317.04,148.59 313.58,148.95 310.12,149.3 306.66,149.64 303.2,149.96 299.74,150.1 296.28,150.24 292.82,150.37 289.36,150.51 285.9,150.64 282.44,150.73 278.98,150.81 275.52,150.89 272.06,150.97 268.6,151.05" fill="#84d6af" stroke="#84d6af" stroke-width="0.35" />
<polygon points="268.6,151.03 272.06,150.94 275.52,150.85 278.98,150.76 282.44,150.67 285.9,150.58 289.36,150.43 292.82,150.28 296.28,150.12 299.74,149.97 303.2,149.81 306.66,149.46 310.12,149.08 313.58,148.7 317.04,148.32 320.5,147.92 323.96,147.43 327.42,146.92 330.88,146.4 334.34,145.86 337.8,145.26 341.26,144.34 344.72,143.4 348.18,142.44 351.64,141.46 355.1,140.46 358.56,139.14 362.02,137.77 365.48,136.14 368.94,134.42 372.4,132.67 375.86,130.54 379.32,128.35 382.78,126.1 386.24,123.4 389.7,120.61 393.16,117.73 396.62,114.59 400.08,111.35 403.54,108 407,104.2 410.46,100.88 413.92,97.51 417.38,94.09 420.84,90.63 424.3,86.77 427.76,82.81 431.22,78.82 434.68,74.87 438.14,70.87 441.6,66.85 441.6,68.74 438.14,72.7 434.68,76.62 431.22,80.51 427.76,84.43 424.3,88.31 420.84,92.1 417.38,95.48 413.92,98.84 410.46,102.14 407,105.38 403.54,109.12 400.08,112.41 396.62,115.58 393.16,118.65 389.7,121.47 386.24,124.2 382.78,126.84 379.32,129.04 375.86,131.17 372.4,133.25 368.94,134.97 365.48,136.64 362.02,138.24 358.56,139.56 355.1,140.85 351.64,141.82 348.18,142.77 344.72,143.71 341.26,144.62 337.8,145.52 334.34,146.11 330.88,146.62 327.42,147.12 323.96,147.61 320.5,148.08 317.04,148.46 313.58,148.83 310.12,149.19 306.66,149.55 303.2,149.88 299.74,150.03 296.28,150.18 292.82,150.33 289.36,150.47 285.9,150.61 282.44,150.7 278.98,150.78 275.52,150.87 272.06,150.95 268.6,151.04" fill="#79d3ac" stroke="#79d3ac" stroke-width="0.35" />
<polygon points="268.6,151.01 272.06,150.92 275.52,150.83 278.98,150.73 282.44,150.64 285.9,150.54 289.36,150.38 292.82,150.22 296.28,150.06 299.74,149.9 303.2,149.73 306.66,149.37 310.12,148.97 313.58,148.57 317.04,148.17 320.5,147.76 323.96,147.25 327.42,146.72 330.88,146.17 334.34,145.62 337.8,144.99 341.26,144.04 344.72,143.08 348.18,142.09 351.64,141.09 355.1,140.07 358.56,138.7 362.02,137.3 365.48,135.63 368.94,133.88 372.4,132.08 375.86,129.9 379.32,127.67 382.78,125.37 386.24,122.59 389.7,119.74 393.16,116.8 396.62,113.6 400.08,110.29 403.54,106.88 407,103.02 410.46,99.63 413.92,96.19 417.38,92.69 420.84,89.17 424.3,85.23 427.76,81.21 431.22,77.14 434.68,73.12 438.14,69.06 441.6,64.97 441.6,66.85 438.14,70.87 434.68,74.87 431.22,78.82 427.76,82.81 424.3,86.77 420.84,90.63 417.38,94.09 413.92,97.51 410.46,100.88 407,104.2 403.54,108 400.08,111.35 396.62,114.59 393.16,117.73 389.7,120.61 386.24,123.4 382.78,126.1 379.32,128.35 375.86,130.54 372.4,132.67 368.94,134.42 365.48,136.14 362.02,137.77 358.56,139.14 355.1,140.46 351.64,141.46 348.18,142.44 344.72,143.4 341.26,144.34 337.8,145.26 334.34,145.86 330.88,146.4 327.42,146.92 323.96,147.43 320.5,147.92 317.04,148.32 313.58,148.7 310.12,149.08 306.66,149.46 303.2,149.81 299.74,149.97 296.28,150.12 292.82,150.28 289.36,150.43 285.9,150.58 282.44,150.67 278.98,150.76 275.52,150.85 272.06,150.94 268.6,151.03" fill="#6ecfaa" stroke="#6ecfaa" stroke-width="0.35" />
<polygon points="268.6,151 272.06,150.9 275.52,150.8 278.98,150.7 282.44,150.6 285.9,150.5 289.36,150.34 292.82,150.17 296.28,150 299.74,149.82 303.2,149.65 306.66,149.27 310.12,148.86 313.58,148.44 317.04,148.02 320.5,147.6 323.96,147.06 327.42,146.51 330.88,145.94 334.34,145.36 337.8,144.72 341.26,143.74 344.72,142.75 348.18,141.74 351.64,140.71 355.1,139.67 358.56,138.26 362.02,136.82 365.48,135.11 368.94,133.32 372.4,131.49 375.86,129.26 379.32,126.97 382.78,124.62 386.24,121.79 389.7,118.87 393.16,115.87 396.62,112.6 400.08,109.23 403.54,105.77 407,101.84 410.46,98.39 413.92,94.87 417.38,91.31 420.84,87.71 424.3,83.7 427.76,79.6 431.22,75.47 434.68,71.38 438.14,67.25 441.6,63.09 441.6,64.97 438.14,69.06 434.68,73.12 431.22,77.14 427.76,81.21 424.3,85.23 420.84,89.17 417.38,92.69 413.92,96.19 410.46,99.63 407,103.02 403.54,106.88 400.08,110.29 396.62,113.6 393.16,116.8 389.7,119.74 386.24,122.59 382.78,125.37 379.32,127.67 375.86,129.9 372.4,132.08 368.94,133.88 365.48,135.63 362.02,137.3 358.56,138.7 355.1,140.07 351.64,141.09 348.18,142.09 344.72,143.08 341.26,144.04 337.8,144.99 334.34,145.62 330.88,146.17 327.42,146.72 323.96,147.25 320.5,147.76 317.04,148.17 313.58,148.57 310.12,148.97 306.66,149.37 303.2,149.73 299.74,149.9 296.28,150.06 292.82,150.22 289.36,150.38 285.9,150.54 282.44,150.64 278.98,150.73 275.52,150.83 272.06,150.92 268.6,151.01" fill="#63cca7" stroke="#63cca7" stroke-width="0.35" />
<polygon points="268.6,150.98 272.06,150.88 275.52,150.78 278.98,150.68 282.44,150.57 285.9,150.47 289.36,150.29 292.82,150.11 296.28,149.93 299.74,149.75 303.2,149.57 306.66,149.17 310.12,148.74 313.58,148.3 317.04,147.87 320.5,147.43 323.96,146.86 327.42,146.29 330.88,145.7 334.34,145.1 337.8,144.44 341.26,143.44 344.72,142.42 348.18,141.38 351.64,140.33 355.1,139.26 358.56,137.82 362.02,136.33 365.48,134.59 368.94,132.76 372.4,130.89 375.86,128.61 379.32,126.27 382.78,123.87 386.24,120.97 389.7,117.99 393.16,114.93 396.62,111.6 400.08,108.17 403.54,104.65 407,100.67 410.46,97.14 413.92,93.56 417.38,89.92 420.84,86.25 424.3,82.18 427.76,78.01 431.22,73.81 434.68,69.64 438.14,65.45 441.6,61.23 441.6,63.09 438.14,67.25 434.68,71.38 431.22,75.47 427.76,79.6 424.3,83.7 420.84,87.71 417.38,91.31 413.92,94.87 410.46,98.39 407,101.84 403.54,105.77 400.08,109.23 396.62,112.6 393.16,115.87 389.7,118.87 386.24,121.79 382.78,124.62 379.32,126.97 375.86,129.26 372.4,131.49 368.94,133.32 365.48,135.11 362.02,136.82 358.56,138.26 355.1,139.67 351.64,140.71 348.18,141.74 344.72,142.75 341.26,143.74 337.8,144.72 334.34,145.36 330.88,145.94 327.42,146.51 323.96,147.06 320.5,147.6 317.04,148.02 313.58,148.44 310.12,148.86 306.66,149.27 303.2,149.65 299.74,149.82 296.28,150 292.82,150.17 289.36,150.34 285.9,150.5 282.44,150.6 278.98,150.7 275.52,150.8 272.06,150.9 268.6,151" fill="#58c9a4" stroke="#58c9a4" stroke-width="0.35" />
<polygon points="268.6,150.97 272.06,150.86 275.52,150.75 278.98,150.65 282.44,150.54 285.9,150.43 289.36,150.24 292.82,150.05 296.28,149.86 299.74,149.67 303.2,149.48 306.66,149.06 310.12,148.61 313.58,148.16 317.04,147.71 320.5,147.25 323.96,146.67 327.42,146.07 330.88,145.46 334.34,144.83 337.8,144.15 341.26,143.12 344.72,142.08 348.18,141.02 351.64,139.94 355.1,138.85 358.56,137.36 362.02,135.84 365.48,134.05 368.94,132.19 372.4,130.29 375.86,127.95 379.32,125.56 382.78,123.12 386.24,120.15 389.7,117.11 393.16,113.99 396.62,110.6 400.08,107.11 403.54,103.53 407,99.5 410.46,95.9 413.92,92.25 417.38,88.54 420.84,84.8 424.3,80.66 427.76,76.42 431.22,72.15 434.68,67.92 438.14,63.66 441.6,59.38 441.6,61.23 438.14,65.45 434.68,69.64 431.22,73.81 427.76,78.01 424.3,82.18 420.84,86.25 417.38,89.92 413.92,93.56 410.46,97.14 407,100.67 403.54,104.65 400.08,108.17 396.62,111.6 393.16,114.93 389.7,117.99 386.24,120.97 382.78,123.87 379.32,126.27 375.86,128.61 372.4,130.89 368.94,132.76 365.48,134.59 362.02,136.33 358.56,137.82 355.1,139.26 351.64,140.33 348.18,141.38 344.72,142.42 341.26,143.44 337.8,144.44 334.34,145.1 330.88,145.7 327.42,146.29 323.96,146.86 320.5,147.43 317.04,147.87 313.58,148.3 310.12,148.74 306.66,149.17 303.2,149.57 299.74,149.75 296.28,149.93 292.82,150.11 289.36,150.29 285.9,150.47 282.44,150.57 278.98,150.68 275.52,150.78 272.06,150.88 268.6,150.98" fill="#4dc5a2" stroke="#4dc5a2" stroke-width="0.35" />
<polygon points="268.6,150.95 272.06,150.84 275.52,150.73 278.98,150.61 282.44,150.5 285.9,150.39 289.36,150.19 292.82,149.99 296.28,149.79 299.74,149.59 303.2,149.39 306.66,148.95 310.12,148.49 313.58,148.02 317.04,147.55 320.5,147.07 323.96,146.46 327.42,145.84 330.88,145.21 334.34,144.56 337.8,143.86 341.26,142.8 344.72,141.73 348.18,140.65 351.64,139.55 355.1,138.42 358.56,136.9 362.02,135.34 365.48,133.51 368.94,131.61 372.4,129.68 375.86,127.29 379.32,124.85 382.78,122.36 386.24,119.33 389.7,116.23 393.16,113.05 396.62,109.59 400.08,106.05 403.54,102.42 407,98.33 410.46,94.66 413.92,90.94 417.38,87.16 420.84,83.36 424.3,79.14 427.76,74.83 431.22,70.5 434.68,66.2 438.14,61.88 441.6,57.54 441.6,59.38 438.14,63.66 434.68,67.92 431.22,72.15 427.76,76.42 424.3,80.66 420.84,84.8 417.38,88.54 413.92,92.25 410.46,95.9 407,99.5 403.54,103.53 400.08,107.11 396.62,110.6 393.16,113.99 389.7,117.11 386.24,120.15 382.78,123.12 379.32,125.56 375.86,127.95 372.4,130.29 368.94,132.19 365.48,134.05 362.02,135.84 358.56,137.36 355.1,138.85 351.64,139.94 348.18,141.02 344.72,142.08 341.26,143.12 337.8,144.15 334.34,144.83 330.88,145.46 327.42,146.07 323.96,146.67 320.5,147.25 317.04,147.71 313.58,148.16 310.12,148.61 306.66,149.06 303.2,149.48 299.74,149.67 296.28,149.86 292.82,150.05 289.36,150.24 285.9,150.43 282.44,150.54 278.98,150.65 275.52,150.75 272.06,150.86 268.6,150.97" fill="#42c29f" stroke="#42c29f" stroke-width="0.35" />
<polygon points="268.6,150.93 272.06,150.82 275.52,150.7 278.98,150.58 282.44,150.46 285.9,150.34 289.36,150.14 292.82,149.93 296.28,149.72 299.74,149.51 303.2,149.3 306.66,148.84 310.12,148.36 313.58,147.87 317.04,147.38 320.5,146.88 323.96,146.25 327.42,145.61 330.88,144.95 334.34,144.28 337.8,143.56 341.26,142.48 344.72,141.38 348.18,140.27 351.64,139.14 355.1,138 358.56,136.43 362.02,134.83 365.48,132.97 368.94,131.03 372.4,129.06 375.86,126.62 379.32,124.13 382.78,121.59 386.24,118.5 389.7,115.34 393.16,112.1 396.62,108.59 400.08,104.99 403.54,101.3 407,97.16 410.46,93.42 413.92,89.63 417.38,85.79 420.84,81.92 424.3,77.64 427.76,73.26 431.22,68.85 434.68,64.49 438.14,60.11 441.6,55.7 441.6,57.54 438.14,61.88 434.68,66.2 431.22,70.5 427.76,74.83 424.3,79.14 420.84,83.36 417.38,87.16 413.92,90.94 410.46,94.66 407,98.33 403.54,102.42 400.08,106.05 396.62,109.59 393.16,113.05 389.7,116.23 386.24,119.33 382.78,122.36 379.32,124.85 375.86,127.29 372.4,129.68 368.94,131.61 365.48,133.51 362.02,135.34 358.56,136.9 355.1,138.42 351.64,139.55 348.18,140.65 344.72,141.73 341.26,142.8 337.8,143.86 334.34,144.56 330.88,145.21 327.42,145.84 323.96,146.46 320.5,147.07 317.04,147.55 313.58,148.02 310.12,148.49 306.66,148.95 303.2,149.39 299.74,149.59 296.28,149.79 292.82,149.99 289.36,150.19 285.9,150.39 282.44,150.5 278.98,150.61 275.52,150.73 272.06,150.84 268.6,150.95" fill="#39bf9d" stroke="#39bf9d" stroke-width="0.35" />
<polygon points="268.6,150.92 272.06,150.8 275.52,150.67 278.98,150.55 282.44,150.43 285.9,150.3 289.36,150.09 292.82,149.87 296.28,149.65 299.74,149.43 303.2,149.21 306.66,148.73 310.12,148.23 313.58,147.72 317.04,147.21 320.5,146.7 323.96,146.04 327.42,145.37 330.88,144.69 334.34,144 337.8,143.25 341.26,142.14 344.72,141.02 348.18,139.89 351.64,138.73 355.1,137.56 358.56,135.95 362.02,134.31 365.48,132.41 368.94,130.44 372.4,128.43 375.86,125.95 379.32,123.41 382.78,120.82 386.24,117.67 389.7,114.45 393.16,111.16 396.62,107.58 400.08,103.92 403.54,100.18 407,95.99 410.46,92.19 413.92,88.33 417.38,84.42 420.84,80.48 424.3,76.13 427.76,71.68 431.22,67.21 434.68,62.79 438.14,58.35 441.6,53.88 441.6,55.7 438.14,60.11 434.68,64.49 431.22,68.85 427.76,73.26 424.3,77.64 420.84,81.92 417.38,85.79 413.92,89.63 410.46,93.42 407,97.16 403.54,101.3 400.08,104.99 396.62,108.59 393.16,112.1 389.7,115.34 386.24,118.5 382.78,121.59 379.32,124.13 375.86,126.62 372.4,129.06 368.94,131.03 365.48,132.97 362.02,134.83 358.56,136.43 355.1,138 351.64,139.14 348.18,140.27 344.72,141.38 341.26,142.48 337.8,143.56 334.34,144.28 330.88,144.95 327.42,145.61 323.96,146.25 320.5,146.88 317.04,147.38 313.58,147.87 310.12,148.36 306.66,148.84 303.2,149.3 299.74,149.51 296.28,149.72 292.82,149.93 289.36,150.14 285.9,150.34 282.44,150.46 278.98,150.58 275.52,150.7 272.06,150.82 268.6,150.93" fill="#34be9c" stroke="#34be9c" stroke-width="0.35" />
<polygon points="268.6,150.9 272.06,150.77 275.52,150.64 278.98,150.52 282.44,150.39 285.9,150.26 289.36,150.03 292.82,149.8 296.28,149.57 299.74,149.34 303.2,149.11 306.66,148.61 310.12,148.09 313.58,147.56 317.04,147.03 320.5,146.5 323.96,145.82 327.42,145.13 330.88,144.42 334.34,143.7 337.8,142.94 341.26,141.8 344.72,140.66 348.18,139.49 351.64,138.31 355.1,137.12 358.56,135.47 362.02,133.79 365.48,131.85 368.94,129.85 372.4,127.8 375.86,125.27 379.32,122.68 382.78,120.05 386.24,116.83 389.7,113.55 393.16,110.21 396.62,106.57 400.08,102.86 403.54,99.07 407,94.83 410.46,90.96 413.92,87.03 417.38,83.05 420.84,79.05 424.3,74.63 427.76,70.12 431.22,65.58 434.68,61.1 438.14,56.59 441.6,52.06 441.6,53.88 438.14,58.35 434.68,62.79 431.22,67.21 427.76,71.68 424.3,76.13 420.84,80.48 417.38,84.42 413.92,88.33 410.46,92.19 407,95.99 403.54,100.18 400.08,103.92 396.62,107.58 393.16,111.16 389.7,114.45 386.24,117.67 382.78,120.82 379.32,123.41 375.86,125.95 372.4,128.43 368.94,130.44 365.48,132.41 362.02,134.31 358.56,135.95 355.1,137.56 351.64,138.73 348.18,139.89 344.72,141.02 341.26,142.14 337.8,143.25 334.34,144 330.88,144.69 327.42,145.37 323.96,146.04 320.5,146.7 317.04,147.21 313.58,147.72 310.12,148.23 306.66,148.73 303.2,149.21 299.74,149.43 296.28,149.65 292.82,149.87 289.36,150.09 285.9,150.3 282.44,150.43 278.98,150.55 275.52,150.67 272.06,150.8 268.6,150.92" fill="#2fbc9b" stroke="#2fbc9b" stroke-width="0.35" />
<polygon points="268.6,150.88 272.06,150.75 275.52,150.62 278.98,150.48 282.44,150.35 285.9,150.21 289.36,149.98 292.82,149.74 296.28,149.5 299.74,149.25 303.2,149.01 306.66,148.49 310.12,147.95 313.58,147.4 317.04,146.85 320.5,146.3 323.96,145.6 327.42,144.88 330.88,144.15 334.34,143.41 337.8,142.62 341.26,141.46 344.72,140.28 348.18,139.1 351.64,137.89 355.1,136.67 358.56,134.98 362.02,133.26 365.48,131.29 368.94,129.24 372.4,127.17 375.86,124.58 379.32,121.95 382.78,119.27 386.24,115.99 389.7,112.65 393.16,109.25 396.62,105.56 400.08,101.79 403.54,97.96 407,93.66 410.46,89.73 413.92,85.74 417.38,81.69 420.84,77.62 424.3,73.13 427.76,68.55 431.22,63.95 434.68,59.41 438.14,54.84 441.6,50.25 441.6,52.06 438.14,56.59 434.68,61.1 431.22,65.58 427.76,70.12 424.3,74.63 420.84,79.05 417.38,83.05 413.92,87.03 410.46,90.96 407,94.83 403.54,99.07 400.08,102.86 396.62,106.57 393.16,110.21 389.7,113.55 386.24,116.83 382.78,120.05 379.32,122.68 375.86,125.27 372.4,127.8 368.94,129.85 365.48,131.85 362.02,133.79 358.56,135.47 355.1,137.12 351.64,138.31 348.18,139.49 344.72,140.66 341.26,141.8 337.8,142.94 334.34,143.7 330.88,144.42 327.42,145.13 323.96,145.82 320.5,146.5 317.04,147.03 313.58,147.56 310.12,148.09 306.66,148.61 303.2,149.11 299.74,149.34 296.28,149.57 292.82,149.8 289.36,150.03 285.9,150.26 282.44,150.39 278.98,150.52 275.52,150.64 272.06,150.77 268.6,150.9" fill="#2abb9a" stroke="#2abb9a" stroke-width="0.35" />
<polygon points="268.6,150.86 272.06,150.72 275.52,150.59 278.98,150.45 282.44,150.31 285.9,150.17 289.36,149.92 292.82,149.67 296.28,149.42 299.74,149.16 303.2,148.91 306.66,148.37 310.12,147.81 313.58,147.24 317.04,146.67 320.5,146.1 323.96,145.37 327.42,144.62 330.88,143.87 334.34,143.1 337.8,142.29 341.26,141.11 344.72,139.91 348.18,138.69 351.64,137.46 355.1,136.22 358.56,134.49 362.02,132.73 365.48,130.72 368.94,128.64 372.4,126.53 375.86,123.89 379.32,121.21 382.78,118.48 386.24,115.15 389.7,111.75 393.16,108.3 396.62,104.55 400.08,100.73 403.54,96.84 407,92.5 410.46,88.5 413.92,84.44 417.38,80.33 420.84,76.2 424.3,71.64 427.76,67 431.22,62.33 434.68,57.72 438.14,53.1 441.6,48.45 441.6,50.25 438.14,54.84 434.68,59.41 431.22,63.95 427.76,68.55 424.3,73.13 420.84,77.62 417.38,81.69 413.92,85.74 410.46,89.73 407,93.66 403.54,97.96 400.08,101.79 396.62,105.56 393.16,109.25 389.7,112.65 386.24,115.99 382.78,119.27 379.32,121.95 375.86,124.58 372.4,127.17 368.94,129.24 365.48,131.29 362.02,133.26 358.56,134.98 355.1,136.67 351.64,137.89 348.18,139.1 344.72,140.28 341.26,141.46 337.8,142.62 334.34,143.41 330.88,144.15 327.42,144.88 323.96,145.6 320.5,146.3 317.04,146.85 313.58,147.4 310.12,147.95 306.66,148.49 303.2,149.01 299.74,149.25 296.28,149.5 292.82,149.74 289.36,149.98 285.9,150.21 282.44,150.35 278.98,150.48 275.52,150.62 272.06,150.75 268.6,150.88" fill="#25b999" stroke="#25b999" stroke-width="0.35" />
<polygon points="268.6,150.84 272.06,150.7 275.52,150.55 278.98,150.41 282.44,150.26 285.9,150.12 289.36,149.86 292.82,149.6 296.28,149.34 299.74,149.07 303.2,148.81 306.66,148.24 310.12,147.66 313.58,147.07 317.04,146.48 320.5,145.89 323.96,145.13 327.42,144.36 330.88,143.59 334.34,142.8 337.8,141.96 341.26,140.75 344.72,139.52 348.18,138.28 351.64,137.02 355.1,135.76 358.56,133.99 362.02,132.19 365.48,130.14 368.94,128.02 372.4,125.88 375.86,123.19 379.32,120.46 382.78,117.69 386.24,114.3 389.7,110.85 393.16,107.34 396.62,103.53 400.08,99.66 403.54,95.73 407,91.34 410.46,87.27 413.92,83.15 417.38,78.97 420.84,74.77 424.3,70.15 427.76,65.44 431.22,60.71 434.68,56.05 438.14,51.36 441.6,46.65 441.6,48.45 438.14,53.1 434.68,57.72 431.22,62.33 427.76,67 424.3,71.64 420.84,76.2 417.38,80.33 413.92,84.44 410.46,88.5 407,92.5 403.54,96.84 400.08,100.73 396.62,104.55 393.16,108.3 389.7,111.75 386.24,115.15 382.78,118.48 379.32,121.21 375.86,123.89 372.4,126.53 368.94,128.64 365.48,130.72 362.02,132.73 358.56,134.49 355.1,136.22 351.64,137.46 348.18,138.69 344.72,139.91 341.26,141.11 337.8,142.29 334.34,143.1 330.88,143.87 327.42,144.62 323.96,145.37 320.5,146.1 317.04,146.67 313.58,147.24 310.12,147.81 306.66,148.37 303.2,148.91 299.74,149.16 296.28,149.42 292.82,149.67 289.36,149.92 285.9,150.17 282.44,150.31 278.98,150.45 275.52,150.59 272.06,150.72 268.6,150.86" fill="#20b898" stroke="#20b898" stroke-width="0.35" />
<polygon points="268.6,150.82 272.06,150.67 275.52,150.52 278.98,150.37 282.44,150.22 285.9,150.07 289.36,149.8 292.82,149.53 296.28,149.25 299.74,148.98 303.2,148.7 306.66,148.11 310.12,147.51 313.58,146.9 317.04,146.29 320.5,145.68 323.96,144.89 327.42,144.1 330.88,143.3 334.34,142.48 337.8,141.63 341.26,140.39 344.72,139.13 348.18,137.86 351.64,136.58 355.1,135.29 358.56,133.48 362.02,131.64 365.48,129.55 368.94,127.4 372.4,125.22 375.86,122.49 379.32,119.71 382.78,116.9 386.24,113.45 389.7,109.94 393.16,106.38 396.62,102.52 400.08,98.6 403.54,94.61 407,90.18 410.46,86.05 413.92,81.86 417.38,77.62 420.84,73.36 424.3,68.67 427.76,63.89 431.22,59.1 434.68,54.37 438.14,49.63 441.6,44.87 441.6,46.65 438.14,51.36 434.68,56.05 431.22,60.71 427.76,65.44 424.3,70.15 420.84,74.77 417.38,78.97 413.92,83.15 410.46,87.27 407,91.34 403.54,95.73 400.08,99.66 396.62,103.53 393.16,107.34 389.7,110.85 386.24,114.3 382.78,117.69 379.32,120.46 375.86,123.19 372.4,125.88 368.94,128.02 365.48,130.14 362.02,132.19 358.56,133.99 355.1,135.76 351.64,137.02 348.18,138.28 344.72,139.52 341.26,140.75 337.8,141.96 334.34,142.8 330.88,143.59 327.42,144.36 323.96,145.13 320.5,145.89 317.04,146.48 313.58,147.07 310.12,147.66 306.66,148.24 303.2,148.81 299.74,149.07 296.28,149.34 292.82,149.6 289.36,149.86 285.9,150.12 282.44,150.26 278.98,150.41 275.52,150.55 272.06,150.7 268.6,150.84" fill="#1bb697" stroke="#1bb697" stroke-width="0.35" />
<polygon points="268.6,150.8 272.06,150.65 275.52,150.49 278.98,150.33 282.44,150.18 285.9,150.02 289.36,149.74 292.82,149.45 296.28,149.17 299.74,148.88 303.2,148.59 306.66,147.98 310.12,147.36 313.58,146.73 317.04,146.09 320.5,145.46 323.96,144.65 327.42,143.83 330.88,143 334.34,142.16 337.8,141.29 341.26,140.02 344.72,138.73 348.18,137.44 351.64,136.13 355.1,134.82 358.56,132.96 362.02,131.08 365.48,128.96 368.94,126.78 372.4,124.57 375.86,121.78 379.32,118.96 382.78,116.1 386.24,112.59 389.7,109.03 393.16,105.42 396.62,101.5 400.08,97.53 403.54,93.5 407,89.03 410.46,84.83 413.92,80.57 417.38,76.26 420.84,71.94 424.3,67.19 427.76,62.35 431.22,57.49 434.68,52.71 438.14,47.91 441.6,43.09 441.6,44.87 438.14,49.63 434.68,54.37 431.22,59.1 427.76,63.89 424.3,68.67 420.84,73.36 417.38,77.62 413.92,81.86 410.46,86.05 407,90.18 403.54,94.61 400.08,98.6 396.62,102.52 393.16,106.38 389.7,109.94 386.24,113.45 382.78,116.9 379.32,119.71 375.86,122.49 372.4,125.22 368.94,127.4 365.48,129.55 362.02,131.64 358.56,133.48 355.1,135.29 351.64,136.58 348.18,137.86 344.72,139.13 341.26,140.39 337.8,141.63 334.34,142.48 330.88,143.3 327.42,144.1 323.96,144.89 320.5,145.68 317.04,146.29 313.58,146.9 310.12,147.51 306.66,148.11 303.2,148.7 299.74,148.98 296.28,149.25 292.82,149.53 289.36,149.8 285.9,150.07 282.44,150.22 278.98,150.37 275.52,150.52 272.06,150.67 268.6,150.82" fill="#1bb697" stroke="#1bb697" stroke-width="0.35" />
<polygon points="268.6,150.78 272.06,150.62 275.52,150.46 278.98,150.29 282.44,150.13 285.9,149.97 289.36,149.67 292.82,149.38 296.28,149.08 299.74,148.78 303.2,148.48 306.66,147.85 310.12,147.2 313.58,146.55 317.04,145.89 320.5,145.24 323.96,144.4 327.42,143.55 330.88,142.7 334.34,141.84 337.8,140.94 341.26,139.64 344.72,138.33 348.18,137.01 351.64,135.68 355.1,134.34 358.56,132.44 362.02,130.52 365.48,128.37 368.94,126.15 372.4,123.9 375.86,121.07 379.32,118.2 382.78,115.3 386.24,111.73 389.7,108.11 393.16,104.45 396.62,100.48 400.08,96.46 403.54,92.39 407,87.87 410.46,83.61 413.92,79.29 417.38,74.92 420.84,70.53 424.3,65.71 427.76,60.81 431.22,55.89 434.68,51.05 438.14,46.19 441.6,41.32 441.6,43.09 438.14,47.91 434.68,52.71 431.22,57.49 427.76,62.35 424.3,67.19 420.84,71.94 417.38,76.26 413.92,80.57 410.46,84.83 407,89.03 403.54,93.5 400.08,97.53 396.62,101.5 393.16,105.42 389.7,109.03 386.24,112.59 382.78,116.1 379.32,118.96 375.86,121.78 372.4,124.57 368.94,126.78 365.48,128.96 362.02,131.08 358.56,132.96 355.1,134.82 351.64,136.13 348.18,137.44 344.72,138.73 341.26,140.02 337.8,141.29 334.34,142.16 330.88,143 327.42,143.83 323.96,144.65 320.5,145.46 317.04,146.09 313.58,146.73 310.12,147.36 306.66,147.98 303.2,148.59 299.74,148.88 296.28,149.17 292.82,149.45 289.36,149.74 285.9,150.02 282.44,150.18 278.98,150.33 275.52,150.49 272.06,150.65 268.6,150.8" fill="#1ab697" stroke="#1ab697" stroke-width="0.35" />
<polygon points="268.6,150.76 272.06,150.59 275.52,150.42 278.98,150.25 282.44,150.08 285.9,149.91 289.36,149.61 292.82,149.3 296.28,148.99 299.74,148.68 303.2,148.37 306.66,147.71 310.12,147.04 313.58,146.37 317.04,145.69 320.5,145.01 323.96,144.15 327.42,143.27 330.88,142.39 334.34,141.5 337.8,140.58 341.26,139.26 344.72,137.92 348.18,136.57 351.64,135.22 355.1,133.85 358.56,131.91 362.02,129.96 365.48,127.76 368.94,125.51 372.4,123.23 375.86,120.35 379.32,117.44 382.78,114.5 386.24,110.87 389.7,107.19 393.16,103.48 396.62,99.46 400.08,95.39 403.54,91.28 407,86.72 410.46,82.39 413.92,78.01 417.38,73.57 420.84,69.12 424.3,64.24 427.76,59.28 431.22,54.3 434.68,49.39 438.14,44.48 441.6,39.55 441.6,41.32 438.14,46.19 434.68,51.05 431.22,55.89 427.76,60.81 424.3,65.71 420.84,70.53 417.38,74.92 413.92,79.29 410.46,83.61 407,87.87 403.54,92.39 400.08,96.46 396.62,100.48 393.16,104.45 389.7,108.11 386.24,111.73 382.78,115.3 379.32,118.2 375.86,121.07 372.4,123.9 368.94,126.15 365.48,128.37 362.02,130.52 358.56,132.44 355.1,134.34 351.64,135.68 348.18,137.01 344.72,138.33 341.26,139.64 337.8,140.94 334.34,141.84 330.88,142.7 327.42,143.55 323.96,144.4 320.5,145.24 317.04,145.89 313.58,146.55 310.12,147.2 306.66,147.85 303.2,148.48 299.74,148.78 296.28,149.08 292.82,149.38 289.36,149.67 285.9,149.97 282.44,150.13 278.98,150.29 275.52,150.46 272.06,150.62 268.6,150.78" fill="#1ab597" stroke="#1ab597" stroke-width="0.35" />
<polygon points="268.6,150.74 272.06,150.56 275.52,150.39 278.98,150.21 282.44,150.04 285.9,149.86 289.36,149.54 292.82,149.22 296.28,148.9 299.74,148.57 303.2,148.25 306.66,147.57 310.12,146.88 313.58,146.18 317.04,145.48 320.5,144.78 323.96,143.89 327.42,142.99 330.88,142.08 334.34,141.17 337.8,140.23 341.26,138.87 344.72,137.51 348.18,136.13 351.64,134.75 355.1,133.36 358.56,131.38 362.02,129.39 365.48,127.16 368.94,124.87 372.4,122.56 375.86,119.63 379.32,116.67 382.78,113.69 386.24,110 389.7,106.27 393.16,102.51 396.62,98.44 400.08,94.32 403.54,90.16 407,85.56 410.46,81.17 413.92,76.73 417.38,72.23 420.84,67.72 424.3,62.77 427.76,57.75 431.22,52.7 434.68,47.74 438.14,42.77 441.6,37.79 441.6,39.55 438.14,44.48 434.68,49.39 431.22,54.3 427.76,59.28 424.3,64.24 420.84,69.12 417.38,73.57 413.92,78.01 410.46,82.39 407,86.72 403.54,91.28 400.08,95.39 396.62,99.46 393.16,103.48 389.7,107.19 386.24,110.87 382.78,114.5 379.32,117.44 375.86,120.35 372.4,123.23 368.94,125.51 365.48,127.76 362.02,129.96 358.56,131.91 355.1,133.85 351.64,135.22 348.18,136.57 344.72,137.92 341.26,139.26 337.8,140.58 334.34,141.5 330.88,142.39 327.42,143.27 323.96,144.15 320.5,145.01 317.04,145.69 313.58,146.37 310.12,147.04 306.66,147.71 303.2,148.37 299.74,148.68 296.28,148.99 292.82,149.3 289.36,149.61 285.9,149.91 282.44,150.08 278.98,150.25 275.52,150.42 272.06,150.59 268.6,150.76" fill="#19b596" stroke="#19b596" stroke-width="0.35" />
<polygon points="268.6,150.72 272.06,150.53 275.52,150.35 278.98,150.17 282.44,149.99 285.9,149.81 289.36,149.47 292.82,149.14 296.28,148.8 299.74,148.47 303.2,148.13 306.66,147.43 310.12,146.71 313.58,145.99 317.04,145.27 320.5,144.54 323.96,143.62 327.42,142.7 330.88,141.76 334.34,140.82 337.8,139.86 341.26,138.48 344.72,137.09 348.18,135.69 351.64,134.28 355.1,132.86 358.56,130.84 362.02,128.81 365.48,126.54 368.94,124.22 372.4,121.88 375.86,118.9 379.32,115.9 382.78,112.87 386.24,109.13 389.7,105.35 393.16,101.54 396.62,97.41 400.08,93.25 403.54,89.05 407,84.41 410.46,79.96 413.92,75.45 417.38,70.89 420.84,66.31 424.3,61.31 427.76,56.22 431.22,51.12 434.68,46.1 438.14,41.07 441.6,36.04 441.6,37.79 438.14,42.77 434.68,47.74 431.22,52.7 427.76,57.75 424.3,62.77 420.84,67.72 417.38,72.23 413.92,76.73 410.46,81.17 407,85.56 403.54,90.16 400.08,94.32 396.62,98.44 393.16,102.51 389.7,106.27 386.24,110 382.78,113.69 379.32,116.67 375.86,119.63 372.4,122.56 368.94,124.87 365.48,127.16 362.02,129.39 358.56,131.38 355.1,133.36 351.64,134.75 348.18,136.13 344.72,137.51 341.26,138.87 337.8,140.23 334.34,141.17 330.88,142.08 327.42,142.99 323.96,143.89 320.5,144.78 317.04,145.48 313.58,146.18 310.12,146.88 306.66,147.57 303.2,148.25 299.74,148.57 296.28,148.9 292.82,149.22 289.36,149.54 285.9,149.86 282.44,150.04 278.98,150.21 275.52,150.39 272.06,150.56 268.6,150.74" fill="#19b596" stroke="#19b596" stroke-width="0.35" />
<polygon points="268.6,150.69 272.06,150.5 275.52,150.32 278.98,150.13 282.44,149.94 285.9,149.75 289.36,149.4 292.82,149.06 296.28,148.71 299.74,148.36 303.2,148.01 306.66,147.28 310.12,146.54 313.58,145.8 317.04,145.05 320.5,144.3 323.96,143.36 327.42,142.4 330.88,141.44 334.34,140.48 337.8,139.49 341.26,138.08 344.72,136.66 348.18,135.23 351.64,133.8 355.1,132.36 358.56,130.3 362.02,128.22 365.48,125.92 368.94,123.57 372.4,121.2 375.86,118.17 379.32,115.12 382.78,112.05 386.24,108.25 389.7,104.42 393.16,100.56 396.62,96.39 400.08,92.18 403.54,87.94 407,83.26 410.46,78.74 413.92,74.17 417.38,69.55 420.84,64.91 424.3,59.85 427.76,54.69 431.22,49.53 434.68,44.46 438.14,39.38 441.6,34.29 441.6,36.04 438.14,41.07 434.68,46.1 431.22,51.12 427.76,56.22 424.3,61.31 420.84,66.31 417.38,70.89 413.92,75.45 410.46,79.96 407,84.41 403.54,89.05 400.08,93.25 396.62,97.41 393.16,101.54 389.7,105.35 386.24,109.13 382.78,112.87 379.32,115.9 375.86,118.9 372.4,121.88 368.94,124.22 365.48,126.54 362.02,128.81 358.56,130.84 355.1,132.86 351.64,134.28 348.18,135.69 344.72,137.09 341.26,138.48 337.8,139.86 334.34,140.82 330.88,141.76 327.42,142.7 323.96,143.62 320.5,144.54 317.04,145.27 313.58,145.99 310.12,146.71 306.66,147.43 303.2,148.13 299.74,148.47 296.28,148.8 292.82,149.14 289.36,149.47 285.9,149.81 282.44,149.99 278.98,150.17 275.52,150.35 272.06,150.53 268.6,150.72" fill="#19b596" stroke="#19b596" stroke-width="0.35" />
<polygon points="268.6,150.67 272.06,150.47 275.52,150.28 278.98,150.08 282.44,149.89 285.9,149.69 289.36,149.33 292.82,148.97 296.28,148.61 299.74,148.25 303.2,147.89 306.66,147.13 310.12,146.37 313.58,145.6 317.04,144.83 320.5,144.06 323.96,143.08 327.42,142.1 330.88,141.12 334.34,140.12 337.8,139.11 341.26,137.67 344.72,136.23 348.18,134.77 351.64,133.31 355.1,131.85 358.56,129.75 362.02,127.64 365.48,125.3 368.94,122.91 372.4,120.51 375.86,117.43 379.32,114.34 382.78,111.23 386.24,107.37 389.7,103.49 393.16,99.59 396.62,95.36 400.08,91.11 403.54,86.83 407,82.11 410.46,77.53 413.92,72.9 417.38,68.21 420.84,63.52 424.3,58.39 427.76,53.18 431.22,47.95 434.68,42.83 438.14,37.69 441.6,32.55 441.6,34.29 438.14,39.38 434.68,44.46 431.22,49.53 427.76,54.69 424.3,59.85 420.84,64.91 417.38,69.55 413.92,74.17 410.46,78.74 407,83.26 403.54,87.94 400.08,92.18 396.62,96.39 393.16,100.56 389.7,104.42 386.24,108.25 382.78,112.05 379.32,115.12 375.86,118.17 372.4,121.2 368.94,123.57 365.48,125.92 362.02,128.22 358.56,130.3 355.1,132.36 351.64,133.8 348.18,135.23 344.72,136.66 341.26,138.08 337.8,139.49 334.34,140.48 330.88,141.44 327.42,142.4 323.96,143.36 320.5,144.3 317.04,145.05 313.58,145.8 310.12,146.54 306.66,147.28 303.2,148.01 299.74,148.36 296.28,148.71 292.82,149.06 289.36,149.4 285.9,149.75 282.44,149.94 278.98,150.13 275.52,150.32 272.06,150.5 268.6,150.69" fill="#18b496" stroke="#18b496" stroke-width="0.35" />
<polygon points="268.6,150.64 272.06,150.44 275.52,150.24 278.98,150.04 282.44,149.84 285.9,149.63 289.36,149.26 292.82,148.89 296.28,148.51 299.74,148.14 303.2,147.76 306.66,146.98 310.12,146.19 313.58,145.4 317.04,144.61 320.5,143.81 323.96,142.81 327.42,141.8 330.88,140.78 334.34,139.77 337.8,138.73 341.26,137.26 344.72,135.79 348.18,134.31 351.64,132.82 355.1,131.33 358.56,129.19 362.02,127.04 365.48,124.67 368.94,122.24 372.4,119.81 375.86,116.69 379.32,113.56 382.78,110.41 386.24,106.49 389.7,102.56 393.16,98.61 396.62,94.33 400.08,90.04 403.54,85.72 407,80.97 410.46,76.32 413.92,71.62 417.38,66.88 420.84,62.12 424.3,56.93 427.76,51.66 431.22,46.38 434.68,41.2 438.14,36.01 441.6,30.81 441.6,32.55 438.14,37.69 434.68,42.83 431.22,47.95 427.76,53.18 424.3,58.39 420.84,63.52 417.38,68.21 413.92,72.9 410.46,77.53 407,82.11 403.54,86.83 400.08,91.11 396.62,95.36 393.16,99.59 389.7,103.49 386.24,107.37 382.78,111.23 379.32,114.34 375.86,117.43 372.4,120.51 368.94,122.91 365.48,125.3 362.02,127.64 358.56,129.75 355.1,131.85 351.64,133.31 348.18,134.77 344.72,136.23 341.26,137.67 337.8,139.11 334.34,140.12 330.88,141.12 327.42,142.1 323.96,143.08 320.5,144.06 317.04,144.83 313.58,145.6 310.12,146.37 306.66,147.13 303.2,147.89 299.74,148.25 296.28,148.61 292.82,148.97 289.36,149.33 285.9,149.69 282.44,149.89 278.98,150.08 275.52,150.28 272.06,150.47 268.6,150.67" fill="#18b496" stroke="#18b496" stroke-width="0.35" />
<polygon points="268.6,150.62 272.06,150.41 275.52,150.2 278.98,149.99 282.44,149.78 285.9,149.57 289.36,149.19 292.82,148.8 296.28,148.41 299.74,148.02 303.2,147.63 306.66,146.83 310.12,146.01 313.58,145.19 317.04,144.38 320.5,143.56 323.96,142.52 327.42,141.49 330.88,140.45 334.34,139.4 337.8,138.35 341.26,136.85 344.72,135.34 348.18,133.84 351.64,132.33 355.1,130.81 358.56,128.63 362.02,126.44 365.48,124.03 368.94,121.58 372.4,119.11 375.86,115.95 379.32,112.77 382.78,109.58 386.24,105.61 389.7,101.63 393.16,97.63 396.62,93.3 400.08,88.97 403.54,84.61 407,79.82 410.46,75.11 413.92,70.35 417.38,65.55 420.84,60.73 424.3,55.48 427.76,50.15 431.22,44.81 434.68,39.57 438.14,34.33 441.6,29.08 441.6,30.81 438.14,36.01 434.68,41.2 431.22,46.38 427.76,51.66 424.3,56.93 420.84,62.12 417.38,66.88 413.92,71.62 410.46,76.32 407,80.97 403.54,85.72 400.08,90.04 396.62,94.33 393.16,98.61 389.7,102.56 386.24,106.49 382.78,110.41 379.32,113.56 375.86,116.69 372.4,119.81 368.94,122.24 365.48,124.67 362.02,127.04 358.56,129.19 355.1,131.33 351.64,132.82 348.18,134.31 344.72,135.79 341.26,137.26 337.8,138.73 334.34,139.77 330.88,140.78 327.42,141.8 323.96,142.81 320.5,143.81 317.04,144.61 313.58,145.4 310.12,146.19 306.66,146.98 303.2,147.76 299.74,148.14 296.28,148.51 292.82,148.89 289.36,149.26 285.9,149.63 282.44,149.84 278.98,150.04 275.52,150.24 272.06,150.44 268.6,150.64" fill="#17b496" stroke="#17b496" stroke-width="0.35" />
<polygon points="268.6,150.59 272.06,150.38 275.52,150.16 278.98,149.95 282.44,149.73 285.9,149.51 289.36,149.11 292.82,148.71 296.28,148.31 299.74,147.91 303.2,147.5 306.66,146.67 310.12,145.83 313.58,144.99 317.04,144.14 320.5,143.3 323.96,142.24 327.42,141.17 330.88,140.1 334.34,139.03 337.8,137.95 341.26,136.43 344.72,134.9 348.18,133.36 351.64,131.83 355.1,130.29 358.56,128.06 362.02,125.83 365.48,123.39 368.94,120.9 372.4,118.41 375.86,115.19 379.32,111.97 382.78,108.75 386.24,104.72 389.7,100.69 393.16,96.64 396.62,92.27 400.08,87.89 403.54,83.5 407,78.68 410.46,73.91 413.92,69.09 417.38,64.22 420.84,59.34 424.3,54.03 427.76,48.64 431.22,43.24 434.68,37.95 438.14,32.66 441.6,27.36 441.6,29.08 438.14,34.33 434.68,39.57 431.22,44.81 427.76,50.15 424.3,55.48 420.84,60.73 417.38,65.55 413.92,70.35 410.46,75.11 407,79.82 403.54,84.61 400.08,88.97 396.62,93.3 393.16,97.63 389.7,101.63 386.24,105.61 382.78,109.58 379.32,112.77 375.86,115.95 372.4,119.11 368.94,121.58 365.48,124.03 362.02,126.44 358.56,128.63 355.1,130.81 351.64,132.33 348.18,133.84 344.72,135.34 341.26,136.85 337.8,138.35 334.34,139.4 330.88,140.45 327.42,141.49 323.96,142.52 320.5,143.56 317.04,144.38 313.58,145.19 310.12,146.01 306.66,146.83 303.2,147.63 299.74,148.02 296.28,148.41 292.82,148.8 289.36,149.19 285.9,149.57 282.44,149.78 278.98,149.99 275.52,150.2 272.06,150.41 268.6,150.62" fill="#17b495" stroke="#17b495" stroke-width="0.35" />
<polygon points="268.6,150.57 272.06,150.35 275.52,150.12 278.98,149.9 282.44,149.67 285.9,149.45 289.36,149.03 292.82,148.62 296.28,148.2 299.74,147.79 303.2,147.37 306.66,146.51 310.12,145.64 313.58,144.77 317.04,143.91 320.5,143.04 323.96,141.95 327.42,140.85 330.88,139.75 334.34,138.66 337.8,137.56 341.26,136 344.72,134.44 348.18,132.88 351.64,131.32 355.1,129.76 358.56,127.49 362.02,125.22 365.48,122.74 368.94,120.22 372.4,117.7 375.86,114.44 379.32,111.18 382.78,107.91 386.24,103.83 389.7,99.75 393.16,95.66 396.62,91.24 400.08,86.82 403.54,82.39 407,77.53 410.46,72.7 413.92,67.82 417.38,62.89 420.84,57.96 424.3,52.59 427.76,47.13 431.22,41.68 434.68,36.33 438.14,30.99 441.6,25.64 441.6,27.36 438.14,32.66 434.68,37.95 431.22,43.24 427.76,48.64 424.3,54.03 420.84,59.34 417.38,64.22 413.92,69.09 410.46,73.91 407,78.68 403.54,83.5 400.08,87.89 396.62,92.27 393.16,96.64 389.7,100.69 386.24,104.72 382.78,108.75 379.32,111.97 375.86,115.19 372.4,118.41 368.94,120.9 365.48,123.39 362.02,125.83 358.56,128.06 355.1,130.29 351.64,131.83 348.18,133.36 344.72,134.9 341.26,136.43 337.8,137.95 334.34,139.03 330.88,140.1 327.42,141.17 323.96,142.24 320.5,143.3 317.04,144.14 313.58,144.99 310.12,145.83 306.66,146.67 303.2,147.5 299.74,147.91 296.28,148.31 292.82,148.71 289.36,149.11 285.9,149.51 282.44,149.73 278.98,149.95 275.52,150.16 272.06,150.38 268.6,150.59" fill="#17b395" stroke="#17b395" stroke-width="0.35" />
<polygon points="268.6,150.54 272.06,150.31 275.52,150.08 278.98,149.85 282.44,149.62 285.9,149.39 289.36,148.96 292.82,148.53 296.28,148.1 299.74,147.67 303.2,147.24 306.66,146.34 310.12,145.45 313.58,144.56 317.04,143.67 320.5,142.77 323.96,141.65 327.42,140.53 330.88,139.4 334.34,138.28 337.8,137.15 341.26,135.57 344.72,133.98 348.18,132.39 351.64,130.81 355.1,129.22 358.56,126.91 362.02,124.61 365.48,122.09 368.94,119.54 372.4,116.99 375.86,113.68 379.32,110.37 382.78,107.07 386.24,102.94 389.7,98.8 393.16,94.67 396.62,90.21 400.08,85.75 403.54,81.28 407,76.39 410.46,71.5 413.92,66.55 417.38,61.56 420.84,56.57 424.3,51.14 427.76,45.63 431.22,40.12 434.68,34.72 438.14,29.32 441.6,23.92 441.6,25.64 438.14,30.99 434.68,36.33 431.22,41.68 427.76,47.13 424.3,52.59 420.84,57.96 417.38,62.89 413.92,67.82 410.46,72.7 407,77.53 403.54,82.39 400.08,86.82 396.62,91.24 393.16,95.66 389.7,99.75 386.24,103.83 382.78,107.91 379.32,111.18 375.86,114.44 372.4,117.7 368.94,120.22 365.48,122.74 362.02,125.22 358.56,127.49 355.1,129.76 351.64,131.32 348.18,132.88 344.72,134.44 341.26,136 337.8,137.56 334.34,138.66 330.88,139.75 327.42,140.85 323.96,141.95 320.5,143.04 317.04,143.91 313.58,144.77 310.12,145.64 306.66,146.51 303.2,147.37 299.74,147.79 296.28,148.2 292.82,148.62 289.36,149.03 285.9,149.45 282.44,149.67 278.98,149.9 275.52,150.12 272.06,150.35 268.6,150.57" fill="#16b395" stroke="#16b395" stroke-width="0.35" />
<path d="M368.94,138.99 L372.4,137.58 L375.86,135.94 L379.32,134.23 L382.78,132.45 L386.24,130.37 L389.7,128.19 L393.16,125.91 L396.62,123.42 L400.08,120.82 L403.54,118.09 L407,114.91 L410.46,112.27 L413.92,109.57 L417.38,106.83 L420.84,104.04 L424.3,100.88 L427.76,97.62 L431.22,94.33 L434.68,91.03 L438.14,87.7 L441.6,84.33" fill="none" stroke="#ffffff" stroke-width="0.45" opacity="0.55"/>
<path d="M362.02,136.76 L365.48,135.04 L368.94,133.25 L372.4,131.41 L375.86,129.17 L379.32,126.88 L382.78,124.52 L386.24,121.68 L389.7,118.75 L393.16,115.74 L396.62,112.47 L400.08,109.09 L403.54,105.62 L407,101.69 L410.46,98.22 L413.92,94.7 L417.38,91.12 L420.84,87.52 L424.3,83.5 L427.76,79.39 L431.22,75.25 L434.68,71.15 L438.14,67.01 L441.6,62.85" fill="none" stroke="#ffffff" stroke-width="0.45" opacity="0.55"/>
<path d="M382.78,127.4 L386.24,124.82 L389.7,122.14 L393.16,119.37 L396.62,116.36 L400.08,113.23 L403.54,110 L407,106.3 L410.46,103.12 L413.92,99.87 L417.38,96.58 L420.84,93.25 L424.3,89.52 L427.76,85.69 L431.22,81.83 L434.68,78 L438.14,74.13 L441.6,70.23" fill="none" stroke="#ffffff" stroke-width="0.45" opacity="0.55"/>
<path d="M393.16,133.7 L396.62,132.01 L400.08,130.21 L403.54,128.3 L407,125.99 L410.46,124.1 L413.92,122.18 L417.38,120.22 L420.84,118.23 L424.3,115.89 L427.76,113.46 L431.22,111 L434.68,108.52 L438.14,106 L441.6,103.45" fill="none" stroke="#ffffff" stroke-width="0.45" opacity="0.55"/>
<path d="M386.24,137.19 L389.7,135.77 L393.16,134.28 L396.62,132.65 L400.08,130.93 L403.54,129.09 L407,126.86 L410.46,125.04 L413.92,123.19 L417.38,121.29 L420.84,119.37 L424.3,117.1 L427.76,114.75 L431.22,112.36 L434.68,109.95 L438.14,107.51 L441.6,105.03" fill="none" stroke="#ffffff" stroke-width="0.45" opacity="0.55"/>
<path d="M362.02,144.62 L365.48,143.66 L368.94,142.63 L372.4,141.57 L375.86,140.4 L379.32,139.18 L382.78,137.91 L386.24,136.47 L389.7,134.96 L393.16,133.37 L396.62,131.63 L400.08,129.8 L403.54,127.84 L407,125.48 L410.46,123.56 L413.92,121.6 L417.38,119.6 L420.84,117.57 L424.3,115.19 L427.76,112.72 L431.22,110.22 L434.68,107.7 L438.14,105.14 L441.6,102.55" fill="none" stroke="#ffffff" stroke-width="0.45" opacity="0.55"/>
<path d="M413.92,104.94 L417.38,101.92 L420.84,98.87 L424.3,95.44 L427.76,91.9 L431.22,88.33 L434.68,84.77 L438.14,81.17 L441.6,77.54" fill="none" stroke="#ffffff" stroke-width="0.45" opacity="0.55"/>
<path d="M372.4,140.8 L375.86,139.53 L379.32,138.2 L382.78,136.82 L386.24,135.24 L389.7,133.58 L393.16,131.83 L396.62,129.92 L400.08,127.9 L403.54,125.76 L407,123.2 L410.46,121.12 L413.92,118.99 L417.38,116.82 L420.84,114.62 L424.3,112.06 L427.76,109.41 L431.22,106.72 L434.68,104.02 L438.14,101.28 L441.6,98.5" fill="none" stroke="#ffffff" stroke-width="0.45" opacity="0.55"/>
<path d="M420.84,88.68 L424.3,84.72 L427.76,80.67 L431.22,76.59 L434.68,72.54 L438.14,68.46 L441.6,64.34" fill="none" stroke="#ffffff" stroke-width="0.45" opacity="0.55"/>
<path d="M382.78,126.38 L386.24,123.7 L389.7,120.93 L393.16,118.08 L396.62,114.97 L400.08,111.75 L403.54,108.43 L407,104.65 L410.46,101.36 L413.92,98.01 L417.38,94.61 L420.84,91.18 L424.3,87.35 L427.76,83.42 L431.22,79.46 L434.68,75.53 L438.14,71.56 L441.6,67.56" fill="none" stroke="#ffffff" stroke-width="0.45" opacity="0.55"/>
<path d="M358.56,132.86 L362.02,130.98 L365.48,128.85 L368.94,126.66 L372.4,124.44 L375.86,121.64 L379.32,118.82 L382.78,115.95 L386.24,112.42 L389.7,108.85 L393.16,105.23 L396.62,101.3 L400.08,97.32 L403.54,93.29 L407,88.8 L410.46,84.59 L413.92,80.33 L417.38,76 L420.84,71.67 L424.3,66.91 L427.76,62.05 L431.22,57.19 L434.68,52.39 L438.14,47.58 L441.6,42.75" fill="none" stroke="#ffffff" stroke-width="0.45" opacity="0.55"/>
<path d="M375.86,124.45 L379.32,121.81 L382.78,119.12 L386.24,115.83 L389.7,112.49 L393.16,109.07 L396.62,105.37 L400.08,101.59 L403.54,97.75 L407,93.44 L410.46,89.5 L413.92,85.49 L417.38,81.43 L420.84,77.35 L424.3,72.85 L427.76,68.26 L431.22,63.65 L434.68,59.09 L438.14,54.51 L441.6,49.91" fill="none" stroke="#ffffff" stroke-width="0.45" opacity="0.55"/>
<path d="M365.48,142.79 L368.94,141.66 L372.4,140.49 L375.86,139.18 L379.32,137.82 L382.78,136.39 L386.24,134.76 L389.7,133.04 L393.16,131.24 L396.62,129.27 L400.08,127.18 L403.54,124.98 L407,122.34 L410.46,120.2 L413.92,118.01 L417.38,115.78 L420.84,113.52 L424.3,110.89 L427.76,108.17 L431.22,105.42 L434.68,102.65 L438.14,99.85 L441.6,97" fill="none" stroke="#ffffff" stroke-width="0.45" opacity="0.55"/>
<path d="M413.92,110.28 L417.38,107.58 L420.84,104.84 L424.3,101.72 L427.76,98.51 L431.22,95.25 L434.68,92 L438.14,88.71 L441.6,85.38" fill="none" stroke="#ffffff" stroke-width="0.45" opacity="0.55"/>
<path d="M396.62,128.09 L400.08,125.89 L403.54,123.57 L407,120.82 L410.46,118.57 L413.92,116.28 L417.38,113.94 L420.84,111.56 L424.3,108.82 L427.76,105.99 L431.22,103.11 L434.68,100.23 L438.14,97.32 L441.6,94.36" fill="none" stroke="#ffffff" stroke-width="0.45" opacity="0.55"/>
<path d="M382.78,124.83 L386.24,122.01 L389.7,119.11 L393.16,116.12 L396.62,112.87 L400.08,109.53 L403.54,106.08 L407,102.17 L410.46,98.73 L413.92,95.24 L417.38,91.69 L420.84,88.11 L424.3,84.13 L427.76,80.05 L431.22,75.93 L434.68,71.86 L438.14,67.75 L441.6,63.61" fill="none" stroke="#ffffff" stroke-width="0.45" opacity="0.55"/>
<path d="M362.02,138.41 L365.48,136.83 L368.94,135.17 L372.4,133.46 L375.86,131.41 L379.32,129.29 L382.78,127.11 L386.24,124.5 L389.7,121.79 L393.16,119 L396.62,115.96 L400.08,112.81 L403.54,109.54 L407,105.83 L410.46,102.61 L413.92,99.34 L417.38,96.01 L420.84,92.65 L424.3,88.9 L427.76,85.04 L431.22,81.15 L434.68,77.29 L438.14,73.39 L441.6,69.46" fill="none" stroke="#ffffff" stroke-width="0.45" opacity="0.55"/>
<path d="M372.4,141.71 L375.86,140.56 L379.32,139.36 L382.78,138.11 L386.24,136.7 L389.7,135.22 L393.16,133.66 L396.62,131.96 L400.08,130.16 L403.54,128.24 L407,125.92 L410.46,124.03 L413.92,122.1 L417.38,120.14 L420.84,118.14 L424.3,115.79 L427.76,113.36 L431.22,110.89 L434.68,108.41 L438.14,105.89 L441.6,103.33" fill="none" stroke="#ffffff" stroke-width="0.45" opacity="0.55"/>
<path d="M386.24,120.86 L389.7,117.87 L393.16,114.8 L396.62,111.46 L400.08,108.03 L403.54,104.5 L407,100.51 L410.46,96.98 L413.92,93.38 L417.38,89.74 L420.84,86.06 L424.3,81.98 L427.76,77.8 L431.22,73.59 L434.68,69.41 L438.14,65.21 L441.6,60.98" fill="none" stroke="#ffffff" stroke-width="0.45" opacity="0.55"/>
<path d="M396.62,123.74 L400.08,121.16 L403.54,118.46 L407,115.31 L410.46,112.69 L413.92,110.02 L417.38,107.3 L420.84,104.55 L424.3,101.41 L427.76,98.18 L431.22,94.91 L434.68,91.64 L438.14,88.34 L441.6,84.99" fill="none" stroke="#ffffff" stroke-width="0.45" opacity="0.55"/>
<path d="M375.86,133.38 L379.32,131.43 L382.78,129.41 L386.24,127.02 L389.7,124.53 L393.16,121.95 L396.62,119.13 L400.08,116.2 L403.54,113.15 L407,109.64 L410.46,106.66 L413.92,103.63 L417.38,100.54 L420.84,97.42 L424.3,93.9 L427.76,90.29 L431.22,86.64 L434.68,83.01 L438.14,79.34 L441.6,75.64" fill="none" stroke="#ffffff" stroke-width="0.45" opacity="0.55"/>
<path d="M403.54,100.17 L407,95.98 L410.46,92.18 L413.92,88.32 L417.38,84.41 L420.84,80.47 L424.3,76.12 L427.76,71.67 L431.22,67.2 L434.68,62.78 L438.14,58.33 L441.6,53.86" fill="none" stroke="#ffffff" stroke-width="0.45" opacity="0.55"/>
<path d="M396.62,126.04 L400.08,123.65 L403.54,121.14 L407,118.19 L410.46,115.76 L413.92,113.29 L417.38,110.76 L420.84,108.2 L424.3,105.27 L427.76,102.24 L431.22,99.18 L434.68,96.11 L438.14,93 L441.6,89.85" fill="none" stroke="#ffffff" stroke-width="0.45" opacity="0.55"/>
<path d="M417.38,97.09 L420.84,93.78 L424.3,90.08 L427.76,86.29 L431.22,82.45 L434.68,78.64 L438.14,74.8 L441.6,70.92" fill="none" stroke="#ffffff" stroke-width="0.45" opacity="0.55"/>
<path d="M375.86,127.42 L379.32,124.99 L382.78,122.51 L386.24,119.49 L389.7,116.4 L393.16,113.24 L396.62,109.79 L400.08,106.26 L403.54,102.64 L407,98.56 L410.46,94.91 L413.92,91.2 L417.38,87.44 L420.84,83.65 L424.3,79.45 L427.76,75.15 L431.22,70.82 L434.68,66.54 L438.14,62.24 L441.6,57.9" fill="none" stroke="#ffffff" stroke-width="0.45" opacity="0.55"/>
<path d="M365.48,128.77 L368.94,126.57 L372.4,124.35 L375.86,121.55 L379.32,118.71 L382.78,115.84 L386.24,112.31 L389.7,108.73 L393.16,105.1 L396.62,101.17 L400.08,97.18 L403.54,93.14 L407,88.65 L410.46,84.43 L413.92,80.15 L417.38,75.82 L420.84,71.48 L424.3,66.71 L427.76,61.85 L431.22,56.97 L434.68,52.17 L438.14,47.35 L441.6,42.51" fill="none" stroke="#ffffff" stroke-width="0.45" opacity="0.55"/>
<path d="M410.46,108.17 L413.92,105.23 L417.38,102.23 L420.84,99.2 L424.3,95.78 L427.76,92.26 L431.22,88.71 L434.68,85.16 L438.14,81.58 L441.6,77.97" fill="none" stroke="#ffffff" stroke-width="0.45" opacity="0.55"/>
<path d="M389.7,132.84 L393.16,131.01 L396.62,129.02 L400.08,126.91 L403.54,124.68 L407,122.02 L410.46,119.86 L413.92,117.64 L417.38,115.39 L420.84,113.1 L424.3,110.45 L427.76,107.71 L431.22,104.93 L434.68,102.14 L438.14,99.31 L441.6,96.44" fill="none" stroke="#ffffff" stroke-width="0.45" opacity="0.55"/>
<path d="M403.54,129.03 L407,126.79 L410.46,124.96 L413.92,123.1 L417.38,121.2 L420.84,119.27 L424.3,117 L427.76,114.64 L431.22,112.24 L434.68,109.83 L438.14,107.38 L441.6,104.9" fill="none" stroke="#ffffff" stroke-width="0.45" opacity="0.55"/>
<path d="M396.62,108.59 L400.08,104.99 L403.54,101.31 L407,97.16 L410.46,93.43 L413.92,89.64 L417.38,85.8 L420.84,81.93 L424.3,77.64 L427.76,73.26 L431.22,68.86 L434.68,64.5 L438.14,60.12 L441.6,55.71" fill="none" stroke="#ffffff" stroke-width="0.45" opacity="0.55"/>
<path d="M379.32,121.38 L382.78,118.67 L386.24,115.35 L389.7,111.96 L393.16,108.52 L396.62,104.78 L400.08,100.98 L403.54,97.1 L407,92.77 L410.46,88.79 L413.92,84.74 L417.38,80.65 L420.84,76.53 L424.3,71.99 L427.76,67.36 L431.22,62.71 L434.68,58.12 L438.14,53.5 L441.6,48.87" fill="none" stroke="#ffffff" stroke-width="0.45" opacity="0.55"/>
<path d="M396.62,110.96 L400.08,107.49 L403.54,103.93 L407,99.92 L410.46,96.35 L413.92,92.72 L417.38,89.04 L420.84,85.33 L424.3,81.21 L427.76,76.99 L431.22,72.74 L434.68,68.54 L438.14,64.31 L441.6,60.05" fill="none" stroke="#ffffff" stroke-width="0.45" opacity="0.55"/>
<path d="M389.7,120.85 L393.16,117.99 L396.62,114.87 L400.08,111.65 L403.54,108.32 L407,104.53 L410.46,101.24 L413.92,97.89 L417.38,94.48 L420.84,91.05 L424.3,87.21 L427.76,83.27 L431.22,79.3 L434.68,75.36 L438.14,71.39 L441.6,67.38" fill="none" stroke="#ffffff" stroke-width="0.45" opacity="0.55"/>
<path d="M420.84,78.25 L424.3,73.79 L427.76,69.24 L431.22,64.67 L434.68,60.15 L438.14,55.61 L441.6,51.05" fill="none" stroke="#ffffff" stroke-width="0.45" opacity="0.55"/>
<path d="M268.6,150.54 L272.06,150.31 L275.52,150.08 L278.98,149.85 L282.44,149.62 L285.9,149.39 L289.36,148.96 L292.82,148.53 L296.28,148.1 L299.74,147.67 L303.2,147.24 L306.66,146.34 L310.12,145.45 L313.58,144.56 L317.04,143.67 L320.5,142.77 L323.96,141.65 L327.42,140.53 L330.88,139.4 L334.34,138.28 L337.8,137.15 L341.26,135.57 L344.72,133.98 L348.18,132.39 L351.64,130.81 L355.1,129.22 L358.56,126.91 L362.02,124.61 L365.48,122.09 L368.94,119.54 L372.4,116.99 L375.86,113.68 L379.32,110.37 L382.78,107.07 L386.24,102.94 L389.7,98.8 L393.16,94.67 L396.62,90.21 L400.08,85.75 L403.54,81.28 L407,76.39 L410.46,71.5 L413.92,66.55 L417.38,61.56 L420.84,56.57 L424.3,51.14 L427.76,45.63 L431.22,40.12 L434.68,34.72 L438.14,29.32 L441.6,23.92" fill="none" stroke="#16b496" stroke-width="1.2" />
<line x1="268.6" y1="23.8" x2="441.6" y2="23.8" stroke="#8fd9a8" stroke-width="0.9" stroke-dasharray="2.2,1.6"/>
<line x1="268.6" y1="124.6" x2="441.6" y2="124.6" stroke="#f0e070" stroke-width="0.9" stroke-dasharray="2.2,1.6"/>
<rect x="302.4" y="27" width="0.9" height="96" fill="url(#gby)"/>
<polygon points="302.9,25.2 300.8,29.6 305,29.6" fill="#7ed39a" stroke="none" stroke-width="0" />
<polygon points="302.9,125.8 300.8,121.4 305,121.4" fill="#e8e070" stroke="none" stroke-width="0" />
<text x="305.4" y="66.8" font-size="8.8" text-anchor="start" fill="#1a1a1a" font-weight="normal" >×4.3</text>
<path d="M340,30.4 L347.6,40.6 L344.4,40.6 L344.4,104.3 L334.8,104.3 L334.8,40.6 L332.2,40.6 Z" fill="url(#ggr)" stroke="none" stroke-width="1" />
<text x="0" y="0" font-size="6.9" text-anchor="middle" fill="#2a2a2a" transform="translate(341.9,70.8) rotate(-90)">Gradual increase</text>
<text x="272.8" y="20.3" font-size="8.45" text-anchor="start" fill="#1a1a1a" font-weight="normal" >Continuous Unidirectional Sweeping</text>
<text x="369.7" y="54.2" font-size="8.6" fill="#1a1a1a">86<tspan font-size="5.6" dy="-3.3">th</tspan><tspan dy="3.3"> cycle</tspan></text>
<text x="409.5" y="145.5" font-size="8.6" fill="#1a1a1a">1<tspan font-size="5.6" dy="-3.3">st</tspan><tspan dy="3.3"> cycle</tspan></text>
<line x1="393.5" y1="58.6" x2="400.2" y2="74.2" stroke="#111" stroke-width="0.8" />
<polygon points="401.6,77.2 398.1,73.8 401.9,72.6" fill="#111" stroke="none" stroke-width="0" />
<line x1="429.9" y1="137" x2="423" y2="130.2" stroke="#111" stroke-width="0.8" />
<polygon points="420.8,128.2 425.3,129.6 422.6,132.4" fill="#111" stroke="none" stroke-width="0" />
<path d="M382.4,99 C378,106 370,112.5 362.5,116.6" fill="none" stroke="#111" stroke-width="0.9" />
<polygon points="359.6,118.4 362,114.4 364.2,118.2" fill="#111" stroke="none" stroke-width="0" />
<path d="M360.2,145.5 C368,144.5 378,141 385.5,135.6" fill="none" stroke="#111" stroke-width="0.9" />
<polygon points="388.1,134.1 383.5,134.2 385.9,137.8" fill="#111" stroke="none" stroke-width="0" />
<line x1="268.6" y1="11.1" x2="441.6" y2="11.1" stroke="#444" stroke-width="1" />
<line x1="441.6" y1="11.1" x2="441.6" y2="151.7" stroke="#444" stroke-width="1" />
<line x1="268.6" y1="10.6" x2="268.6" y2="152.2" stroke="#222" stroke-width="1.1" />
<line x1="268.1" y1="151.7" x2="442.1" y2="151.7" stroke="#222" stroke-width="1.1" />
<line x1="265.8" y1="118.64" x2="268.6" y2="118.64" stroke="#222" stroke-width="1" />
<line x1="265.8" y1="85.58" x2="268.6" y2="85.58" stroke="#222" stroke-width="1" />
<line x1="265.8" y1="52.52" x2="268.6" y2="52.52" stroke="#222" stroke-width="1" />
<line x1="265.8" y1="19.46" x2="268.6" y2="19.46" stroke="#222" stroke-width="1" />
<line x1="267" y1="135.17" x2="268.6" y2="135.17" stroke="#222" stroke-width="1" />
<line x1="267" y1="102.11" x2="268.6" y2="102.11" stroke="#222" stroke-width="1" />
<line x1="267" y1="69.05" x2="268.6" y2="69.05" stroke="#222" stroke-width="1" />
<line x1="267" y1="35.99" x2="268.6" y2="35.99" stroke="#222" stroke-width="1" />
<text x="264.3" y="122.34" font-size="10.2" text-anchor="end" fill="#1a1a1a" font-weight="normal" >20</text>
<text x="264.3" y="89.28" font-size="10.2" text-anchor="end" fill="#1a1a1a" font-weight="normal" >40</text>
<text x="264.3" y="56.22" font-size="10.2" text-anchor="end" fill="#1a1a1a" font-weight="normal" >60</text>
<text x="264.3" y="23.16" font-size="10.2" text-anchor="end" fill="#1a1a1a" font-weight="normal" >80</text>
<line x1="268.6" y1="151.7" x2="268.6" y2="154.5" stroke="#222" stroke-width="1" />
<line x1="303.2" y1="151.7" x2="303.2" y2="154.5" stroke="#222" stroke-width="1" />
<line x1="337.8" y1="151.7" x2="337.8" y2="154.5" stroke="#222" stroke-width="1" />
<line x1="372.4" y1="151.7" x2="372.4" y2="154.5" stroke="#222" stroke-width="1" />
<line x1="407" y1="151.7" x2="407" y2="154.5" stroke="#222" stroke-width="1" />
<line x1="441.6" y1="151.7" x2="441.6" y2="154.5" stroke="#222" stroke-width="1" />
<line x1="285.9" y1="151.7" x2="285.9" y2="153.3" stroke="#222" stroke-width="1" />
<line x1="320.5" y1="151.7" x2="320.5" y2="153.3" stroke="#222" stroke-width="1" />
<line x1="355.1" y1="151.7" x2="355.1" y2="153.3" stroke="#222" stroke-width="1" />
<line x1="389.7" y1="151.7" x2="389.7" y2="153.3" stroke="#222" stroke-width="1" />
<line x1="424.3" y1="151.7" x2="424.3" y2="153.3" stroke="#222" stroke-width="1" />
<text x="268.6" y="165.4" font-size="10.2" text-anchor="middle" fill="#1a1a1a" font-weight="normal" >1.0</text>
<text x="303.2" y="165.4" font-size="10.2" text-anchor="middle" fill="#1a1a1a" font-weight="normal" >1.2</text>
<text x="337.8" y="165.4" font-size="10.2" text-anchor="middle" fill="#1a1a1a" font-weight="normal" >1.4</text>
<text x="372.4" y="165.4" font-size="10.2" text-anchor="middle" fill="#1a1a1a" font-weight="normal" >1.6</text>
<text x="407" y="165.4" font-size="10.2" text-anchor="middle" fill="#1a1a1a" font-weight="normal" >1.8</text>
<text x="441.6" y="165.4" font-size="10.2" text-anchor="middle" fill="#1a1a1a" font-weight="normal" >2.0</text>
<text x="355.1" y="184" font-size="12.4" text-anchor="middle" fill="#1a1a1a" font-weight="normal" >Voltage (V)</text>
<text x="0" y="0" font-size="12.2" text-anchor="middle" fill="#1a1a1a" transform="translate(245.3,81.3) rotate(-90)">Current (μA)</text>
<text x="459.9" y="13" font-size="15" text-anchor="start" fill="#000" font-weight="bold" >c</text>
<path d="M576.6,26.1h0M578.9,27.7h0M586.3,27.8h0M587.0,28.0h0M607.6,28.7h0M550.5,28.9h0M513.3,29.1h0M504.7,26.7h0M669.3,30.2h0M605.1,28.1h0M525.0,30.0h0M507.8,28.6h0M530.7,28.6h0M578.6,29.1h0M574.5,29.8h0M609.5,27.3h0M584.9,27.8h0M546.1,28.1h0M672.0,30.8h0M621.3,29.1h0M552.6,29.6h0M509.7,29.5h0M631.5,27.4h0M565.0,30.8h0M665.1,28.5h0M534.1,28.7h0M656.7,25.2h0M566.9,30.0h0M510.2,26.8h0M544.6,27.6h0M512.7,26.7h0M630.1,32.4h0M518.0,28.3h0M507.9,29.1h0M636.9,30.2h0M575.7,30.4h0M530.8,28.5h0M610.1,28.0h0M517.8,27.5h0M544.6,29.7h0M667.3,28.8h0M652.3,28.0h0M534.3,26.8h0M609.7,30.2h0M515.0,29.2h0M542.6,29.1h0M632.6,29.0h0M510.2,29.3h0M513.2,27.5h0M602.6,27.9h0M562.4,26.3h0M582.1,29.6h0M597.9,28.9h0M524.4,27.8h0M656.4,29.2h0M530.6,27.7h0M626.8,30.2h0M663.7,28.2h0M651.8,27.9h0M515.6,27.5h0M504.2,29.5h0M620.7,28.9h0M542.4,29.9h0M548.8,27.8h0M528.1,28.4h0M537.4,28.5h0M595.3,29.4h0M546.4,27.9h0M657.9,28.8h0M544.5,29.5h0M575.4,29.7h0M561.9,29.7h0M597.5,29.1h0M653.3,29.9h0M669.0,27.2h0M599.7,26.7h0M522.0,28.6h0M656.7,28.8h0M620.1,29.4h0M608.7,28.5h0M581.8,28.5h0M672.3,27.2h0M510.6,26.3h0M654.9,28.3h0M626.4,28.7h0M657.5,26.5h0M559.0,28.4h0M649.8,26.6h0M570.4,29.8h0M597.6,25.8h0M606.8,27.3h0M604.0,29.6h0M511.4,25.7h0M651.4,25.9h0M624.8,27.7h0M599.1,29.7h0M574.5,29.3h0M628.7,29.0h0M502.6,27.5h0M537.7,28.1h0M619.6,27.3h0M658.5,28.7h0M542.2,30.3h0M616.1,29.0h0M532.9,30.1h0M612.9,31.3h0M574.7,29.9h0M613.9,28.1h0M532.1,26.6h0M657.4,29.8h0M651.4,27.8h0M552.8,30.6h0M521.2,25.9h0M645.9,29.3h0M621.9,30.2h0M527.0,28.2h0M576.3,28.7h0M569.8,30.1h0M606.9,27.4h0M644.2,29.4h0M669.3,27.9h0M502.9,28.8h0M650.1,31.1h0M597.3,28.8h0M551.5,29.5h0M521.2,28.1h0M577.0,31.3h0M538.9,29.4h0M522.1,30.1h0M575.5,29.5h0M607.6,27.2h0M665.1,26.5h0M617.2,29.5h0M528.7,29.9h0M499.3,26.8h0M528.7,28.9h0M545.1,28.1h0M588.5,30.1h0M604.9,28.5h0M636.0,28.2h0M656.0,31.4h0M623.8,30.9h0M520.1,26.6h0M656.6,29.3h0M563.3,27.0h0M636.8,28.4h0M662.6,26.7h0M533.3,29.2h0M623.7,30.1h0M623.0,27.6h0M534.7,31.8h0M668.4,26.2h0M591.4,28.6h0M656.6,27.7h0M647.2,28.9h0M574.6,29.4h0M593.7,28.5h0M502.4,27.2h0M639.0,31.6h0M527.7,29.4h0M556.0,29.7h0M523.4,27.7h0M587.8,28.0h0M618.0,26.6h0M662.9,25.4h0M512.5,28.5h0M536.1,27.8h0M624.9,29.1h0M609.2,26.1h0M595.4,27.9h0M551.9,27.6h0M655.0,30.6h0M533.8,30.8h0M589.1,25.6h0M597.7,28.8h0M585.5,30.0h0M603.3,31.8h0M587.7,29.0h0M567.5,29.8h0M583.3,27.0h0M618.3,30.5h0M569.8,29.8h0M664.9,29.4h0M580.2,28.2h0M519.6,26.1h0M655.0,29.8h0M580.8,28.3h0M605.5,29.3h0M659.3,30.2h0M501.4,30.4h0M531.4,28.9h0M553.8,31.4h0M559.6,29.0h0M625.3,28.9h0M518.9,27.3h0M532.0,28.6h0M590.2,27.2h0M569.7,29.7h0M590.0,28.8h0M607.9,29.3h0M609.1,26.1h0M604.4,28.0h0M647.3,29.5h0M639.2,31.6h0M655.4,28.4h0M658.9,29.7h0M535.6,31.6h0M520.8,28.3h0M539.3,28.9h0M514.4,27.3h0M643.0,27.4h0M519.5,29.4h0M567.9,29.2h0M532.6,28.5h0M616.8,31.9h0M517.6,26.5h0M585.9,28.5h0M617.4,27.5h0M530.5,29.2h0M504.0,28.9h0M593.9,26.6h0M523.0,28.2h0M529.7,29.3h0M670.7,30.7h0M659.6,29.0h0M663.9,28.8h0M578.3,28.9h0M579.1,27.6h0M587.6,26.8h0M499.7,29.5h0M620.1,29.6h0M576.8,28.2h0M626.8,28.7h0M526.3,28.9h0M587.1,31.2h0M637.7,29.8h0M620.7,30.3h0M568.2,27.8h0M602.3,24.7h0M638.2,29.4h0M542.6,31.0h0M633.5,28.4h0M640.0,27.2h0M651.4,30.6h0M619.0,29.3h0M568.4,27.0h0M623.9,30.4h0M579.4,29.2h0M499.3,27.7h0M606.6,30.0h0M538.0,30.8h0M556.5,28.8h0M612.9,27.3h0M565.6,28.7h0M672.4,27.0h0M630.7,27.9h0M668.9,30.1h0M626.7,29.6h0M542.3,28.8h0M531.6,28.9h0M563.1,30.2h0M655.9,29.4h0M593.7,24.9h0M596.8,28.1h0M671.5,26.8h0M510.7,26.6h0M602.0,28.4h0M660.2,28.2h0M525.4,27.7h0M584.1,28.7h0M604.4,31.4h0M571.0,30.3h0M589.6,27.4h0M547.4,28.6h0M612.0,27.8h0M622.8,28.8h0M549.2,30.4h0M504.9,28.6h0M524.8,28.4h0M654.5,27.6h0M628.4,33.1h0M662.7,29.7h0M510.3,29.5h0M581.0,27.9h0M667.7,28.4h0M661.4,30.2h0M623.9,25.7h0M640.3,30.2h0M603.0,29.8h0M577.1,30.0h0M533.0,30.2h0M519.2,28.8h0M574.9,28.2h0M543.3,28.0h0M599.3,26.4h0M590.3,29.4h0M672.0,30.3h0M539.1,28.4h0M517.3,30.1h0M606.8,27.1h0M560.3,29.2h0M596.3,30.3h0M600.9,26.9h0M530.6,27.0h0M541.0,32.0h0M651.2,28.7h0M504.3,29.5h0M571.8,29.5h0M606.5,29.8h0M510.1,29.4h0M512.5,27.6h0M607.8,27.1h0M562.7,28.5h0M557.5,29.6h0M627.7,29.7h0M518.4,27.9h0M639.0,27.9h0M534.7,27.2h0M571.7,29.0h0M562.0,31.8h0M611.8,29.9h0M593.4,28.2h0M628.0,30.6h0M562.0,28.8h0M514.4,28.7h0M511.9,28.0h0M596.1,26.3h0M549.7,29.6h0M633.1,30.3h0M613.3,29.2h0M511.7,27.7h0M618.8,31.0h0M546.9,30.1h0M624.4,30.3h0M561.5,31.0h0M597.0,29.7h0M658.1,31.4h0M574.0,27.9h0M637.9,29.1h0M567.3,30.4h0M661.0,29.4h0M560.7,28.9h0M561.4,28.6h0M565.2,30.3h0M531.5,26.5h0M592.0,27.4h0M643.8,28.6h0M630.2,29.1h0M651.6,29.0h0M587.6,28.7h0M592.6,25.2h0M611.4,27.3h0M638.2,31.0h0M635.3,30.1h0M512.1,30.2h0M654.7,29.9h0M512.2,27.9h0M627.9,28.9h0M611.0,28.7h0M631.3,30.4h0M588.7,28.5h0M556.5,28.2h0M666.8,27.7h0M591.4,27.0h0M623.6,28.5h0M569.3,26.4h0M642.0,28.1h0M638.4,27.3h0M643.3,31.9h0M609.4,26.5h0M589.1,27.8h0M571.2,26.9h0M571.0,30.4h0M670.8,30.0h0M563.1,29.8h0M571.8,29.9h0M548.5,29.8h0M551.4,29.4h0M517.5,27.0h0M528.8,26.7h0M508.3,26.8h0M656.5,29.2h0M503.8,29.3h0M535.4,29.4h0M538.6,28.6h0M536.6,27.2h0M529.8,28.4h0M630.0,30.2h0M552.0,27.2h0M581.3,27.9h0M543.0,31.4h0M557.3,27.6h0M593.2,29.7h0M536.1,28.5h0M506.1,30.7h0M564.8,28.6h0M589.7,27.3h0M670.7,28.2h0M612.5,28.8h0M580.1,28.9h0M562.4,30.0h0M603.5,26.4h0M524.9,29.0h0M542.8,30.1h0M649.5,27.3h0M671.2,28.1h0M544.0,28.5h0M632.2,29.3h0M497.6,30.0h0M641.3,27.2h0M511.8,28.1h0M514.4,30.4h0M581.4,25.5h0M600.1,29.0h0M647.4,28.5h0M570.4,31.3h0M657.8,30.8h0M533.9,30.1h0M592.5,27.6h0M643.0,29.3h0M551.9,29.3h0M550.9,29.9h0M579.2,28.5h0M617.6,27.8h0M515.9,27.2h0M666.6,29.3h0M642.6,29.3h0M563.4,29.2h0M621.7,29.3h0M577.6,30.5h0M499.2,31.1h0M533.6,28.6h0M605.2,28.2h0M591.9,29.5h0M549.6,28.7h0M614.1,30.0h0M542.3,29.8h0M555.0,31.5h0M662.8,26.6h0M555.4,28.7h0M642.1,30.0h0M513.9,28.7h0M616.0,28.7h0M567.8,28.5h0M643.9,28.9h0M537.1,28.6h0M524.9,29.4h0M510.1,29.3h0M658.5,27.3h0M610.7,29.4h0M631.6,30.0h0M555.4,28.3h0M569.5,30.5h0M619.9,29.2h0M669.2,28.8h0M603.9,26.6h0M500.6,28.2h0M611.3,29.8h0M516.0,27.2h0M635.4,30.6h0M641.8,28.8h0M631.5,29.0h0M655.4,27.7h0M585.0,28.1h0M522.2,27.5h0M587.7,24.7h0M622.6,29.7h0M662.8,27.8h0M607.1,28.7h0M540.2,29.6h0M598.3,27.9h0M660.0,27.5h0M560.6,28.8h0M667.8,28.5h0M521.1,29.7h0M595.5,27.4h0M595.5,28.0h0M671.0,31.2h0M640.5,28.9h0M641.7,29.0h0M547.9,30.1h0M597.8,27.7h0M642.8,30.0h0M510.7,29.9h0M503.0,30.3h0M661.8,32.0h0M612.6,28.1h0M626.5,31.2h0M564.2,27.4h0M500.3,27.5h0M532.3,28.0h0M565.0,29.5h0M597.1,29.0h0M543.5,30.6h0M596.8,27.4h0M504.0,30.2h0M614.8,30.9h0M602.4,31.0h0M579.6,27.2h0M618.0,30.0h0M630.1,29.5h0M671.5,26.8h0M644.1,30.2h0M573.3,28.0h0M596.4,29.6h0M589.3,27.5h0M573.0,30.0h0M507.0,27.8h0M624.4,31.0h0M602.0,27.1h0M629.0,28.8h0M509.6,30.0h0M519.2,26.9h0M566.8,29.8h0M506.5,28.0h0M539.3,27.5h0M551.0,28.7h0M509.4,29.0h0M656.9,30.7h0M649.0,28.8h0M571.1,29.4h0M628.1,28.5h0M596.6,28.8h0M636.1,29.2h0M519.1,25.2h0M497.5,28.1h0M540.1,28.7h0M508.4,29.5h0M654.0,29.4h0M559.8,28.3h0M599.9,28.6h0M654.6,29.0h0M551.3,26.4h0M668.4,28.4h0M580.1,29.0h0M658.9,29.7h0M654.3,29.7h0M559.4,31.8h0M580.1,30.0h0M671.6,30.7h0M532.8,28.1h0M651.4,28.4h0M506.2,30.2h0M552.2,30.8h0M655.0,30.3h0M521.0,26.8h0M619.2,30.4h0M511.2,27.8h0M536.5,28.2h0M531.8,30.6h0M529.1,28.7h0M635.7,31.4h0M562.6,28.0h0M600.6,26.1h0M537.5,28.0h0M614.1,31.7h0M545.8,28.9h0M669.4,27.9h0M574.5,27.4h0M505.3,28.3h0M602.3,28.2h0M638.0,30.4h0M512.7,27.9h0M540.4,31.2h0M546.2,28.5h0M654.4,28.7h0M670.3,29.7h0M628.8,29.7h0M564.7,30.8h0M528.9,27.9h0M594.7,27.5h0M612.6,27.8h0M634.4,28.0h0M645.3,29.1h0M617.1,25.8h0M527.8,28.1h0M633.8,30.4h0M538.6,30.5h0M574.5,29.3h0M635.8,27.2h0M538.7,28.1h0M598.9,28.4h0M584.7,30.2h0M622.5,29.6h0M597.6,28.9h0M524.0,27.8h0M500.5,27.4h0M574.7,29.0h0M543.4,29.4h0M656.2,28.3h0M597.0,26.1h0M539.0,28.4h0M523.0,28.2h0M552.4,29.8h0M606.1,27.5h0M600.4,28.2h0M512.9,28.7h0M542.0,28.4h0M525.4,27.5h0M635.1,27.2h0M508.1,27.4h0M535.3,29.5h0M667.2,29.8h0M630.6,29.9h0M670.0,29.2h0M627.8,30.5h0M504.3,28.7h0M522.2,31.1h0M566.2,28.9h0M510.8,29.7h0M503.4,30.8h0M625.9,29.3h0M537.6,28.9h0M539.7,30.7h0M578.2,29.9h0M556.4,29.0h0M669.1,28.1h0M567.9,29.0h0M611.1,29.8h0M619.0,29.5h0M648.7,26.9h0M578.4,27.3h0M566.2,30.0h0M634.1,28.4h0M535.1,28.3h0M593.6,29.0h0M526.1,28.7h0M579.2,29.6h0M551.4,25.6h0M616.3,30.3h0M648.4,29.5h0M510.1,29.6h0M618.4,28.4h0M500.6,29.5h0M529.3,28.5h0M659.0,30.0h0M622.6,29.1h0M524.3,29.6h0M661.3,27.2h0M624.0,31.0h0M656.1,30.0h0M564.7,29.5h0M512.0,29.2h0M632.3,28.7h0M588.3,29.6h0M539.1,29.5h0M504.5,29.6h0M503.0,30.1h0M552.0,28.0h0M521.2,29.1h0M621.1,29.0h0M614.0,30.9h0M523.2,28.7h0M622.1,30.2h0M568.3,27.3h0M537.0,30.6h0M548.5,28.9h0M504.5,29.3h0M501.7,27.6h0M638.9,28.2h0M668.1,27.8h0M658.2,30.6h0M535.2,28.1h0M664.6,26.7h0M649.4,29.3h0M513.1,30.2h0M572.2,28.7h0M564.5,29.7h0M554.8,28.4h0M525.2,28.4h0M567.8,28.5h0M613.8,29.0h0M539.4,30.0h0M571.3,29.8h0M523.8,26.6h0M594.2,27.3h0M619.9,30.4h0M561.2,29.6h0M508.4,28.1h0M584.1,28.8h0M599.9,27.2h0M541.7,29.4h0M501.5,27.1h0M596.4,30.5h0M543.2,28.8h0M579.5,28.0h0M605.1,29.6h0M598.2,28.0h0M662.3,28.8h0M606.0,26.7h0M569.3,28.3h0M642.6,29.9h0M651.4,26.9h0M504.1,30.5h0M521.2,27.2h0M560.5,29.4h0M668.4,28.9h0M537.4,29.6h0M616.4,29.0h0M592.6,28.4h0M566.3,29.4h0M611.2,30.2h0M593.3,27.1h0M642.8,28.2h0M666.9,27.8h0M652.5,30.0h0M552.2,29.0h0M617.5,27.1h0M666.1,28.8h0M606.2,27.8h0M583.3,27.4h0M547.4,28.9h0M628.5,28.5h0M541.0,28.9h0M554.3,30.2h0M519.4,29.7h0M508.5,29.0h0M620.7,29.4h0M517.1,26.2h0M581.5,29.3h0M525.8,30.2h0M506.8,26.5h0M541.8,26.8h0M566.0,29.2h0M622.7,29.2h0M554.6,31.6h0M555.8,29.6h0M642.4,26.9h0M596.7,26.5h0M606.4,29.5h0M642.8,29.6h0M563.4,28.8h0M614.5,29.0h0M499.8,29.6h0M599.9,31.6h0M520.8,27.1h0M617.7,27.4h0M566.8,30.2h0M660.7,29.0h0M622.2,29.2h0M518.1,29.3h0M625.4,29.6h0M671.3,29.2h0M502.0,29.5h0M592.3,27.1h0M551.5,29.6h0M637.5,30.0h0M565.9,28.4h0M605.5,28.8h0M565.5,25.7h0M618.9,26.8h0M523.1,27.7h0M528.0,30.9h0M541.4,31.0h0M582.8,29.4h0M500.8,29.5h0M596.4,29.4h0M545.4,30.7h0M537.2,27.7h0M542.8,29.3h0M506.4,31.0h0M551.5,30.5h0M511.1,29.0h0M671.9,29.7h0M532.8,29.7h0M570.0,28.1h0M638.6,29.1h0M593.7,28.6h0M612.4,28.0h0M661.7,27.8h0M648.7,30.6h0M643.3,29.3h0M624.3,29.4h0M526.9,28.7h0M518.2,29.4h0M629.3,30.0h0M551.7,29.3h0M534.2,28.8h0M665.3,30.0h0M639.2,29.6h0M636.1,29.4h0M637.9,28.2h0M642.2,29.8h0M515.0,24.5h0M663.7,26.8h0M541.2,30.3h0M656.6,30.5h0M537.2,29.2h0M565.4,28.1h0M639.3,30.9h0M561.2,28.7h0M546.3,28.4h0M655.8,28.6h0M556.0,30.0h0M627.2,29.9h0M593.0,30.4h0M616.4,29.2h0M522.4,28.9h0M558.7,29.3h0M585.4,28.6h0M568.0,28.6h0M664.1,29.9h0M533.2,29.6h0M629.4,28.7h0M516.4,29.7h0M665.9,28.3h0M535.8,27.2h0M528.5,29.6h0M545.2,27.9h0M553.8,26.7h0M529.5,26.1h0M523.3,31.4h0M608.5,27.2h0M534.6,30.1h0M605.2,30.4h0M607.4,26.9h0M585.7,27.9h0M644.0,29.1h0M618.1,27.2h0M570.8,29.7h0M564.7,29.6h0M597.6,30.1h0M587.6,30.2h0M575.6,29.3h0M601.2,25.9h0M524.0,26.7h0M579.4,30.9h0M552.2,29.4h0M626.3,30.7h0M649.2,29.1h0M519.6,29.8h0M538.4,28.9h0M644.4,27.5h0M642.5,26.9h0M637.0,25.4h0M508.7,28.1h0M649.7,28.9h0M638.7,28.5h0M576.9,26.3h0M531.7,28.1h0M546.3,29.0h0M594.5,27.9h0M635.1,28.5h0M637.4,29.5h0M647.0,29.5h0M655.9,27.2h0M636.8,30.2h0M515.0,29.3h0M503.8,27.1h0M643.3,31.5h0M517.9,28.8h0M646.0,30.4h0M605.4,28.9h0M670.3,28.0h0M533.6,26.9h0M624.7,27.4h0M531.9,28.0h0M500.1,27.6h0M556.8,28.8h0M546.1,31.0h0M602.9,28.1h0M519.8,27.5h0M618.8,28.4h0M517.7,28.4h0M662.1,27.6h0M531.7,27.9h0M671.5,27.6h0M560.5,27.5h0M551.7,28.8h0M607.9,29.0h0M571.7,29.7h0M577.3,27.6h0M586.0,29.6h0M620.5,28.7h0M538.5,28.1h0M650.1,28.6h0M547.5,30.6h0M577.0,27.3h0M660.8,27.0h0M602.6,29.8h0M575.9,30.1h0M546.6,29.9h0M574.6,30.0h0M619.0,28.8h0M615.0,28.9h0M520.5,29.7h0M654.1,28.9h0M557.2,30.9h0M641.0,30.5h0M592.9,26.9h0M514.8,28.8h0M561.0,29.1h0M562.9,29.1h0M557.6,27.6h0M654.5,29.2h0M608.2,28.5h0M579.5,27.8h0M552.7,30.6h0M614.8,26.2h0M668.3,26.2h0M671.1,26.4h0M611.1,30.2h0M620.1,29.6h0M578.3,28.8h0M567.6,28.8h0M670.6,27.6h0M534.0,28.3h0M566.5,29.8h0M627.2,30.1h0M611.0,29.1h0M606.4,28.5h0M639.4,28.5h0M625.3,29.4h0M579.4,28.1h0M500.2,30.8h0M654.2,26.5h0M501.6,27.7h0M590.8,29.6h0M516.9,28.6h0M586.2,27.4h0M519.2,27.7h0M512.9,28.0h0M587.0,27.8h0M540.6,31.3h0M569.8,30.0h0M576.4,29.2h0M595.1,25.8h0M515.7,28.9h0M646.2,31.2h0M589.3,31.2h0M568.5,27.3h0M666.1,26.7h0M569.7,29.9h0M640.6,29.5h0M625.9,29.2h0M590.3,27.6h0M502.4,29.5h0M666.5,29.1h0M609.9,28.9h0M570.2,28.8h0M511.1,28.3h0M658.2,29.4h0M554.9,27.6h0M652.6,29.1h0M663.0,27.1h0M655.6,28.2h0M566.4,28.7h0M542.6,31.2h0M561.8,28.1h0M560.1,30.1h0M572.7,28.7h0M643.6,29.5h0M508.2,26.8h0M567.4,29.0h0M536.4,29.9h0M552.4,30.2h0M582.1,28.9h0M582.7,30.7h0M499.0,26.0h0M498.6,30.7h0M601.2,29.6h0M602.1,28.1h0M562.0,28.9h0M600.6,30.0h0M552.5,27.9h0M629.3,29.5h0M506.7,29.3h0M544.7,29.8h0M636.6,27.2h0M567.8,30.4h0M547.4,29.1h0M669.6,27.8h0M642.9,28.8h0M640.8,30.4h0M635.4,29.2h0M631.0,29.1h0M505.8,27.4h0M659.7,27.5h0M609.2,31.6h0M629.1,29.9h0M598.9,30.4h0M570.6,29.2h0M616.3,31.8h0M510.5,28.1h0M634.1,27.5h0M563.5,30.2h0M575.7,28.3h0M553.4,29.7h0M626.0,29.9h0M643.4,29.6h0M614.0,28.2h0M518.1,28.1h0M551.7,31.1h0M658.8,28.2h0M534.4,27.4h0M644.3,30.2h0M519.0,29.3h0M502.9,27.6h0M573.0,27.6h0M659.8,30.0h0M583.8,28.1h0M633.7,28.3h0M515.8,28.3h0M599.9,27.6h0M532.8,28.3h0M558.6,30.1h0M600.9,27.1h0M597.9,28.1h0M644.8,28.2h0M581.5,30.0h0M669.0,27.4h0M538.3,30.8h0M543.1,29.0h0M542.4,27.5h0M508.6,29.0h0M622.8,28.1h0M573.1,27.8h0M668.2,27.2h0M656.6,27.4h0M537.9,29.4h0M629.2,30.3h0M645.7,30.0h0M503.5,28.1h0M593.9,26.7h0M555.7,31.3h0M631.2,32.1h0M638.4,31.3h0M535.6,30.2h0M532.3,27.0h0M518.5,27.9h0M631.3,27.1h0M659.1,27.3h0M618.0,26.9h0M623.1,31.7h0M548.3,30.7h0M543.7,27.6h0M541.0,30.7h0M541.8,29.3h0M548.7,29.4h0M582.3,29.3h0M545.1,29.0h0M586.5,29.5h0M650.3,30.5h0M647.0,31.4h0M604.0,26.4h0M590.9,27.8h0M612.9,30.8h0M542.9,28.1h0M506.9,29.6h0M635.2,29.0h0M538.2,27.8h0M625.0,29.7h0M662.5,26.9h0M558.4,29.4h0M538.0,29.6h0M662.0,28.4h0M612.4,31.3h0M515.3,29.5h0M596.4,31.1h0M551.5,32.1h0M650.0,30.9h0M509.3,29.1h0M502.6,25.3h0M617.3,27.4h0M647.1,29.6h0M510.9,26.8h0M589.6,29.0h0M559.4,30.9h0M584.7,29.2h0M570.4,31.1h0M582.4,29.9h0M595.0,29.0h0M667.6,27.7h0M549.9,29.2h0M556.1,28.6h0M668.2,25.4h0M663.6,30.8h0M661.0,27.4h0M500.9,27.0h0M617.4,29.1h0M604.6,26.2h0M512.5,26.4h0M588.3,28.7h0M517.0,28.2h0M649.5,29.4h0M503.0,28.6h0M642.6,28.8h0M598.9,26.9h0M629.9,29.5h0M509.3,28.4h0M636.4,31.9h0M568.7,28.8h0M556.1,29.4h0M632.2,29.7h0M543.3,27.8h0M556.1,28.7h0M615.5,28.0h0M651.7,29.3h0M528.1,29.1h0M581.2,29.5h0M634.5,29.0h0M611.9,29.6h0M542.9,28.2h0M650.9,28.9h0M529.7,28.7h0M555.1,30.6h0M624.5,28.3h0M591.9,26.3h0M511.2,28.4h0M535.5,27.9h0M569.9,30.4h0M559.8,29.4h0M656.8,30.1h0M521.1,28.3h0M635.6,29.7h0M635.7,28.3h0M563.8,29.0h0M627.2,31.1h0M580.7,28.8h0M584.7,28.3h0M564.0,32.0h0M522.5,29.5h0M533.4,31.1h0M660.4,26.3h0M557.2,30.2h0M622.4,28.9h0M662.9,28.8h0M616.1,29.6h0M651.8,28.6h0M576.8,25.7h0M562.6,30.2h0M661.7,29.3h0M509.9,28.9h0M506.0,29.6h0M551.1,29.7h0M589.6,29.0h0M592.0,26.3h0M589.6,27.5h0M663.1,29.3h0M510.8,28.8h0M551.5,29.7h0M585.6,25.5h0M525.5,27.6h0M548.9,30.9h0M636.1,30.9h0M602.9,28.2h0M645.5,28.5h0M662.6,28.7h0M668.5,30.5h0M567.5,29.6h0M506.5,28.9h0M626.3,30.0h0M534.4,29.7h0M637.3,29.6h0M584.8,27.7h0M529.3,27.4h0M500.1,28.6h0M543.0,29.5h0M605.7,27.5h0M606.6,29.6h0M552.9,27.8h0M599.1,30.4h0M570.4,27.8h0M555.6,29.1h0M657.3,29.1h0M646.7,32.3h0M651.7,29.8h0M669.7,29.7h0M547.9,30.4h0M538.5,30.8h0M599.5,30.1h0M547.1,32.0h0M514.4,27.9h0M595.3,27.2h0M584.4,29.9h0M563.7,28.7h0M497.7,27.9h0M597.9,28.3h0M608.0,28.0h0M584.5,28.7h0M581.7,26.5h0M546.4,26.6h0M574.9,31.0h0M538.4,30.2h0M642.5,29.7h0M655.4,27.9h0M585.6,27.0h0M662.9,29.3h0M583.1,27.5h0M644.6,29.4h0M585.4,28.0h0M535.1,29.5h0M643.4,30.6h0M657.9,25.3h0M617.3,29.6h0M639.1,27.5h0M637.6,30.6h0M550.5,31.6h0M540.1,29.3h0M587.0,28.3h0M557.5,30.0h0M656.8,27.1h0M660.6,28.3h0M614.2,28.5h0M516.5,30.9h0M551.8,29.2h0M529.9,27.8h0M669.8,26.3h0M606.4,30.0h0M507.6,29.9h0M649.3,29.4h0M650.3,26.8h0M597.0,30.0h0M583.5,27.9h0M564.7,29.2h0M525.6,28.7h0M636.6,29.7h0M633.1,31.4h0M618.9,27.9h0M545.2,29.2h0M530.2,27.4h0M662.3,27.0h0M555.3,32.1h0M548.2,28.1h0M664.0,26.0h0M632.9,27.2h0M555.7,29.2h0M582.8,30.1h0M503.6,29.7h0M580.2,27.5h0M627.7,29.4h0M599.0,29.2h0M539.6,28.8h0M506.5,28.9h0M559.6,26.4h0M609.3,28.1h0M569.9,28.4h0M580.3,29.2h0M665.2,29.4h0M617.4,30.0h0M630.8,27.7h0M661.6,27.9h0M655.3,28.8h0M671.9,29.9h0M589.8,29.2h0M507.4,30.5h0M523.7,27.4h0M623.3,28.9h0M624.6,28.4h0M610.8,30.7h0M620.9,27.8h0M516.1,28.7h0M580.5,31.3h0M507.2,27.7h0M509.8,28.2h0M574.0,31.0h0M519.8,26.8h0M627.6,30.2h0M567.9,28.1h0M605.1,26.9h0M505.5,28.4h0M507.0,27.8h0M580.3,29.2h0M565.8,29.4h0M579.4,31.3h0M646.5,31.2h0M582.6,27.6h0M669.5,27.7h0M518.4,28.0h0M648.9,30.0h0M586.4,27.3h0M652.6,29.7h0M542.4,29.7h0M575.9,26.9h0M561.4,28.1h0M552.6,30.0h0M606.6,27.6h0M632.6,30.1h0M577.0,26.2h0M577.0,29.3h0M563.2,32.3h0M634.9,27.4h0M567.7,28.3h0M549.2,27.5h0M624.1,31.1h0M614.4,28.3h0M573.5,28.5h0M632.2,28.7h0M591.8,29.5h0M621.9,29.1h0M500.3,26.8h0M542.8,30.3h0M604.8,28.7h0M671.3,29.6h0M531.8,29.1h0M599.4,28.1h0M641.1,30.1h0M600.7,27.2h0M622.0,29.4h0M598.7,26.2h0" fill="none" stroke="#f08a8a" stroke-width="1.5" stroke-linecap="round"/>
<path d="M541.4,131.0h0M670.1,128.1h0M634.0,128.7h0M545.4,134.8h0M589.9,129.6h0M653.8,130.8h0M548.0,132.7h0M603.4,128.0h0M590.1,133.4h0M559.1,132.1h0M510.6,130.2h0M642.4,133.4h0M545.3,130.3h0M562.9,134.1h0M523.4,129.6h0M541.1,135.5h0M518.0,134.1h0M543.7,133.7h0M619.1,133.3h0M534.4,132.1h0M619.8,127.6h0M580.3,135.0h0M574.7,132.8h0M670.1,128.1h0M536.4,130.7h0M557.1,131.4h0M572.9,134.0h0M527.4,127.3h0M621.0,130.6h0M537.0,135.6h0M537.4,131.4h0M508.4,130.6h0M592.5,129.8h0M559.2,131.8h0M602.4,130.5h0M501.1,131.0h0M528.3,130.8h0M553.8,135.1h0M548.0,130.3h0M541.0,131.0h0M543.1,133.5h0M544.4,132.0h0M645.5,128.2h0M652.6,131.3h0M606.4,128.2h0M569.7,129.4h0M585.6,128.7h0M635.4,130.7h0M536.6,133.2h0M636.8,130.5h0M547.4,133.4h0M617.0,133.4h0M627.7,127.9h0M651.5,131.3h0M657.9,131.2h0M667.3,130.0h0M587.5,129.5h0M670.7,134.2h0M671.2,131.6h0M609.3,129.8h0M595.8,132.4h0M601.0,129.3h0M527.7,127.0h0M535.3,132.4h0M592.5,129.2h0M500.5,133.8h0M612.3,129.9h0M555.8,132.9h0M595.2,132.7h0M639.9,132.1h0M630.1,130.5h0M522.0,131.3h0M502.6,132.6h0M553.6,134.1h0M642.3,131.6h0M661.1,133.4h0M596.0,127.6h0M622.5,132.2h0M584.0,132.7h0M658.0,130.5h0M508.9,131.8h0M645.2,131.9h0M668.9,129.2h0M622.9,127.3h0M507.7,129.3h0M505.9,131.4h0M669.4,129.3h0M601.1,131.4h0M529.0,128.9h0M596.3,130.3h0M530.6,131.2h0M503.3,130.6h0M579.3,133.1h0M630.6,127.7h0M506.4,131.8h0M504.0,130.4h0M650.9,130.1h0M645.5,131.2h0M657.8,131.8h0M530.8,131.5h0M532.5,130.6h0M591.1,129.8h0M523.6,128.9h0M580.4,130.5h0M605.0,130.5h0M652.7,132.5h0M566.0,127.5h0M564.5,130.9h0M562.5,131.0h0M547.2,127.8h0M628.7,130.6h0M529.9,128.2h0M646.7,130.7h0M627.0,128.9h0M560.8,128.2h0M598.4,127.1h0M672.2,132.0h0M522.6,128.6h0M596.1,132.7h0M607.4,132.4h0M553.9,131.1h0M647.4,129.9h0M543.3,129.8h0M646.0,132.9h0M594.8,133.4h0M554.8,132.2h0M670.9,130.0h0M538.1,131.0h0M623.9,132.7h0M553.0,128.5h0M552.1,132.0h0M524.0,128.9h0M666.6,131.5h0M503.6,134.1h0M529.5,130.9h0M666.8,128.1h0M514.6,133.2h0M617.1,130.2h0M647.2,130.0h0M501.9,132.2h0M502.6,131.8h0M519.8,131.7h0M641.6,129.9h0M624.9,130.6h0M594.4,127.0h0M668.0,128.7h0M632.9,128.6h0M580.8,129.8h0M602.7,127.6h0M520.4,130.9h0M616.8,133.2h0M577.1,131.4h0M638.1,126.8h0M567.0,134.9h0M559.9,132.8h0M511.3,131.1h0M523.8,132.3h0M631.0,131.7h0M549.0,129.2h0M499.4,134.7h0M581.9,132.1h0M628.5,130.7h0M615.5,130.2h0M506.3,133.4h0M556.1,134.3h0M503.9,134.1h0M579.7,134.4h0M505.3,129.3h0M579.7,130.1h0M610.0,134.0h0M659.0,133.5h0M624.1,128.9h0M636.5,132.5h0M593.0,131.2h0M648.8,130.7h0M526.9,133.7h0M630.3,128.9h0M624.7,131.6h0M518.1,132.0h0M584.3,131.9h0M561.2,131.4h0M603.4,130.9h0M620.4,127.4h0M603.9,128.3h0M667.1,128.3h0M569.3,133.6h0M610.7,128.6h0M637.4,131.8h0M645.0,128.4h0M552.6,134.0h0M637.1,131.8h0M517.9,130.2h0M609.1,130.4h0M630.2,129.4h0M651.0,129.4h0M548.3,133.8h0M546.1,131.9h0M637.8,129.8h0M530.9,131.9h0M602.9,130.5h0M576.7,130.2h0M571.1,130.9h0M667.5,127.8h0M597.9,133.7h0M638.8,132.5h0M513.6,132.4h0M524.8,133.7h0M664.8,130.6h0M610.4,126.3h0M525.1,131.7h0M569.8,128.9h0M597.1,130.0h0M641.8,131.4h0M525.5,131.7h0M551.6,130.0h0M546.3,132.8h0M555.4,138.9h0M513.7,128.1h0M509.5,130.8h0M614.1,133.1h0M588.5,131.5h0M615.6,131.8h0M521.5,131.9h0M497.9,134.1h0M643.6,129.7h0M668.4,131.4h0M629.7,131.9h0M518.5,126.8h0M537.9,135.1h0M519.7,128.5h0M539.6,129.8h0M573.9,129.3h0M579.3,130.0h0M621.9,131.3h0M596.6,130.7h0M560.3,132.7h0M511.3,126.9h0M502.7,133.6h0M561.9,131.8h0M644.2,131.6h0M528.3,131.5h0M537.8,131.8h0M635.8,131.3h0M632.0,130.7h0M550.4,130.3h0M636.3,130.8h0M639.2,132.7h0M661.6,129.5h0M670.9,131.6h0M550.4,135.5h0M644.3,130.0h0M648.8,129.5h0M506.3,130.9h0M662.4,132.4h0M640.8,131.8h0M557.0,132.8h0M508.4,133.2h0M567.4,132.7h0M548.3,135.0h0M583.4,131.6h0M544.6,133.5h0M517.5,131.6h0M581.5,135.5h0M575.1,132.3h0M501.6,134.3h0M583.7,133.3h0M628.9,126.4h0M653.8,130.7h0M615.3,127.3h0M589.3,131.4h0M647.6,133.8h0M602.1,131.1h0M506.1,129.4h0M526.2,131.5h0M522.7,131.1h0M551.1,129.8h0M498.6,132.2h0M633.4,133.3h0M511.6,130.3h0M661.0,127.7h0M503.3,129.6h0M652.3,131.0h0M519.1,129.5h0M516.6,131.6h0M569.2,129.9h0M661.9,131.2h0M656.2,131.5h0M577.9,130.3h0M603.5,126.3h0M500.8,136.6h0M534.0,131.0h0M538.9,127.8h0M635.0,131.4h0M666.6,129.7h0M622.8,126.5h0M586.5,131.6h0M589.3,129.9h0M523.1,129.6h0M534.4,132.2h0M659.3,135.8h0M645.9,131.7h0M625.5,127.5h0M644.0,131.2h0M582.8,131.5h0M670.8,127.7h0M618.8,130.7h0M609.3,133.7h0M637.9,132.1h0M533.3,128.5h0M516.4,136.1h0M540.3,131.9h0M619.1,131.1h0M615.8,133.7h0M625.5,130.3h0M559.4,131.8h0M506.9,131.9h0M656.8,129.5h0M665.3,128.3h0M670.7,130.2h0M609.1,129.8h0M604.5,129.8h0M606.7,130.0h0M601.2,132.1h0M578.3,128.8h0M566.8,133.9h0M671.1,130.6h0M545.5,131.6h0M566.5,131.3h0M602.0,126.8h0M668.4,132.3h0M590.3,130.8h0M654.1,131.1h0M582.9,129.7h0M508.8,131.0h0M547.2,133.3h0M601.5,126.9h0M627.1,130.9h0M644.4,130.9h0M633.1,131.5h0M603.2,132.1h0M666.9,129.1h0M564.7,132.0h0M614.5,129.6h0M603.6,131.3h0M613.7,134.8h0M658.7,127.4h0M641.6,132.7h0M514.8,132.5h0M519.6,135.9h0M508.0,128.8h0M640.6,128.2h0M619.9,129.7h0M589.5,133.5h0M623.6,128.4h0M555.0,132.5h0M589.4,128.2h0M547.7,133.4h0M561.6,131.0h0M497.6,135.0h0M600.5,129.3h0M526.0,133.8h0M664.6,131.6h0M538.2,131.8h0M583.8,132.3h0M561.8,133.8h0M590.6,130.2h0M502.6,128.3h0M620.3,127.1h0M617.6,131.3h0M524.7,128.3h0M657.6,133.0h0M561.9,131.0h0M509.1,131.0h0M559.3,132.8h0M559.7,132.8h0M612.5,131.7h0M590.9,132.7h0M543.3,132.6h0M540.1,133.6h0M591.3,132.9h0M663.3,130.3h0M581.7,130.0h0M594.2,133.1h0M506.1,132.9h0M661.1,133.2h0M669.7,127.2h0M624.5,134.4h0M512.0,130.6h0M603.5,129.0h0M521.4,131.2h0M601.3,127.8h0M521.4,128.2h0M522.6,130.6h0M616.7,129.7h0M582.9,134.5h0M638.4,128.3h0M557.8,135.4h0M670.0,131.7h0M572.8,135.4h0M651.8,126.9h0M544.9,131.3h0M664.1,130.3h0M522.9,130.4h0M511.4,130.8h0M640.5,130.1h0M574.6,127.9h0M635.5,128.3h0M577.6,130.7h0M518.4,132.9h0M642.2,131.5h0M649.1,129.6h0M644.3,130.2h0M610.5,129.3h0M572.9,131.4h0M662.5,129.5h0M595.2,129.6h0M660.3,131.2h0M502.4,132.8h0M649.9,130.9h0M540.5,132.0h0M657.0,130.8h0M548.1,130.4h0M542.6,133.8h0M557.9,130.0h0M599.3,130.0h0M517.2,133.9h0M604.2,130.0h0M522.2,132.0h0M545.2,128.9h0M643.5,134.0h0M603.0,132.5h0M554.1,131.1h0M597.1,130.3h0M623.5,132.6h0M502.3,130.0h0M593.1,132.1h0M603.4,127.1h0M594.1,129.5h0M519.0,127.2h0M548.7,133.6h0M588.1,129.7h0M512.3,131.5h0M546.2,132.3h0M589.0,132.1h0M609.9,127.5h0M604.6,128.3h0M578.6,131.0h0M599.9,128.8h0M605.3,126.6h0M562.6,131.2h0M625.9,129.6h0M669.3,129.3h0M671.6,129.0h0M500.4,130.2h0M623.1,127.1h0M627.3,127.5h0M608.4,126.9h0M513.2,130.2h0M620.5,124.9h0M526.5,133.5h0M560.1,134.3h0M622.0,133.3h0M587.9,131.8h0M498.4,131.7h0M656.4,128.1h0M526.1,132.1h0M574.6,132.5h0M579.9,130.8h0M636.1,128.8h0M602.2,129.0h0M593.2,131.0h0M582.7,130.8h0M525.3,131.4h0M602.6,132.1h0M605.9,126.3h0M538.9,132.2h0M593.0,129.8h0M573.8,133.1h0M542.2,132.8h0M574.1,130.6h0M598.5,127.7h0M663.6,130.4h0M513.6,131.4h0M640.6,130.4h0M502.5,132.5h0M500.9,133.6h0M499.6,133.3h0M666.9,131.2h0M647.0,127.0h0M539.4,129.3h0M581.3,134.9h0M532.4,134.3h0M638.3,129.9h0M539.6,134.3h0M585.9,130.5h0M600.0,128.8h0M671.6,127.1h0M586.6,136.8h0M512.3,130.5h0M512.1,130.4h0M531.7,131.0h0M523.2,134.5h0M671.5,128.9h0M620.4,128.2h0M634.9,130.2h0M519.9,134.5h0M529.7,129.7h0M573.2,131.2h0M662.7,127.5h0M567.3,133.1h0M612.7,132.4h0M589.3,129.4h0M565.9,132.2h0M587.0,130.8h0M625.5,129.8h0M601.9,132.1h0M617.1,126.5h0M515.8,132.6h0M541.7,130.3h0M626.7,134.5h0M607.6,130.8h0M501.7,132.5h0M666.2,130.5h0M613.4,129.9h0M631.6,131.4h0M631.7,130.6h0M586.3,131.9h0M529.8,128.7h0M530.3,128.6h0M608.7,129.4h0M610.4,126.5h0M651.5,132.8h0M642.3,130.9h0M540.7,128.7h0M613.1,129.7h0M603.7,132.7h0M539.3,130.6h0M553.2,135.1h0M575.8,129.2h0M631.7,131.2h0M624.4,131.9h0M611.4,129.3h0M642.5,128.3h0M561.1,133.5h0M546.1,127.1h0M655.4,131.6h0M635.8,130.1h0M509.4,131.6h0M661.7,129.1h0M528.6,127.9h0M513.9,129.4h0M548.0,133.6h0M522.1,131.0h0M600.0,130.8h0M570.9,134.9h0M650.3,129.5h0M548.5,129.5h0M616.3,128.8h0M662.7,129.5h0M607.3,130.1h0M593.9,130.4h0M559.0,134.5h0M523.5,131.1h0M589.3,131.8h0M567.9,134.3h0M547.5,130.4h0M558.3,133.0h0M616.9,128.4h0M625.4,130.9h0M556.0,133.8h0M525.5,130.4h0M559.3,132.7h0M572.3,136.0h0M644.6,129.9h0M660.2,128.5h0M561.2,133.6h0M606.3,133.2h0M571.4,132.1h0M644.7,129.8h0M538.5,130.8h0M569.8,134.1h0M551.7,131.5h0M558.4,132.3h0M662.0,133.3h0M555.0,131.8h0M615.4,127.4h0M506.2,132.0h0M547.6,133.5h0M502.0,128.2h0M513.9,130.6h0M511.3,132.6h0M634.8,131.9h0M589.0,130.5h0M565.6,132.5h0M515.9,128.8h0M510.4,132.2h0M661.6,133.3h0M602.6,130.0h0M527.5,129.8h0M504.8,129.7h0M517.1,131.2h0M634.2,127.9h0M548.2,131.9h0M503.8,131.5h0M651.1,126.2h0M616.7,128.4h0M573.8,130.3h0M557.5,130.9h0M533.8,129.3h0M507.0,131.4h0M622.6,130.9h0M604.1,131.9h0M632.3,132.0h0M629.5,129.6h0M579.4,131.2h0M648.1,133.2h0M618.4,132.3h0M605.1,131.3h0M586.8,129.9h0M636.5,130.9h0M504.1,128.6h0M528.9,128.7h0M529.2,129.0h0M544.1,131.7h0M526.7,134.0h0M541.4,132.5h0M571.5,127.5h0M578.9,132.8h0M627.0,129.6h0M628.3,130.6h0M517.9,131.0h0M606.2,128.6h0M510.5,129.0h0M504.2,133.8h0M646.6,129.6h0M643.9,129.5h0M620.1,130.6h0M527.6,134.4h0M664.9,131.9h0M630.8,130.3h0M510.7,134.4h0M596.5,126.1h0M626.9,127.6h0M585.4,128.1h0M578.2,128.9h0M600.2,131.1h0M544.9,135.2h0M502.4,129.0h0M605.9,132.3h0M630.3,129.3h0M614.1,128.4h0M560.9,132.7h0M594.0,130.2h0M629.3,130.5h0M635.0,131.7h0M549.4,132.7h0M533.2,133.6h0M502.4,131.7h0M603.2,129.2h0M588.9,130.7h0M536.4,132.8h0M599.9,132.0h0M545.7,130.7h0M533.1,130.4h0M626.2,130.6h0M670.0,128.2h0M560.2,131.9h0M528.4,134.0h0M611.3,126.3h0M590.4,133.7h0M553.5,133.1h0M549.6,132.4h0M668.9,128.1h0M666.9,133.0h0M580.2,131.2h0M556.6,131.8h0M511.2,131.9h0M662.3,131.2h0M590.3,133.7h0M634.3,132.0h0M596.5,130.9h0M573.0,132.8h0M664.4,134.0h0M515.5,132.1h0M535.8,129.3h0M558.6,130.7h0M619.1,127.8h0M510.7,133.1h0M559.2,134.7h0M577.6,130.5h0M587.4,131.9h0M591.6,131.1h0M599.5,129.0h0M644.6,133.5h0M527.7,130.5h0M657.1,133.6h0M569.3,134.0h0M530.1,132.2h0M593.1,129.9h0M603.1,129.1h0M502.2,130.1h0M647.1,126.9h0M551.6,129.9h0M594.2,128.9h0M539.1,132.2h0M512.5,131.4h0M665.2,133.9h0M498.4,135.8h0M560.6,131.9h0M500.4,132.3h0M581.7,131.9h0M584.8,135.7h0M559.2,132.3h0M626.9,126.4h0M527.7,130.3h0M541.5,132.2h0M638.9,126.8h0M618.6,127.1h0M618.3,132.0h0M593.6,129.2h0M662.1,130.4h0M551.9,133.3h0M608.7,131.1h0M566.7,132.1h0M579.6,133.8h0M513.5,133.0h0M604.8,128.1h0M670.5,129.0h0M573.5,133.0h0M672.0,127.7h0M534.5,131.9h0M537.0,135.2h0M653.1,130.3h0M659.1,128.2h0M666.4,130.0h0M548.8,134.7h0M655.8,132.2h0M607.0,124.5h0M664.8,130.5h0M527.7,129.6h0M597.2,129.8h0M617.4,130.7h0M519.0,125.5h0M591.0,130.2h0M501.5,133.9h0M557.4,129.7h0M662.0,131.6h0M664.1,131.1h0M530.4,127.9h0M612.9,130.6h0M532.3,128.6h0M513.3,129.4h0M569.9,131.4h0M610.3,130.8h0M608.4,130.7h0M561.3,131.7h0M602.1,126.7h0M521.4,128.1h0M512.3,129.8h0M559.6,131.7h0M652.8,131.9h0M507.4,132.4h0M622.8,131.8h0M590.2,132.6h0M546.7,129.6h0M659.6,131.6h0M558.7,133.0h0M534.5,134.6h0M571.0,133.1h0M579.9,129.6h0M542.1,129.1h0M576.9,133.4h0M548.3,131.3h0M504.5,132.5h0M543.5,133.4h0M652.8,134.2h0M530.3,130.4h0M643.4,132.7h0M500.4,133.4h0M498.5,132.0h0M519.8,132.0h0M528.0,130.2h0M517.1,129.7h0M671.4,131.0h0M626.3,126.5h0M608.6,134.1h0M505.9,129.1h0M672.1,129.8h0M539.8,134.4h0M533.8,131.1h0M636.6,130.1h0M661.3,127.9h0M632.4,127.8h0M658.1,130.3h0M566.4,132.9h0M553.5,131.2h0M567.6,137.3h0M581.3,131.5h0M543.4,132.1h0M572.2,130.3h0M519.5,129.2h0M568.6,133.8h0M542.2,131.8h0M592.8,129.8h0M640.0,131.2h0M665.2,130.0h0M635.7,129.7h0M552.2,129.6h0M634.4,130.8h0M620.9,129.5h0M501.1,134.3h0M555.6,130.0h0M639.6,133.0h0M578.4,133.3h0M607.9,130.8h0M548.5,131.1h0M629.4,134.3h0M668.1,130.4h0M626.4,131.6h0M515.8,132.2h0M562.6,132.2h0M556.3,133.0h0M608.4,128.7h0M617.8,130.2h0M584.0,129.1h0M507.1,131.2h0M636.4,129.5h0M549.2,133.7h0M514.1,128.1h0M625.0,128.7h0M606.4,131.2h0M604.4,131.0h0M503.9,127.5h0M533.8,130.4h0M538.0,132.2h0M651.7,131.2h0M600.6,132.8h0M564.1,129.4h0M662.3,129.0h0M513.3,128.9h0M537.8,129.6h0M656.8,132.3h0M514.9,128.0h0M637.3,133.5h0M559.4,132.7h0M602.3,128.4h0M502.5,127.8h0M546.1,136.4h0M600.6,129.3h0M565.6,130.0h0M548.4,132.4h0M517.9,134.1h0M670.6,131.1h0M533.5,128.5h0M500.5,131.1h0M518.5,131.0h0M580.6,131.6h0M663.6,131.6h0M657.3,131.7h0M500.1,132.6h0M611.0,134.2h0M553.0,131.1h0M661.3,135.1h0M635.1,127.0h0M571.4,127.8h0M501.9,129.5h0M649.8,130.1h0M629.7,127.7h0M620.2,129.9h0M573.0,131.7h0M499.6,130.9h0M612.5,131.2h0M611.1,130.5h0M567.6,131.6h0M626.6,133.9h0M626.8,129.6h0M588.4,129.2h0M524.9,127.6h0M621.1,130.2h0M629.9,128.8h0M524.5,129.6h0M656.3,128.5h0M643.2,131.5h0M593.6,130.2h0M575.1,130.5h0M553.4,132.9h0M503.4,131.7h0M663.6,130.5h0M600.8,129.5h0M583.8,131.6h0M503.6,132.2h0M501.5,132.8h0M563.5,129.2h0M539.4,134.2h0M559.9,132.5h0M579.6,128.6h0M577.8,128.7h0M588.3,129.9h0M616.5,130.0h0M663.9,131.8h0M651.3,133.8h0M627.8,129.2h0M664.1,127.9h0M607.6,129.8h0M596.9,127.6h0M533.5,132.7h0M542.2,134.0h0M666.2,130.1h0M647.7,129.6h0M512.1,131.1h0M576.3,126.2h0M526.4,131.9h0M616.4,127.6h0M569.1,131.8h0M601.1,132.3h0M599.4,130.9h0M630.6,133.2h0M586.2,130.3h0M625.2,130.4h0M543.7,133.7h0M593.0,131.0h0M553.9,132.1h0M610.8,125.7h0M562.2,129.6h0M594.4,129.9h0M510.5,135.6h0M656.7,133.1h0M586.8,128.1h0M526.3,127.6h0M669.2,131.9h0M592.5,128.9h0M643.1,129.4h0M655.2,130.0h0M571.2,130.3h0M585.7,128.0h0M581.5,128.1h0M622.5,129.3h0M546.3,131.2h0M526.6,130.7h0M596.4,131.8h0M609.6,127.7h0M572.3,129.2h0M533.6,131.5h0M508.8,126.7h0M536.6,133.4h0M528.8,133.3h0M591.3,128.4h0M633.4,129.6h0M620.9,130.8h0M517.1,129.0h0M576.6,131.1h0M548.0,130.7h0M579.4,132.6h0M608.4,129.6h0M557.5,135.2h0M598.6,133.5h0M661.2,133.2h0M590.4,132.7h0M663.8,127.2h0M538.7,133.1h0M562.1,133.7h0M589.7,131.2h0M550.7,129.9h0M588.1,131.3h0M597.8,130.1h0M662.4,128.6h0M550.6,130.3h0M648.0,131.7h0M593.1,129.7h0M520.6,130.4h0M625.2,132.7h0M577.7,127.9h0M562.9,134.4h0M509.1,130.4h0M619.3,130.9h0M630.4,128.0h0M621.4,128.7h0M645.2,130.5h0M538.5,131.7h0M550.3,131.5h0M564.4,130.1h0M612.5,129.0h0M532.1,131.5h0M585.6,132.9h0M669.3,130.5h0M498.6,133.4h0M504.0,129.2h0M670.8,129.0h0M500.4,132.7h0M626.8,130.8h0M651.9,131.5h0M590.6,132.0h0M551.4,134.4h0M597.9,128.6h0M596.0,130.7h0M551.3,132.0h0M632.4,129.4h0M651.1,129.9h0M500.7,128.3h0M586.0,128.6h0M596.6,132.6h0M578.9,130.1h0M632.0,128.3h0M668.7,130.5h0M509.8,129.1h0M547.0,131.7h0M581.9,132.1h0M593.0,129.2h0M573.4,134.3h0M561.0,131.3h0M544.7,130.4h0M561.3,132.7h0M613.6,133.3h0M544.9,134.3h0M548.4,131.7h0M504.7,129.7h0M651.8,130.2h0M560.5,130.8h0M545.5,129.1h0M542.2,131.1h0M596.6,131.9h0M659.2,129.2h0M568.4,134.6h0M633.5,129.6h0M588.1,130.1h0M498.9,130.4h0M641.6,130.0h0M516.2,125.7h0M658.7,134.0h0M523.2,133.7h0M625.5,129.5h0M530.4,130.9h0M591.2,132.7h0M656.0,131.0h0M623.1,134.5h0M611.3,129.8h0M595.2,131.5h0M519.1,132.0h0M660.5,129.8h0M558.5,132.8h0M561.3,134.0h0M593.1,127.3h0M518.9,132.6h0M508.0,130.3h0M669.0,130.2h0M579.4,130.5h0M535.6,133.7h0M628.1,133.0h0M567.6,130.5h0M572.8,131.4h0M548.5,131.4h0M534.9,132.0h0M571.6,128.9h0M669.8,133.4h0M642.7,129.6h0M559.7,133.4h0M520.2,129.7h0M541.7,128.9h0M557.4,130.6h0M657.4,130.7h0M571.7,133.8h0M590.9,129.5h0M623.4,128.6h0M513.5,129.5h0M623.6,129.2h0M505.1,129.1h0M648.9,128.0h0M585.2,132.9h0M582.2,133.1h0M526.2,132.8h0M643.5,134.5h0M561.0,132.5h0M597.8,130.0h0M653.1,131.9h0M623.0,128.7h0M525.6,128.3h0M645.0,133.0h0M658.1,131.1h0M536.8,133.6h0M579.2,132.4h0M508.2,128.8h0M530.4,134.2h0M661.6,132.2h0M561.8,130.7h0M656.4,134.6h0M517.9,129.9h0M526.7,131.0h0M612.6,127.8h0M652.8,132.0h0M505.7,134.0h0M551.5,132.6h0M526.4,127.8h0M562.8,131.6h0M498.4,132.9h0M520.7,130.4h0M661.7,132.3h0M572.6,133.4h0M608.7,129.7h0M624.1,126.6h0M663.4,130.6h0M637.6,125.9h0M663.8,129.6h0M663.8,129.8h0M593.6,132.7h0M645.7,131.9h0M568.2,134.9h0M656.6,134.0h0M511.9,130.9h0M555.0,133.8h0M569.7,133.0h0M520.5,133.5h0M576.0,130.9h0M582.3,132.8h0M607.3,132.8h0M640.0,128.0h0M561.7,131.6h0M576.5,132.9h0M642.0,127.7h0M588.2,131.6h0M605.1,131.4h0M652.2,130.1h0M512.3,131.1h0M528.2,130.9h0M560.3,133.3h0M634.7,131.2h0M582.2,133.5h0M596.6,129.4h0M584.5,133.8h0M621.9,134.0h0M639.2,126.9h0M637.4,130.7h0M573.6,133.1h0M627.8,130.9h0M530.6,132.5h0M544.1,132.4h0M617.1,127.8h0M533.7,130.8h0M633.6,129.0h0M569.8,134.0h0M560.6,133.9h0M575.3,131.2h0M515.9,131.0h0M524.4,131.6h0M611.5,130.7h0M552.5,131.7h0M520.6,133.5h0M607.0,129.3h0M514.6,134.0h0M647.4,130.3h0M607.9,129.7h0M643.0,132.9h0M530.4,131.4h0M593.0,132.9h0M616.7,132.1h0M609.2,130.5h0M645.6,130.7h0M659.8,131.2h0M499.8,130.7h0M534.0,132.0h0M666.4,133.0h0M616.8,127.0h0M584.2,134.8h0M595.8,129.2h0M607.4,130.2h0M670.4,127.3h0M560.3,132.9h0M542.7,137.9h0M623.2,129.6h0M632.5,131.5h0M611.9,128.0h0M505.4,132.3h0M647.2,132.9h0M526.8,130.1h0M583.0,131.9h0M515.9,132.1h0M528.2,133.2h0M596.2,135.2h0M512.9,129.9h0M544.9,131.7h0M612.3,130.5h0M537.8,134.1h0M540.4,131.6h0M623.2,128.8h0M501.7,131.5h0M634.2,131.2h0M666.7,131.5h0M570.2,131.4h0M509.7,131.0h0M553.8,134.3h0M555.0,132.1h0M525.8,129.9h0M537.5,134.4h0M635.2,129.7h0M667.0,132.2h0M509.5,132.9h0M547.8,129.1h0M580.7,134.0h0M529.0,136.4h0M670.1,130.4h0M534.9,131.1h0M665.3,132.9h0M502.6,133.4h0M552.3,129.6h0M607.0,132.3h0M606.3,132.0h0M611.0,132.7h0M668.3,132.1h0M499.6,128.8h0M508.6,133.8h0M575.3,132.5h0M500.8,132.6h0M544.5,133.5h0M672.3,131.8h0M526.1,131.0h0M585.0,129.7h0M637.9,133.5h0M607.5,130.7h0M665.2,131.2h0M614.0,129.9h0M533.3,127.4h0M618.7,127.7h0M609.1,132.2h0M574.1,127.7h0M634.4,127.5h0M528.4,130.9h0M652.9,130.0h0M621.1,126.4h0M561.8,127.8h0M544.1,133.5h0M643.6,129.5h0M529.6,128.0h0M595.0,125.4h0M623.4,128.2h0M607.0,131.1h0M635.1,133.4h0M649.4,131.6h0M559.7,133.3h0M668.7,131.4h0M501.6,134.1h0M594.1,130.6h0M644.0,134.0h0M579.7,135.4h0M539.2,132.3h0M542.5,133.3h0M516.8,135.0h0M576.5,133.5h0M669.6,134.1h0M547.9,132.3h0M577.1,130.9h0M509.1,128.7h0M545.4,129.8h0M519.9,131.3h0M507.0,128.2h0M532.0,127.2h0M584.0,130.5h0M550.9,135.6h0M539.8,133.7h0M583.1,130.2h0M559.4,130.5h0M501.8,131.4h0M517.6,128.6h0M650.1,131.1h0M575.3,130.7h0M563.8,135.9h0M639.6,130.2h0M643.8,126.0h0M592.7,127.2h0M663.0,132.0h0M561.7,130.1h0M646.8,130.1h0M561.7,131.0h0M606.1,132.5h0M614.9,131.9h0M625.1,129.9h0M536.9,136.3h0M641.0,128.1h0M530.3,131.8h0M558.7,134.6h0M642.8,131.0h0M584.9,131.3h0M648.2,130.6h0M660.4,131.1h0M613.1,134.4h0M668.5,131.0h0M560.3,133.2h0M590.9,132.9h0M535.9,132.4h0M580.0,132.7h0M544.9,132.3h0M538.6,134.9h0M570.0,132.8h0M540.4,132.0h0M638.4,127.8h0M627.3,130.2h0M667.2,133.2h0M518.3,133.2h0M520.1,131.9h0M635.1,131.4h0M593.6,130.5h0M577.8,128.9h0" fill="none" stroke="#85a8f0" stroke-width="1.5" stroke-linecap="round"/>
<rect x="556.95" y="37" width="0.9" height="82" fill="url(#grb)"/>
<polygon points="557.4,35.2 555.3,39.6 559.5,39.6" fill="#ef7070" stroke="none" stroke-width="0" />
<polygon points="557.4,121 555.3,116.6 559.5,116.6" fill="#6e95ee" stroke="none" stroke-width="0" />
<text x="510.4" y="81.3" font-size="8.6" fill="#1a1a1a">RR = ~10<tspan font-size="5.6" dy="-3.3">8</tspan></text>
<text x="589.6" y="55.9" font-size="8.6" fill="#1a1a1a">@V<tspan font-size="5.6" dy="2.3">write</tspan><tspan dy="-2.3"> = 2 V, 1 ms</tspan></text>
<text x="585.6" y="88.0" font-size="8.6" fill="#1a1a1a">@V<tspan font-size="5.6" dy="2.3">erase</tspan><tspan dy="-2.3"> = -2 V, 1 ms</tspan></text>
<path d="M585.11,67 L588.03,67 L588.03,58.5 L593.43,58.5 L593.43,67 L596.35,67 L596.35,75.3 L602.19,75.3 L602.19,67 L605.11,67 L605.11,58.5 L610.66,58.5 L610.66,67 L613.87,67 L613.87,75.3 L619.42,75.3 L619.42,67 L622.34,67" fill="none" stroke="#555" stroke-width="0.8" />
<path d="M631.09,67 L634.01,67 L634.01,58.5 L639.85,58.5 L639.85,67 L643.07,67 L643.07,75.3 L648.61,75.3 L648.61,67 L651.53,67 L651.53,58.5 L656.93,58.5 L656.93,67 L660.29,67 L660.29,75.3 L665.84,75.3 L665.84,67 L668.76,67" fill="none" stroke="#555" stroke-width="0.8" />
<circle cx="623.5" cy="66.3" r="0.35" fill="#555" stroke="none" stroke-width="0" />
<circle cx="624.67" cy="66.3" r="0.35" fill="#555" stroke="none" stroke-width="0" />
<circle cx="625.84" cy="66.3" r="0.35" fill="#555" stroke="none" stroke-width="0" />
<circle cx="627.01" cy="66.3" r="0.35" fill="#555" stroke="none" stroke-width="0" />
<circle cx="628.18" cy="66.3" r="0.35" fill="#555" stroke="none" stroke-width="0" />
<circle cx="629.34" cy="66.3" r="0.35" fill="#555" stroke="none" stroke-width="0" />
<circle cx="592.7" cy="104.1" r="0.9" fill="#6e95ee" stroke="none" stroke-width="0" />
<circle cx="592.7" cy="113.5" r="0.9" fill="#ef7070" stroke="none" stroke-width="0" />
<text x="604.4" y="106.9" font-size="8.0" text-anchor="start" fill="#1a1a1a" font-weight="normal" >Negative Current</text>
<text x="604.4" y="116.3" font-size="8.0" text-anchor="start" fill="#1a1a1a" font-weight="normal" >Positive Current</text>
<line x1="497.4" y1="10.6" x2="672.5" y2="10.6" stroke="#444" stroke-width="1" />
<line x1="672.5" y1="10.6" x2="672.5" y2="151.4" stroke="#444" stroke-width="1" />
<line x1="497.4" y1="10.1" x2="497.4" y2="151.9" stroke="#222" stroke-width="1.1" />
<line x1="496.9" y1="151.4" x2="673" y2="151.4" stroke="#222" stroke-width="1.1" />
<line x1="494.6" y1="144.41" x2="497.4" y2="144.41" stroke="#222" stroke-width="1" />
<line x1="494.6" y1="131.62" x2="497.4" y2="131.62" stroke="#222" stroke-width="1" />
<line x1="494.6" y1="118.83" x2="497.4" y2="118.83" stroke="#222" stroke-width="1" />
<line x1="494.6" y1="106.04" x2="497.4" y2="106.04" stroke="#222" stroke-width="1" />
<line x1="494.6" y1="93.25" x2="497.4" y2="93.25" stroke="#222" stroke-width="1" />
<line x1="494.6" y1="80.46" x2="497.4" y2="80.46" stroke="#222" stroke-width="1" />
<line x1="494.6" y1="67.67" x2="497.4" y2="67.67" stroke="#222" stroke-width="1" />
<line x1="494.6" y1="54.88" x2="497.4" y2="54.88" stroke="#222" stroke-width="1" />
<line x1="494.6" y1="42.09" x2="497.4" y2="42.09" stroke="#222" stroke-width="1" />
<line x1="494.6" y1="29.3" x2="497.4" y2="29.3" stroke="#222" stroke-width="1" />
<line x1="494.6" y1="16.51" x2="497.4" y2="16.51" stroke="#222" stroke-width="1" />
<line x1="495.9" y1="151.1" x2="497.4" y2="151.1" stroke="#222" stroke-width="0.7" />
<line x1="495.9" y1="149.5" x2="497.4" y2="149.5" stroke="#222" stroke-width="0.7" />
<line x1="495.9" y1="148.26" x2="497.4" y2="148.26" stroke="#222" stroke-width="0.7" />
<line x1="495.9" y1="147.25" x2="497.4" y2="147.25" stroke="#222" stroke-width="0.7" />
<line x1="495.9" y1="146.39" x2="497.4" y2="146.39" stroke="#222" stroke-width="0.7" />
<line x1="495.9" y1="145.65" x2="497.4" y2="145.65" stroke="#222" stroke-width="0.7" />
<line x1="495.9" y1="145" x2="497.4" y2="145" stroke="#222" stroke-width="0.7" />
<line x1="495.9" y1="140.56" x2="497.4" y2="140.56" stroke="#222" stroke-width="0.7" />
<line x1="495.9" y1="138.31" x2="497.4" y2="138.31" stroke="#222" stroke-width="0.7" />
<line x1="495.9" y1="136.71" x2="497.4" y2="136.71" stroke="#222" stroke-width="0.7" />
<line x1="495.9" y1="135.47" x2="497.4" y2="135.47" stroke="#222" stroke-width="0.7" />
<line x1="495.9" y1="134.46" x2="497.4" y2="134.46" stroke="#222" stroke-width="0.7" />
<line x1="495.9" y1="133.6" x2="497.4" y2="133.6" stroke="#222" stroke-width="0.7" />
<line x1="495.9" y1="132.86" x2="497.4" y2="132.86" stroke="#222" stroke-width="0.7" />
<line x1="495.9" y1="132.21" x2="497.4" y2="132.21" stroke="#222" stroke-width="0.7" />
<line x1="495.9" y1="127.77" x2="497.4" y2="127.77" stroke="#222" stroke-width="0.7" />
<line x1="495.9" y1="125.52" x2="497.4" y2="125.52" stroke="#222" stroke-width="0.7" />
<line x1="495.9" y1="123.92" x2="497.4" y2="123.92" stroke="#222" stroke-width="0.7" />
<line x1="495.9" y1="122.68" x2="497.4" y2="122.68" stroke="#222" stroke-width="0.7" />
<line x1="495.9" y1="121.67" x2="497.4" y2="121.67" stroke="#222" stroke-width="0.7" />
<line x1="495.9" y1="120.81" x2="497.4" y2="120.81" stroke="#222" stroke-width="0.7" />
<line x1="495.9" y1="120.07" x2="497.4" y2="120.07" stroke="#222" stroke-width="0.7" />
<line x1="495.9" y1="119.42" x2="497.4" y2="119.42" stroke="#222" stroke-width="0.7" />
<line x1="495.9" y1="114.98" x2="497.4" y2="114.98" stroke="#222" stroke-width="0.7" />
<line x1="495.9" y1="112.73" x2="497.4" y2="112.73" stroke="#222" stroke-width="0.7" />
<line x1="495.9" y1="111.13" x2="497.4" y2="111.13" stroke="#222" stroke-width="0.7" />
<line x1="495.9" y1="109.89" x2="497.4" y2="109.89" stroke="#222" stroke-width="0.7" />
<line x1="495.9" y1="108.88" x2="497.4" y2="108.88" stroke="#222" stroke-width="0.7" />
<line x1="495.9" y1="108.02" x2="497.4" y2="108.02" stroke="#222" stroke-width="0.7" />
<line x1="495.9" y1="107.28" x2="497.4" y2="107.28" stroke="#222" stroke-width="0.7" />
<line x1="495.9" y1="106.63" x2="497.4" y2="106.63" stroke="#222" stroke-width="0.7" />
<line x1="495.9" y1="102.19" x2="497.4" y2="102.19" stroke="#222" stroke-width="0.7" />
<line x1="495.9" y1="99.94" x2="497.4" y2="99.94" stroke="#222" stroke-width="0.7" />
<line x1="495.9" y1="98.34" x2="497.4" y2="98.34" stroke="#222" stroke-width="0.7" />
<line x1="495.9" y1="97.1" x2="497.4" y2="97.1" stroke="#222" stroke-width="0.7" />
<line x1="495.9" y1="96.09" x2="497.4" y2="96.09" stroke="#222" stroke-width="0.7" />
<line x1="495.9" y1="95.23" x2="497.4" y2="95.23" stroke="#222" stroke-width="0.7" />
<line x1="495.9" y1="94.49" x2="497.4" y2="94.49" stroke="#222" stroke-width="0.7" />
<line x1="495.9" y1="93.84" x2="497.4" y2="93.84" stroke="#222" stroke-width="0.7" />
<line x1="495.9" y1="89.4" x2="497.4" y2="89.4" stroke="#222" stroke-width="0.7" />
<line x1="495.9" y1="87.15" x2="497.4" y2="87.15" stroke="#222" stroke-width="0.7" />
<line x1="495.9" y1="85.55" x2="497.4" y2="85.55" stroke="#222" stroke-width="0.7" />
<line x1="495.9" y1="84.31" x2="497.4" y2="84.31" stroke="#222" stroke-width="0.7" />
<line x1="495.9" y1="83.3" x2="497.4" y2="83.3" stroke="#222" stroke-width="0.7" />
<line x1="495.9" y1="82.44" x2="497.4" y2="82.44" stroke="#222" stroke-width="0.7" />
<line x1="495.9" y1="81.7" x2="497.4" y2="81.7" stroke="#222" stroke-width="0.7" />
<line x1="495.9" y1="81.05" x2="497.4" y2="81.05" stroke="#222" stroke-width="0.7" />
<line x1="495.9" y1="76.61" x2="497.4" y2="76.61" stroke="#222" stroke-width="0.7" />
<line x1="495.9" y1="74.36" x2="497.4" y2="74.36" stroke="#222" stroke-width="0.7" />
<line x1="495.9" y1="72.76" x2="497.4" y2="72.76" stroke="#222" stroke-width="0.7" />
<line x1="495.9" y1="71.52" x2="497.4" y2="71.52" stroke="#222" stroke-width="0.7" />
<line x1="495.9" y1="70.51" x2="497.4" y2="70.51" stroke="#222" stroke-width="0.7" />
<line x1="495.9" y1="69.65" x2="497.4" y2="69.65" stroke="#222" stroke-width="0.7" />
<line x1="495.9" y1="68.91" x2="497.4" y2="68.91" stroke="#222" stroke-width="0.7" />
<line x1="495.9" y1="68.26" x2="497.4" y2="68.26" stroke="#222" stroke-width="0.7" />
<line x1="495.9" y1="63.82" x2="497.4" y2="63.82" stroke="#222" stroke-width="0.7" />
<line x1="495.9" y1="61.57" x2="497.4" y2="61.57" stroke="#222" stroke-width="0.7" />
<line x1="495.9" y1="59.97" x2="497.4" y2="59.97" stroke="#222" stroke-width="0.7" />
<line x1="495.9" y1="58.73" x2="497.4" y2="58.73" stroke="#222" stroke-width="0.7" />
<line x1="495.9" y1="57.72" x2="497.4" y2="57.72" stroke="#222" stroke-width="0.7" />
<line x1="495.9" y1="56.86" x2="497.4" y2="56.86" stroke="#222" stroke-width="0.7" />
<line x1="495.9" y1="56.12" x2="497.4" y2="56.12" stroke="#222" stroke-width="0.7" />
<line x1="495.9" y1="55.47" x2="497.4" y2="55.47" stroke="#222" stroke-width="0.7" />
<line x1="495.9" y1="51.03" x2="497.4" y2="51.03" stroke="#222" stroke-width="0.7" />
<line x1="495.9" y1="48.78" x2="497.4" y2="48.78" stroke="#222" stroke-width="0.7" />
<line x1="495.9" y1="47.18" x2="497.4" y2="47.18" stroke="#222" stroke-width="0.7" />
<line x1="495.9" y1="45.94" x2="497.4" y2="45.94" stroke="#222" stroke-width="0.7" />
<line x1="495.9" y1="44.93" x2="497.4" y2="44.93" stroke="#222" stroke-width="0.7" />
<line x1="495.9" y1="44.07" x2="497.4" y2="44.07" stroke="#222" stroke-width="0.7" />
<line x1="495.9" y1="43.33" x2="497.4" y2="43.33" stroke="#222" stroke-width="0.7" />
<line x1="495.9" y1="42.68" x2="497.4" y2="42.68" stroke="#222" stroke-width="0.7" />
<line x1="495.9" y1="38.24" x2="497.4" y2="38.24" stroke="#222" stroke-width="0.7" />
<line x1="495.9" y1="35.99" x2="497.4" y2="35.99" stroke="#222" stroke-width="0.7" />
<line x1="495.9" y1="34.39" x2="497.4" y2="34.39" stroke="#222" stroke-width="0.7" />
<line x1="495.9" y1="33.15" x2="497.4" y2="33.15" stroke="#222" stroke-width="0.7" />
<line x1="495.9" y1="32.14" x2="497.4" y2="32.14" stroke="#222" stroke-width="0.7" />
<line x1="495.9" y1="31.28" x2="497.4" y2="31.28" stroke="#222" stroke-width="0.7" />
<line x1="495.9" y1="30.54" x2="497.4" y2="30.54" stroke="#222" stroke-width="0.7" />
<line x1="495.9" y1="29.89" x2="497.4" y2="29.89" stroke="#222" stroke-width="0.7" />
<line x1="495.9" y1="25.45" x2="497.4" y2="25.45" stroke="#222" stroke-width="0.7" />
<line x1="495.9" y1="23.2" x2="497.4" y2="23.2" stroke="#222" stroke-width="0.7" />
<line x1="495.9" y1="21.6" x2="497.4" y2="21.6" stroke="#222" stroke-width="0.7" />
<line x1="495.9" y1="20.36" x2="497.4" y2="20.36" stroke="#222" stroke-width="0.7" />
<line x1="495.9" y1="19.35" x2="497.4" y2="19.35" stroke="#222" stroke-width="0.7" />
<line x1="495.9" y1="18.49" x2="497.4" y2="18.49" stroke="#222" stroke-width="0.7" />
<line x1="495.9" y1="17.75" x2="497.4" y2="17.75" stroke="#222" stroke-width="0.7" />
<line x1="495.9" y1="17.1" x2="497.4" y2="17.1" stroke="#222" stroke-width="0.7" />
<line x1="495.9" y1="12.66" x2="497.4" y2="12.66" stroke="#222" stroke-width="0.7" />
<text x="493" y="33" font-size="10.2" text-anchor="end" fill="#1a1a1a">10<tspan font-size="6.94" dy="-4.4">1</tspan></text>
<text x="493" y="58.58" font-size="10.2" text-anchor="end" fill="#1a1a1a">10<tspan font-size="6.94" dy="-4.4">-1</tspan></text>
<text x="493" y="84.16" font-size="10.2" text-anchor="end" fill="#1a1a1a">10<tspan font-size="6.94" dy="-4.4">-3</tspan></text>
<text x="493" y="109.74" font-size="10.2" text-anchor="end" fill="#1a1a1a">10<tspan font-size="6.94" dy="-4.4">-5</tspan></text>
<text x="493" y="135.32" font-size="10.2" text-anchor="end" fill="#1a1a1a">10<tspan font-size="6.94" dy="-4.4">-7</tspan></text>
<line x1="497.4" y1="151.4" x2="497.4" y2="154.2" stroke="#222" stroke-width="1" />
<line x1="522.4" y1="151.4" x2="522.4" y2="154.2" stroke="#222" stroke-width="1" />
<line x1="547.4" y1="151.4" x2="547.4" y2="154.2" stroke="#222" stroke-width="1" />
<line x1="572.4" y1="151.4" x2="572.4" y2="154.2" stroke="#222" stroke-width="1" />
<line x1="597.4" y1="151.4" x2="597.4" y2="154.2" stroke="#222" stroke-width="1" />
<line x1="622.4" y1="151.4" x2="622.4" y2="154.2" stroke="#222" stroke-width="1" />
<line x1="647.4" y1="151.4" x2="647.4" y2="154.2" stroke="#222" stroke-width="1" />
<line x1="672.4" y1="151.4" x2="672.4" y2="154.2" stroke="#222" stroke-width="1" />
<line x1="504.93" y1="151.4" x2="504.93" y2="152.9" stroke="#222" stroke-width="0.7" />
<line x1="509.33" y1="151.4" x2="509.33" y2="152.9" stroke="#222" stroke-width="0.7" />
<line x1="512.45" y1="151.4" x2="512.45" y2="152.9" stroke="#222" stroke-width="0.7" />
<line x1="514.87" y1="151.4" x2="514.87" y2="152.9" stroke="#222" stroke-width="0.7" />
<line x1="516.85" y1="151.4" x2="516.85" y2="152.9" stroke="#222" stroke-width="0.7" />
<line x1="518.53" y1="151.4" x2="518.53" y2="152.9" stroke="#222" stroke-width="0.7" />
<line x1="519.98" y1="151.4" x2="519.98" y2="152.9" stroke="#222" stroke-width="0.7" />
<line x1="521.26" y1="151.4" x2="521.26" y2="152.9" stroke="#222" stroke-width="0.7" />
<line x1="529.93" y1="151.4" x2="529.93" y2="152.9" stroke="#222" stroke-width="0.7" />
<line x1="534.33" y1="151.4" x2="534.33" y2="152.9" stroke="#222" stroke-width="0.7" />
<line x1="537.45" y1="151.4" x2="537.45" y2="152.9" stroke="#222" stroke-width="0.7" />
<line x1="539.87" y1="151.4" x2="539.87" y2="152.9" stroke="#222" stroke-width="0.7" />
<line x1="541.85" y1="151.4" x2="541.85" y2="152.9" stroke="#222" stroke-width="0.7" />
<line x1="543.53" y1="151.4" x2="543.53" y2="152.9" stroke="#222" stroke-width="0.7" />
<line x1="544.98" y1="151.4" x2="544.98" y2="152.9" stroke="#222" stroke-width="0.7" />
<line x1="546.26" y1="151.4" x2="546.26" y2="152.9" stroke="#222" stroke-width="0.7" />
<line x1="554.93" y1="151.4" x2="554.93" y2="152.9" stroke="#222" stroke-width="0.7" />
<line x1="559.33" y1="151.4" x2="559.33" y2="152.9" stroke="#222" stroke-width="0.7" />
<line x1="562.45" y1="151.4" x2="562.45" y2="152.9" stroke="#222" stroke-width="0.7" />
<line x1="564.87" y1="151.4" x2="564.87" y2="152.9" stroke="#222" stroke-width="0.7" />
<line x1="566.85" y1="151.4" x2="566.85" y2="152.9" stroke="#222" stroke-width="0.7" />
<line x1="568.53" y1="151.4" x2="568.53" y2="152.9" stroke="#222" stroke-width="0.7" />
<line x1="569.98" y1="151.4" x2="569.98" y2="152.9" stroke="#222" stroke-width="0.7" />
<line x1="571.26" y1="151.4" x2="571.26" y2="152.9" stroke="#222" stroke-width="0.7" />
<line x1="579.93" y1="151.4" x2="579.93" y2="152.9" stroke="#222" stroke-width="0.7" />
<line x1="584.33" y1="151.4" x2="584.33" y2="152.9" stroke="#222" stroke-width="0.7" />
<line x1="587.45" y1="151.4" x2="587.45" y2="152.9" stroke="#222" stroke-width="0.7" />
<line x1="589.87" y1="151.4" x2="589.87" y2="152.9" stroke="#222" stroke-width="0.7" />
<line x1="591.85" y1="151.4" x2="591.85" y2="152.9" stroke="#222" stroke-width="0.7" />
<line x1="593.53" y1="151.4" x2="593.53" y2="152.9" stroke="#222" stroke-width="0.7" />
<line x1="594.98" y1="151.4" x2="594.98" y2="152.9" stroke="#222" stroke-width="0.7" />
<line x1="596.26" y1="151.4" x2="596.26" y2="152.9" stroke="#222" stroke-width="0.7" />
<line x1="604.93" y1="151.4" x2="604.93" y2="152.9" stroke="#222" stroke-width="0.7" />
<line x1="609.33" y1="151.4" x2="609.33" y2="152.9" stroke="#222" stroke-width="0.7" />
<line x1="612.45" y1="151.4" x2="612.45" y2="152.9" stroke="#222" stroke-width="0.7" />
<line x1="614.87" y1="151.4" x2="614.87" y2="152.9" stroke="#222" stroke-width="0.7" />
<line x1="616.85" y1="151.4" x2="616.85" y2="152.9" stroke="#222" stroke-width="0.7" />
<line x1="618.53" y1="151.4" x2="618.53" y2="152.9" stroke="#222" stroke-width="0.7" />
<line x1="619.98" y1="151.4" x2="619.98" y2="152.9" stroke="#222" stroke-width="0.7" />
<line x1="621.26" y1="151.4" x2="621.26" y2="152.9" stroke="#222" stroke-width="0.7" />
<line x1="629.93" y1="151.4" x2="629.93" y2="152.9" stroke="#222" stroke-width="0.7" />
<line x1="634.33" y1="151.4" x2="634.33" y2="152.9" stroke="#222" stroke-width="0.7" />
<line x1="637.45" y1="151.4" x2="637.45" y2="152.9" stroke="#222" stroke-width="0.7" />
<line x1="639.87" y1="151.4" x2="639.87" y2="152.9" stroke="#222" stroke-width="0.7" />
<line x1="641.85" y1="151.4" x2="641.85" y2="152.9" stroke="#222" stroke-width="0.7" />
<line x1="643.53" y1="151.4" x2="643.53" y2="152.9" stroke="#222" stroke-width="0.7" />
<line x1="644.98" y1="151.4" x2="644.98" y2="152.9" stroke="#222" stroke-width="0.7" />
<line x1="646.26" y1="151.4" x2="646.26" y2="152.9" stroke="#222" stroke-width="0.7" />
<line x1="654.93" y1="151.4" x2="654.93" y2="152.9" stroke="#222" stroke-width="0.7" />
<line x1="659.33" y1="151.4" x2="659.33" y2="152.9" stroke="#222" stroke-width="0.7" />
<line x1="662.45" y1="151.4" x2="662.45" y2="152.9" stroke="#222" stroke-width="0.7" />
<line x1="664.87" y1="151.4" x2="664.87" y2="152.9" stroke="#222" stroke-width="0.7" />
<line x1="666.85" y1="151.4" x2="666.85" y2="152.9" stroke="#222" stroke-width="0.7" />
<line x1="668.53" y1="151.4" x2="668.53" y2="152.9" stroke="#222" stroke-width="0.7" />
<line x1="669.98" y1="151.4" x2="669.98" y2="152.9" stroke="#222" stroke-width="0.7" />
<line x1="671.26" y1="151.4" x2="671.26" y2="152.9" stroke="#222" stroke-width="0.7" />
<text x="498.4" y="165.6" font-size="10.2" text-anchor="middle" fill="#1a1a1a">10<tspan font-size="6.9" dy="-4.4">0</tspan></text>
<text x="523.4" y="165.6" font-size="10.2" text-anchor="middle" fill="#1a1a1a">10<tspan font-size="6.9" dy="-4.4">1</tspan></text>
<text x="548.4" y="165.6" font-size="10.2" text-anchor="middle" fill="#1a1a1a">10<tspan font-size="6.9" dy="-4.4">2</tspan></text>
<text x="573.4" y="165.6" font-size="10.2" text-anchor="middle" fill="#1a1a1a">10<tspan font-size="6.9" dy="-4.4">3</tspan></text>
<text x="598.4" y="165.6" font-size="10.2" text-anchor="middle" fill="#1a1a1a">10<tspan font-size="6.9" dy="-4.4">4</tspan></text>
<text x="623.4" y="165.6" font-size="10.2" text-anchor="middle" fill="#1a1a1a">10<tspan font-size="6.9" dy="-4.4">5</tspan></text>
<text x="648.4" y="165.6" font-size="10.2" text-anchor="middle" fill="#1a1a1a">10<tspan font-size="6.9" dy="-4.4">6</tspan></text>
<text x="673.4" y="165.6" font-size="10.2" text-anchor="middle" fill="#1a1a1a">10<tspan font-size="6.9" dy="-4.4">7</tspan></text>
<text x="585.1" y="184" font-size="12.3" text-anchor="middle" fill="#1a1a1a" font-weight="normal" >Programming Cycle (#)</text>
<text x="0" y="0" font-size="12.2" text-anchor="middle" fill="#1a1a1a" transform="translate(471.2,80.5) rotate(-90)">Current (μA)</text>
<text x="4.6" y="202.8" font-size="15" text-anchor="start" fill="#000" font-weight="bold" >d</text>
<rect x="18.5" y="258.7" width="36.4" height="88" fill="url(#ptd)" stroke="#8a8a8a" stroke-width="0.9"/>
<rect x="187.7" y="267.8" width="35.7" height="87.4" fill="url(#tind)" stroke="#8f8a86" stroke-width="0.9"/>
<path d="M54.5,194.5 C54.92,195.82 55.53,199.77 57,202.4 C58.47,205.03 60.67,207.93 63.3,210.3 C65.93,212.67 68.35,214.62 72.8,216.6 C77.25,218.58 83.3,220.6 90,222.2 C96.7,223.8 103,225 113,226.2 C123,227.4 141.5,228.2 150,229.4 C158.5,230.6 159.32,231.45 164,233.4 C168.68,235.35 174.57,238.77 178.1,241.1 C181.63,243.43 183.6,244.82 185.2,247.4 C186.8,249.98 187.28,255.07 187.7,256.6 L187.7,331.6 C187.2,330.15 186.85,325.82 184.7,322.9 C182.55,319.98 179.73,316.95 174.8,314.1 C169.87,311.25 163.13,307.9 155.1,305.8 C147.07,303.7 136.82,302.85 126.6,301.5 C116.38,300.15 102.92,299.62 93.8,297.7 C84.68,295.78 77.73,293.1 71.9,290 C66.07,286.9 61.65,283.1 58.8,279.1 C55.95,275.1 55.47,268.18 54.8,266 Z" fill="url(#bandd)" stroke="none" stroke-width="1" />
<path d="M54.5,194.5 C54.92,195.82 55.53,199.77 57,202.4 C58.47,205.03 60.67,207.93 63.3,210.3 C65.93,212.67 68.35,214.62 72.8,216.6 C77.25,218.58 83.3,220.6 90,222.2 C96.7,223.8 103,225 113,226.2 C123,227.4 141.5,228.2 150,229.4 C158.5,230.6 159.32,231.45 164,233.4 C168.68,235.35 174.57,238.77 178.1,241.1 C181.63,243.43 183.6,244.82 185.2,247.4 C186.8,249.98 187.28,255.07 187.7,256.6 L187.7,267.8" fill="none" stroke="#111" stroke-width="1.0" />
<path d="M54.8,266 C55.47,268.18 55.95,275.1 58.8,279.1 C61.65,283.1 66.07,286.9 71.9,290 C77.73,293.1 84.68,295.78 93.8,297.7 C102.92,299.62 116.38,300.15 126.6,301.5 C136.82,302.85 147.07,303.7 155.1,305.8 C163.13,307.9 169.87,311.25 174.8,314.1 C179.73,316.95 182.55,319.98 184.7,322.9 C186.85,325.82 187.2,330.15 187.7,331.6" fill="none" stroke="#111" stroke-width="1.0" />
<line x1="54.5" y1="194.5" x2="54.5" y2="266" stroke="#111" stroke-width="1.0" />
<rect x="187.7" y="267.8" width="35.7" height="87.4" fill="url(#tind)" stroke="#8f8a86" stroke-width="0.9"/>
<circle cx="25.3" cy="253" r="3.2" fill="url(#sp0)" stroke="none" stroke-width="0" />
<circle cx="35.8" cy="253" r="3.2" fill="url(#sp0)" stroke="none" stroke-width="0" />
<circle cx="45.9" cy="253" r="3.2" fill="url(#sp0)" stroke="none" stroke-width="0" />
<line x1="65.2" y1="239.6" x2="72.8" y2="239.6" stroke="#222" stroke-width="1.3" />
<line x1="81.6" y1="244.6" x2="88.6" y2="244.6" stroke="#222" stroke-width="1.3" />
<text x="82.6" y="239.3" font-size="8.0" text-anchor="start" fill="#1a1a1a" font-weight="normal" >Traps</text>
<circle cx="64.9" cy="266.6" r="5.6" fill="url(#sp1)" stroke="none" stroke-width="0" />
<circle cx="66.8" cy="279.3" r="5.6" fill="url(#sp1)" stroke="none" stroke-width="0" />
<circle cx="79.1" cy="275.9" r="5.6" fill="url(#sp1)" stroke="none" stroke-width="0" />
<text x="76.9" y="266.8" font-size="8.0" text-anchor="start" fill="#1a1a1a" font-weight="normal" >oxygen vacancy-</text>
<text x="90.5" y="277" font-size="8.0" text-anchor="start" fill="#1a1a1a" font-weight="normal" >rich zone</text>
<text x="65.2" y="208.6" font-size="9.0" text-anchor="start" fill="#1a1a1a" font-weight="normal" >Schottky Emission</text>
<text x="114.9" y="314.7" font-size="8.0" fill="#1a1a1a">HfO<tspan font-size="5.4" dy="2">x</tspan></text>
<text x="117.4" y="331.4" font-size="8.0" text-anchor="start" fill="#1a1a1a" font-weight="normal" >Electron</text>
<text x="103.8" y="352.9" font-size="8.0" text-anchor="start" fill="#1a1a1a" font-weight="normal" >Oxygen vacancy</text>
<circle cx="83" cy="328.2" r="3" fill="url(#sp0)" stroke="none" stroke-width="0" />
<circle cx="83" cy="349.1" r="5.2" fill="url(#sp1)" stroke="none" stroke-width="0" />
<text x="36.6" y="306.6" font-size="8.8" text-anchor="middle" fill="#1a1a1a" font-weight="normal" >Pt</text>
<text x="36.6" y="342" font-size="6.6" text-anchor="middle" fill="#1a1a1a" font-weight="normal" >(-)</text>
<text x="205.5" y="313.5" font-size="8.8" text-anchor="middle" fill="#1a1a1a" font-weight="normal" >TiN</text>
<text x="205.5" y="352.2" font-size="6.6" text-anchor="middle" fill="#1a1a1a" font-weight="normal" >(GND)</text>
<line x1="46.4" y1="215" x2="51.6" y2="189.5" stroke="#16b04a" stroke-width="1.1" />
<polygon points="52.4,186.6 49.2,191.2 53.8,191.8" fill="#16b04a" stroke="none" stroke-width="0" />
<polygon points="37,196.3 39.7,193.6 44.8,198.7 49.9,193.6 52.6,196.3 47.5,201.4 52.6,206.5 49.9,209.2 44.8,204.1 39.7,209.2 37,206.5 42.1,201.4" fill="url(#xg)" stroke="#e02a2a" stroke-width="0.8" />
<text x="234.3" y="202.9" font-size="15" text-anchor="start" fill="#000" font-weight="bold" >e</text>
<rect x="247.6" y="270.5" width="36.3" height="87.8" fill="url(#pte)" stroke="#8a8a8a" stroke-width="0.9"/>
<rect x="417" y="251.4" width="35.6" height="87.8" fill="url(#tine)" stroke="#8f8a86" stroke-width="0.9"/>
<path d="M284.1,322.9 L284.1,248 C284.1,236 290,229.5 302,227.6 C312,226.2 330,225.6 350,225.6 C368,225.6 382,226.2 394,228.2 C408,230.8 417,236 417,246 L417,320.3 C413,312 402,307 380,306.4 L318,306.4 C298,306.6 286,312 284.1,322.9 Z" fill="url(#bande)" stroke="none" stroke-width="1" />
<path d="M284.1,250 L284.1,248 C284.1,236 290,229.5 302,227.6 C312,226.2 330,225.6 350,225.6 C368,225.6 382,226.2 394,228.2 C408,230.8 417,236 417,246 L417,251.4" fill="none" stroke="#111" stroke-width="1.0" />
<path d="M417,320.3 C413,312 402,307 380,306.4 L318,306.4 C298,306.6 286,312 284.1,322.9" fill="none" stroke="#111" stroke-width="1.0" />
<circle cx="256.2" cy="262.6" r="3.1" fill="url(#sp0)" stroke="none" stroke-width="0" />
<circle cx="265.7" cy="262.6" r="3.1" fill="url(#sp0)" stroke="none" stroke-width="0" />
<circle cx="275.2" cy="262.6" r="3.1" fill="url(#sp0)" stroke="none" stroke-width="0" />
<circle cx="424.4" cy="246.6" r="3.1" fill="url(#sp0)" stroke="none" stroke-width="0" />
<circle cx="434.5" cy="246.6" r="3.1" fill="url(#sp0)" stroke="none" stroke-width="0" />
<circle cx="444.4" cy="246.6" r="3.1" fill="url(#sp0)" stroke="none" stroke-width="0" />
<line x1="297.4" y1="251.1" x2="305.8" y2="251.1" stroke="#1e2a44" stroke-width="1.3" />
<circle cx="301.6" cy="244.8" r="3" fill="url(#sp0)" stroke="none" stroke-width="0" />
<line x1="314.3" y1="248" x2="322.7" y2="248" stroke="#1e2a44" stroke-width="1.3" />
<circle cx="318.5" cy="241" r="3" fill="url(#sp0)" stroke="none" stroke-width="0" />
<line x1="331.9" y1="245.2" x2="340.3" y2="245.2" stroke="#1e2a44" stroke-width="1.3" />
<circle cx="336.1" cy="238.9" r="3" fill="url(#sp0)" stroke="none" stroke-width="0" />
<line x1="348.9" y1="245.1" x2="357.3" y2="245.1" stroke="#1e2a44" stroke-width="1.3" />
<circle cx="353.1" cy="237.3" r="3" fill="url(#sp0)" stroke="none" stroke-width="0" />
<line x1="364.3" y1="244.5" x2="372.7" y2="244.5" stroke="#1e2a44" stroke-width="1.3" />
<circle cx="368.5" cy="238.2" r="3" fill="url(#sp0)" stroke="none" stroke-width="0" />
<line x1="381.2" y1="244.5" x2="389.6" y2="244.5" stroke="#1e2a44" stroke-width="1.3" />
<circle cx="385.4" cy="238.2" r="3" fill="url(#sp0)" stroke="none" stroke-width="0" />
<line x1="397.6" y1="247.9" x2="406" y2="247.9" stroke="#1e2a44" stroke-width="1.3" />
<circle cx="401.8" cy="240.9" r="3" fill="url(#sp0)" stroke="none" stroke-width="0" />
<circle cx="311.5" cy="272.4" r="5.6" fill="url(#sp1)" stroke="none" stroke-width="0" />
<circle cx="332.9" cy="268.9" r="5.6" fill="url(#sp1)" stroke="none" stroke-width="0" />
<circle cx="330" cy="284.6" r="5.6" fill="url(#sp1)" stroke="none" stroke-width="0" />
<circle cx="390.6" cy="265.8" r="5.6" fill="url(#sp1)" stroke="none" stroke-width="0" />
<circle cx="388.1" cy="280.5" r="5.6" fill="url(#sp1)" stroke="none" stroke-width="0" />
<line x1="348.4" y1="273" x2="370.5" y2="273" stroke="#f0a830" stroke-width="1.2" />
<polygon points="373.6,273 368.8,270.4 368.8,275.6" fill="#f0a830" stroke="none" stroke-width="0" />
<text x="343.2" y="315.9" font-size="8.0" fill="#1a1a1a">HfO<tspan font-size="5.4" dy="2">x</tspan></text>
<text x="352.6" y="330.9" font-size="8.0" text-anchor="start" fill="#1a1a1a" font-weight="normal" >Electron</text>
<text x="338.2" y="352.5" font-size="8.0" text-anchor="start" fill="#1a1a1a" font-weight="normal" >Oxygen vacancy</text>
<circle cx="318.2" cy="327.6" r="3" fill="url(#sp0)" stroke="none" stroke-width="0" />
<circle cx="318.2" cy="348.8" r="5.3" fill="url(#sp1)" stroke="none" stroke-width="0" />
<text x="265.7" y="317.7" font-size="8.8" text-anchor="middle" fill="#1a1a1a" font-weight="normal" >Pt</text>
<text x="265.7" y="353.6" font-size="6.6" text-anchor="middle" fill="#1a1a1a" font-weight="normal" >(+)</text>
<text x="434.8" y="297" font-size="8.8" text-anchor="middle" fill="#1a1a1a" font-weight="normal" >TiN</text>
<text x="434.8" y="335.8" font-size="6.6" text-anchor="middle" fill="#1a1a1a" font-weight="normal" >(GND)</text>
<text x="329.5" y="206.7" font-size="9.0" text-anchor="middle" fill="#1a1a1a" font-weight="normal" >Poole-Frenkel</text>
<text x="331.5" y="217.7" font-size="9.0" text-anchor="middle" fill="#1a1a1a" font-weight="normal" >Emission</text>
<text x="417.5" y="204.4" font-size="9.0" text-anchor="middle" fill="#1a1a1a" font-weight="normal" >Schottky</text>
<text x="418.5" y="215.6" font-size="9.0" text-anchor="middle" fill="#1a1a1a" font-weight="normal" >Emission</text>
<path d="M299.5,240.3 C299,228 292,220 278.5,218" fill="none" stroke="#ea6a6a" stroke-width="1.1" />
<polygon points="275.4,217.6 280.6,214.8 279.6,220.8" fill="#ea6a6a" stroke="none" stroke-width="0" />
<path d="M317.8,236.1 C317.5,224 311,216.5 297.5,214" fill="none" stroke="#ea6a6a" stroke-width="1.1" />
<polygon points="294.4,213.5 299.6,210.8 298.8,216.8" fill="#ea6a6a" stroke="none" stroke-width="0" />
<path d="M368,233.6 C368,207.17 356.4,207.17 356.4,230" fill="none" stroke="#ea6a6a" stroke-width="1.1" />
<polygon points="356.4,233 353.9,228.4 358.9,228.4" fill="#ea6a6a" stroke="none" stroke-width="0" />
<path d="M385,231.3 C385,203.39999999999998 372.1,203.39999999999998 372.1,227.1" fill="none" stroke="#ea6a6a" stroke-width="1.1" />
<polygon points="372.1,230.1 369.6,225.5 374.6,225.5" fill="#ea6a6a" stroke="none" stroke-width="0" />
<path d="M401.3,232.4 C401.3,205.265 389,205.265 389,228.3" fill="none" stroke="#ea6a6a" stroke-width="1.1" />
<polygon points="389,231.3 386.5,226.7 391.5,226.7" fill="#ea6a6a" stroke="none" stroke-width="0" />
<path d="M417.1,239.5 C417.1,223.525 407.8,223.525 407.8,231.2" fill="none" stroke="#ea6a6a" stroke-width="1.1" />
<polygon points="407.8,234.2 405.3,229.6 410.3,229.6" fill="#ea6a6a" stroke="none" stroke-width="0" />
<path d="M433.9,243 C433,230 425,221 414,219.5" fill="none" stroke="#18b050" stroke-width="1.2" />
<polygon points="411,219.2 416.2,216.4 415.6,222.4" fill="#18b050" stroke="none" stroke-width="0" />
<text x="461.5" y="202.8" font-size="15" text-anchor="start" fill="#000" font-weight="bold" >f</text>
<circle cx="566.3" cy="216.6" r="3" fill="url(#sp2)" stroke="none" stroke-width="0" />
<circle cx="594.7" cy="216.6" r="3" fill="url(#sp3)" stroke="none" stroke-width="0" />
<circle cx="537.9" cy="254.73" r="3" fill="url(#sp4)" stroke="none" stroke-width="0" />
<circle cx="509.5" cy="292.86" r="3" fill="url(#sp5)" stroke="none" stroke-width="0" />
<circle cx="594.7" cy="292.86" r="3" fill="url(#sp6)" stroke="none" stroke-width="0" />
<circle cx="509.5" cy="330.99" r="3" fill="url(#sp7)" stroke="none" stroke-width="0" />
<polygon points="651.5,211 652.85,214.74 656.83,214.87 653.69,217.31 654.79,221.13 651.5,218.9 648.21,221.13 649.31,217.31 646.17,214.87 650.15,214.74" fill="#ff1010" stroke="none" stroke-width="0" />
<text x="504.5" y="219.4" font-size="7.7" fill="#2cc0cc">[29] Pt/TaO<tspan font-size="5.2" dy="1.6">x</tspan><tspan dy="-1.6">/Ta</tspan></text>
<text x="540.6" y="231" font-size="7.7" fill="#8a5a5a">[25] Pt/HfO<tspan font-size="5.2" dy="1.6">2</tspan><tspan dy="-1.6">/WO<tspan font-size="5.2" dy="1.6">3-x</tspan><tspan dy="-1.6">/TiN</tspan></tspan></text>
<text x="630.6" y="231.6" font-size="8.3" text-anchor="start" fill="#ff1414" font-weight="bold" >This work</text>
<text x="544" y="263.8" font-size="7.7" fill="#333333">[26] Pt/HfO<tspan font-size="5.2" dy="1.6">2</tspan><tspan dy="-1.6">/TaO<tspan font-size="5.2" dy="1.6">x</tspan><tspan dy="-1.6">/Ta</tspan></tspan></text>
<text x="511.6" y="287.5" font-size="7.7" fill="#9d9620">[31] Ru/HfO<tspan font-size="5.2" dy="1.6">2</tspan><tspan dy="-1.6">/TiO<tspan font-size="5.2" dy="1.6">x</tspan><tspan dy="-1.6">/TiN</tspan></tspan></text>
<text x="595" y="305" font-size="7.7" fill="#3aa85a">[45] Pt/Al<tspan font-size="5.2" dy="1.6">2</tspan><tspan dy="-1.6">O<tspan font-size="5.2" dy="1.6">3</tspan><tspan dy="-1.6">/HfO<tspan font-size="5.2" dy="1.6">2</tspan><tspan dy="-1.6">/TiN</tspan></tspan></tspan></text>
<text x="519.5" y="333.8" font-size="7.7" fill="#3a78e0">[27] Ru/Hf<tspan font-size="5.2" dy="1.6">0.8</tspan><tspan dy="-1.6">Si<tspan font-size="5.2" dy="1.6">0.2</tspan><tspan dy="-1.6">O<tspan font-size="5.2" dy="1.6">2</tspan><tspan dy="-1.6">/Al<tspan font-size="5.2" dy="1.6">2</tspan><tspan dy="-1.6">O<tspan font-size="5.2" dy="1.6">3</tspan><tspan dy="-1.6">/Hf<tspan font-size="5.2" dy="1.6">0.5</tspan><tspan dy="-1.6">Si<tspan font-size="5.2" dy="1.6">0.5</tspan><tspan dy="-1.6">O<tspan font-size="5.2" dy="1.6">2</tspan><tspan dy="-1.6">/TiN</tspan></tspan></tspan></tspan></tspan></tspan></tspan></tspan></tspan></tspan></text>
<line x1="497.7" y1="204.2" x2="671.3" y2="204.2" stroke="#444" stroke-width="1" />
<line x1="671.3" y1="204.2" x2="671.3" y2="343" stroke="#444" stroke-width="1" />
<line x1="497.7" y1="203.7" x2="497.7" y2="343.5" stroke="#222" stroke-width="1.1" />
<line x1="497.2" y1="343" x2="671.8" y2="343" stroke="#222" stroke-width="1.1" />
<line x1="494.9" y1="330.99" x2="497.7" y2="330.99" stroke="#222" stroke-width="1" />
<line x1="494.9" y1="292.86" x2="497.7" y2="292.86" stroke="#222" stroke-width="1" />
<line x1="494.9" y1="254.73" x2="497.7" y2="254.73" stroke="#222" stroke-width="1" />
<line x1="494.9" y1="216.6" x2="497.7" y2="216.6" stroke="#222" stroke-width="1" />
<line x1="496.2" y1="342.47" x2="497.7" y2="342.47" stroke="#222" stroke-width="0.7" />
<line x1="496.2" y1="339.45" x2="497.7" y2="339.45" stroke="#222" stroke-width="0.7" />
<line x1="496.2" y1="336.9" x2="497.7" y2="336.9" stroke="#222" stroke-width="0.7" />
<line x1="496.2" y1="334.69" x2="497.7" y2="334.69" stroke="#222" stroke-width="0.7" />
<line x1="496.2" y1="332.73" x2="497.7" y2="332.73" stroke="#222" stroke-width="0.7" />
<line x1="496.2" y1="319.51" x2="497.7" y2="319.51" stroke="#222" stroke-width="0.7" />
<line x1="496.2" y1="312.8" x2="497.7" y2="312.8" stroke="#222" stroke-width="0.7" />
<line x1="496.2" y1="308.03" x2="497.7" y2="308.03" stroke="#222" stroke-width="0.7" />
<line x1="496.2" y1="304.34" x2="497.7" y2="304.34" stroke="#222" stroke-width="0.7" />
<line x1="496.2" y1="301.32" x2="497.7" y2="301.32" stroke="#222" stroke-width="0.7" />
<line x1="496.2" y1="298.77" x2="497.7" y2="298.77" stroke="#222" stroke-width="0.7" />
<line x1="496.2" y1="296.56" x2="497.7" y2="296.56" stroke="#222" stroke-width="0.7" />
<line x1="496.2" y1="294.6" x2="497.7" y2="294.6" stroke="#222" stroke-width="0.7" />
<line x1="496.2" y1="281.38" x2="497.7" y2="281.38" stroke="#222" stroke-width="0.7" />
<line x1="496.2" y1="274.67" x2="497.7" y2="274.67" stroke="#222" stroke-width="0.7" />
<line x1="496.2" y1="269.9" x2="497.7" y2="269.9" stroke="#222" stroke-width="0.7" />
<line x1="496.2" y1="266.21" x2="497.7" y2="266.21" stroke="#222" stroke-width="0.7" />
<line x1="496.2" y1="263.19" x2="497.7" y2="263.19" stroke="#222" stroke-width="0.7" />
<line x1="496.2" y1="260.64" x2="497.7" y2="260.64" stroke="#222" stroke-width="0.7" />
<line x1="496.2" y1="258.43" x2="497.7" y2="258.43" stroke="#222" stroke-width="0.7" />
<line x1="496.2" y1="256.47" x2="497.7" y2="256.47" stroke="#222" stroke-width="0.7" />
<line x1="496.2" y1="243.25" x2="497.7" y2="243.25" stroke="#222" stroke-width="0.7" />
<line x1="496.2" y1="236.54" x2="497.7" y2="236.54" stroke="#222" stroke-width="0.7" />
<line x1="496.2" y1="231.77" x2="497.7" y2="231.77" stroke="#222" stroke-width="0.7" />
<line x1="496.2" y1="228.08" x2="497.7" y2="228.08" stroke="#222" stroke-width="0.7" />
<line x1="496.2" y1="225.06" x2="497.7" y2="225.06" stroke="#222" stroke-width="0.7" />
<line x1="496.2" y1="222.51" x2="497.7" y2="222.51" stroke="#222" stroke-width="0.7" />
<line x1="496.2" y1="220.3" x2="497.7" y2="220.3" stroke="#222" stroke-width="0.7" />
<line x1="496.2" y1="218.34" x2="497.7" y2="218.34" stroke="#222" stroke-width="0.7" />
<line x1="496.2" y1="205.12" x2="497.7" y2="205.12" stroke="#222" stroke-width="0.7" />
<text x="493.3" y="220.3" font-size="10.2" text-anchor="end" fill="#1a1a1a">10<tspan font-size="6.94" dy="-4.4">5</tspan></text>
<text x="493.3" y="258.43" font-size="10.2" text-anchor="end" fill="#1a1a1a">10<tspan font-size="6.94" dy="-4.4">4</tspan></text>
<text x="493.3" y="296.56" font-size="10.2" text-anchor="end" fill="#1a1a1a">10<tspan font-size="6.94" dy="-4.4">3</tspan></text>
<text x="493.3" y="334.69" font-size="10.2" text-anchor="end" fill="#1a1a1a">10<tspan font-size="6.94" dy="-4.4">2</tspan></text>
<line x1="509.5" y1="343" x2="509.5" y2="345.8" stroke="#222" stroke-width="1" />
<line x1="537.9" y1="343" x2="537.9" y2="345.8" stroke="#222" stroke-width="1" />
<line x1="566.3" y1="343" x2="566.3" y2="345.8" stroke="#222" stroke-width="1" />
<line x1="594.7" y1="343" x2="594.7" y2="345.8" stroke="#222" stroke-width="1" />
<line x1="623.1" y1="343" x2="623.1" y2="345.8" stroke="#222" stroke-width="1" />
<line x1="651.5" y1="343" x2="651.5" y2="345.8" stroke="#222" stroke-width="1" />
<line x1="498.2" y1="343" x2="498.2" y2="344.5" stroke="#222" stroke-width="0.7" />
<line x1="500.95" y1="343" x2="500.95" y2="344.5" stroke="#222" stroke-width="0.7" />
<line x1="503.2" y1="343" x2="503.2" y2="344.5" stroke="#222" stroke-width="0.7" />
<line x1="505.1" y1="343" x2="505.1" y2="344.5" stroke="#222" stroke-width="0.7" />
<line x1="506.75" y1="343" x2="506.75" y2="344.5" stroke="#222" stroke-width="0.7" />
<line x1="508.2" y1="343" x2="508.2" y2="344.5" stroke="#222" stroke-width="0.7" />
<line x1="518.05" y1="343" x2="518.05" y2="344.5" stroke="#222" stroke-width="0.7" />
<line x1="523.05" y1="343" x2="523.05" y2="344.5" stroke="#222" stroke-width="0.7" />
<line x1="526.6" y1="343" x2="526.6" y2="344.5" stroke="#222" stroke-width="0.7" />
<line x1="529.35" y1="343" x2="529.35" y2="344.5" stroke="#222" stroke-width="0.7" />
<line x1="531.6" y1="343" x2="531.6" y2="344.5" stroke="#222" stroke-width="0.7" />
<line x1="533.5" y1="343" x2="533.5" y2="344.5" stroke="#222" stroke-width="0.7" />
<line x1="535.15" y1="343" x2="535.15" y2="344.5" stroke="#222" stroke-width="0.7" />
<line x1="536.6" y1="343" x2="536.6" y2="344.5" stroke="#222" stroke-width="0.7" />
<line x1="546.45" y1="343" x2="546.45" y2="344.5" stroke="#222" stroke-width="0.7" />
<line x1="551.45" y1="343" x2="551.45" y2="344.5" stroke="#222" stroke-width="0.7" />
<line x1="555" y1="343" x2="555" y2="344.5" stroke="#222" stroke-width="0.7" />
<line x1="557.75" y1="343" x2="557.75" y2="344.5" stroke="#222" stroke-width="0.7" />
<line x1="560" y1="343" x2="560" y2="344.5" stroke="#222" stroke-width="0.7" />
<line x1="561.9" y1="343" x2="561.9" y2="344.5" stroke="#222" stroke-width="0.7" />
<line x1="563.55" y1="343" x2="563.55" y2="344.5" stroke="#222" stroke-width="0.7" />
<line x1="565" y1="343" x2="565" y2="344.5" stroke="#222" stroke-width="0.7" />
<line x1="574.85" y1="343" x2="574.85" y2="344.5" stroke="#222" stroke-width="0.7" />
<line x1="579.85" y1="343" x2="579.85" y2="344.5" stroke="#222" stroke-width="0.7" />
<line x1="583.4" y1="343" x2="583.4" y2="344.5" stroke="#222" stroke-width="0.7" />
<line x1="586.15" y1="343" x2="586.15" y2="344.5" stroke="#222" stroke-width="0.7" />
<line x1="588.4" y1="343" x2="588.4" y2="344.5" stroke="#222" stroke-width="0.7" />
<line x1="590.3" y1="343" x2="590.3" y2="344.5" stroke="#222" stroke-width="0.7" />
<line x1="591.95" y1="343" x2="591.95" y2="344.5" stroke="#222" stroke-width="0.7" />
<line x1="593.4" y1="343" x2="593.4" y2="344.5" stroke="#222" stroke-width="0.7" />
<line x1="603.25" y1="343" x2="603.25" y2="344.5" stroke="#222" stroke-width="0.7" />
<line x1="608.25" y1="343" x2="608.25" y2="344.5" stroke="#222" stroke-width="0.7" />
<line x1="611.8" y1="343" x2="611.8" y2="344.5" stroke="#222" stroke-width="0.7" />
<line x1="614.55" y1="343" x2="614.55" y2="344.5" stroke="#222" stroke-width="0.7" />
<line x1="616.8" y1="343" x2="616.8" y2="344.5" stroke="#222" stroke-width="0.7" />
<line x1="618.7" y1="343" x2="618.7" y2="344.5" stroke="#222" stroke-width="0.7" />
<line x1="620.35" y1="343" x2="620.35" y2="344.5" stroke="#222" stroke-width="0.7" />
<line x1="621.8" y1="343" x2="621.8" y2="344.5" stroke="#222" stroke-width="0.7" />
<line x1="631.65" y1="343" x2="631.65" y2="344.5" stroke="#222" stroke-width="0.7" />
<line x1="636.65" y1="343" x2="636.65" y2="344.5" stroke="#222" stroke-width="0.7" />
<line x1="640.2" y1="343" x2="640.2" y2="344.5" stroke="#222" stroke-width="0.7" />
<line x1="642.95" y1="343" x2="642.95" y2="344.5" stroke="#222" stroke-width="0.7" />
<line x1="645.2" y1="343" x2="645.2" y2="344.5" stroke="#222" stroke-width="0.7" />
<line x1="647.1" y1="343" x2="647.1" y2="344.5" stroke="#222" stroke-width="0.7" />
<line x1="648.75" y1="343" x2="648.75" y2="344.5" stroke="#222" stroke-width="0.7" />
<line x1="650.2" y1="343" x2="650.2" y2="344.5" stroke="#222" stroke-width="0.7" />
<line x1="660.05" y1="343" x2="660.05" y2="344.5" stroke="#222" stroke-width="0.7" />
<line x1="665.05" y1="343" x2="665.05" y2="344.5" stroke="#222" stroke-width="0.7" />
<line x1="668.6" y1="343" x2="668.6" y2="344.5" stroke="#222" stroke-width="0.7" />
<text x="510.1" y="357.3" font-size="9.8" text-anchor="middle" fill="#1a1a1a">10<tspan font-size="6.5" dy="-4.2">3</tspan></text>
<text x="538.5" y="357.3" font-size="9.8" text-anchor="middle" fill="#1a1a1a">10<tspan font-size="6.5" dy="-4.2">4</tspan></text>
<text x="566.9" y="357.3" font-size="9.8" text-anchor="middle" fill="#1a1a1a">10<tspan font-size="6.5" dy="-4.2">5</tspan></text>
<text x="595.3" y="357.3" font-size="9.8" text-anchor="middle" fill="#1a1a1a">10<tspan font-size="6.5" dy="-4.2">6</tspan></text>
<text x="623.7" y="357.3" font-size="9.8" text-anchor="middle" fill="#1a1a1a">10<tspan font-size="6.5" dy="-4.2">7</tspan></text>
<text x="652.1" y="357.3" font-size="9.8" text-anchor="middle" fill="#1a1a1a">10<tspan font-size="6.5" dy="-4.2">8</tspan></text>
<text x="585.3" y="374.9" font-size="12.3" text-anchor="middle" fill="#1a1a1a" font-weight="normal" >Rectification Ratio</text>
<text x="0" y="0" font-size="12.2" text-anchor="middle" fill="#1a1a1a" transform="translate(475.2,273.8) rotate(-90)">Nonlinearity</text>
<text x="4.7" y="389.6" font-size="15" text-anchor="start" fill="#000" font-weight="bold" >g</text>
<g filter="url(#blur5)" opacity="0.45">
<polygon points="20,500 45,478 70,478 60,510 35,515" fill="#c8c8c8" stroke="none" stroke-width="0" />
<polygon points="95,515 120,490 140,490 130,525 105,530" fill="#cfcfcf" stroke="none" stroke-width="0" />
<polygon points="170,540 195,505 215,500 205,540" fill="#cfcfcf" stroke="none" stroke-width="0" />
<polygon points="205,430 222,425 222,460 208,465" fill="#d8d8d8" stroke="none" stroke-width="0" />
</g>
<g filter="url(#blur5)" opacity="0.6">
<ellipse cx="45" cy="515" rx="14" ry="7" fill="#bfefff"/>
<ellipse cx="118" cy="470" rx="22" ry="10" fill="#f4b8f4"/>
<ellipse cx="205" cy="455" rx="10" ry="12" fill="#e8f8ff"/>
</g>
<polygon points="107,419.5 117,404.5 117,408.5 107,423.5" fill="#f2eef4" stroke="none" stroke-width="0" />
<polygon points="92,416.5 107,419.5 107,423.5 92,420.5" fill="#e4e4e4" stroke="#c4c4c4" stroke-width="0.4" />
<polygon points="92,416.5 107,419.5 117,404.5 102,401.5" fill="#3e3e3e" stroke="none" stroke-width="0" />
<polygon points="155,428 165,413 165,417 155,432" fill="#f2eef4" stroke="none" stroke-width="0" />
<polygon points="140,425 155,428 155,432 140,429" fill="#e4e4e4" stroke="#c4c4c4" stroke-width="0.4" />
<polygon points="140,425 155,428 165,413 150,410" fill="#3e3e3e" stroke="none" stroke-width="0" />
<polygon points="208,438 218,422 218,426 208,442" fill="#f2eef4" stroke="none" stroke-width="0" />
<polygon points="193,434.5 208,438 208,442 193,438.5" fill="#e4e4e4" stroke="#c4c4c4" stroke-width="0.4" />
<polygon points="193,434.5 208,438 218,422 203,418.5" fill="#3e3e3e" stroke="none" stroke-width="0" />
<polygon points="78,455 87,439 87,444 78,460" fill="#f2eef4" stroke="none" stroke-width="0" />
<polygon points="62,451 78,455 78,460 62,456" fill="#e4e4e4" stroke="#c4c4c4" stroke-width="0.4" />
<polygon points="62,451 78,455 87,439 71,435" fill="#3e3e3e" stroke="none" stroke-width="0" />
<polygon points="134,465 143,449 143,454 134,470" fill="#f2eef4" stroke="none" stroke-width="0" />
<polygon points="117,461 134,465 134,470 117,466" fill="#e4e4e4" stroke="#c4c4c4" stroke-width="0.4" />
<polygon points="117,461 134,465 143,449 126,445" fill="#3e3e3e" stroke="none" stroke-width="0" />
<polygon points="196,481.5 204,465.5 204,470.5 196,486.5" fill="#f2eef4" stroke="none" stroke-width="0" />
<polygon points="179,477 196,481.5 196,486.5 179,482" fill="#e4e4e4" stroke="#c4c4c4" stroke-width="0.4" />
<polygon points="179,477 196,481.5 204,465.5 187,461" fill="#3e3e3e" stroke="none" stroke-width="0" />
<polygon points="38.3,494.1 58,471.3 58,477.5 38.3,500.3" fill="#f2eef4" stroke="none" stroke-width="0" />
<polygon points="22.5,489.3 38.3,494.1 38.3,500.3 22.5,495.5" fill="#e4e4e4" stroke="#c4c4c4" stroke-width="0.4" />
<polygon points="22.5,489.3 38.3,494.1 58,471.3 42.2,466.5" fill="#3e3e3e" stroke="none" stroke-width="0" />
<polygon points="102.2,510.6 117.4,485.8 117.4,492.8 102.2,517.6" fill="#f2eef4" stroke="none" stroke-width="0" />
<polygon points="85.8,506.4 102.2,510.6 102.2,517.6 85.8,513.4" fill="#e4e4e4" stroke="#c4c4c4" stroke-width="0.4" />
<polygon points="85.8,506.4 102.2,510.6 117.4,485.8 101,481.6" fill="#3e3e3e" stroke="none" stroke-width="0" />
<polygon points="178.2,531.7 188.2,511.7 188.2,519.2 178.2,539.2" fill="#f2eef4" stroke="none" stroke-width="0" />
<polygon points="158.2,526.2 178.2,531.7 178.2,539.2 158.2,533.7" fill="#e4e4e4" stroke="#c4c4c4" stroke-width="0.4" />
<polygon points="158.2,526.2 178.2,531.7 188.2,511.7 168.2,506.2" fill="#3e3e3e" stroke="none" stroke-width="0" />
<rect x="94.2" y="402" width="8" height="16" fill="#6ae4ff" opacity="0.9"/>
<rect x="102.2" y="402" width="5.8" height="16" fill="#3cb0f2" opacity="0.9"/>
<rect x="142.4" y="410" width="7.6" height="17" fill="#faf450" opacity="0.9"/>
<rect x="150" y="410" width="5.5" height="17" fill="#dcd84a" opacity="0.9"/>
<rect x="195" y="419" width="6.96" height="18" fill="#6ae4ff" opacity="0.9"/>
<rect x="201.96" y="419" width="5.04" height="18" fill="#3cb0f2" opacity="0.9"/>
<polygon points="88.8,392.7 218,411.3 215.8,416.4 86.1,397.2" fill="#474747" stroke="none" stroke-width="0" />
<polygon points="86.1,397.2 215.8,416.4 214.7,422.4 86.3,403" fill="#f3e4c6" stroke="none" stroke-width="0" />
<polygon points="110.7,400.84 121.6,402.46 121.6,408.33 110.7,406.69" fill="#e8e050" stroke="none" stroke-width="0" opacity="0.8"/>
<polygon points="153.4,407.16 165.4,408.94 165.4,414.95 153.4,413.14" fill="#ee30d8" stroke="none" stroke-width="0" opacity="0.8"/>
<polygon points="201.5,414.28 213.6,416.07 213.6,422.23 201.5,420.41" fill="#d8d040" stroke="none" stroke-width="0" opacity="0.8"/>
<rect x="66.3" y="426" width="10.21" height="27" fill="#faf450" opacity="0.9"/>
<rect x="76.51" y="426" width="7.39" height="27" fill="#dcd84a" opacity="0.9"/>
<rect x="120.5" y="437" width="10.15" height="26" fill="#f25af2" opacity="0.9"/>
<rect x="130.65" y="437" width="7.35" height="26" fill="#d434e2" opacity="0.9"/>
<rect x="182" y="451" width="9.28" height="28" fill="#faf450" opacity="0.9"/>
<rect x="191.28" y="451" width="6.72" height="28" fill="#dcd84a" opacity="0.9"/>
<polygon points="63.8,414.4 209.3,439.7 208.4,447.4 57.1,419.5" fill="url(#b2top)" stroke="none" stroke-width="0" />
<polygon points="57.1,419.5 208.4,447.4 206.4,455.1 57.1,427" fill="url(#b2f)" stroke="none" stroke-width="0" />
<rect x="27.3" y="460" width="13.46" height="32" fill="#6ae4ff" opacity="0.9"/>
<rect x="40.76" y="460" width="9.74" height="32" fill="#3cb0f2" opacity="0.9"/>
<rect x="90" y="478" width="12.59" height="27" fill="#faf450" opacity="0.9"/>
<rect x="102.59" y="478" width="9.11" height="27" fill="#dcd84a" opacity="0.9"/>
<rect x="163.9" y="500" width="11.6" height="31" fill="#6ae4ff" opacity="0.9"/>
<rect x="175.5" y="500" width="8.4" height="31" fill="#3cb0f2" opacity="0.9"/>
<g filter="url(#blur3)" opacity="0.55"><ellipse cx="128" cy="462" rx="16" ry="7" fill="#f080f0"/></g>
<polygon points="26.6,443.6 196.8,483.3 194.3,494.2 15.3,452.8" fill="url(#b1top)" stroke="none" stroke-width="0" />
<polygon points="15.3,452.8 194.3,494.2 193.3,502.6 16.1,460.4" fill="#fbefd6" stroke="none" stroke-width="0" />
<line x1="36.1" y1="407.7" x2="70.54" y2="416.71" stroke="#d08c00" stroke-width="1.6" />
<polygon points="74.7,417.8 69.37,419.2 70.74,413.97" fill="#d08c00" stroke="none" stroke-width="0" />
<line x1="36.1" y1="412.3" x2="122.89" y2="430.13" stroke="#80c648" stroke-width="1.6" />
<polygon points="127.1,431 121.85,432.68 122.94,427.39" fill="#80c648" stroke="none" stroke-width="0" />
<line x1="73" y1="427" x2="73" y2="439.5" stroke="#d08c00" stroke-width="1.6" />
<polygon points="73,443.8 70.3,439 75.7,439" fill="#d08c00" stroke="none" stroke-width="0" />
<line x1="126" y1="439.7" x2="126" y2="453" stroke="#80c648" stroke-width="1.6" />
<polygon points="126,457.3 123.3,452.5 128.7,452.5" fill="#80c648" stroke="none" stroke-width="0" />
<line x1="73.8" y1="448.2" x2="43.49" y2="477.51" stroke="#d08c00" stroke-width="1.6" />
<polygon points="40.4,480.5 41.97,475.22 45.73,479.1" fill="#d08c00" stroke="none" stroke-width="0" />
<line x1="36.4" y1="480.5" x2="36.4" y2="465.6" stroke="#d08c00" stroke-width="1.6" />
<polygon points="36.4,461.3 39.1,466.1 33.7,466.1" fill="#d08c00" stroke="none" stroke-width="0" />
<line x1="35.4" y1="455.3" x2="92.84" y2="470.31" stroke="#d08c00" stroke-width="1.6" />
<polygon points="97,471.4 91.67,472.8 93.04,467.57" fill="#d08c00" stroke="none" stroke-width="0" />
<line x1="98" y1="484.6" x2="98" y2="499.5" stroke="#d08c00" stroke-width="1.6" />
<polygon points="98,503.8 95.3,499 100.7,499" fill="#d08c00" stroke="none" stroke-width="0" />
<line x1="121.2" y1="462.6" x2="78.08" y2="527.32" stroke="#80c648" stroke-width="1.6" />
<polygon points="75.7,530.9 76.11,525.41 80.61,528.4" fill="#80c648" stroke="none" stroke-width="0" />
<line x1="97" y1="506.8" x2="87.76" y2="526.12" stroke="#d08c00" stroke-width="1.6" />
<polygon points="85.9,530 85.54,524.5 90.41,526.84" fill="#d08c00" stroke="none" stroke-width="0" />
<text x="53.4" y="383.4" font-size="9.0" text-anchor="start" fill="#2ab8f0" font-weight="normal" >Unselected</text>
<text x="75.8" y="393.6" font-size="9.0" text-anchor="middle" fill="#2ab8f0" font-weight="normal" >cell</text>
<text x="169.5" y="386.7" font-size="9.1" text-anchor="middle" fill="#fbbd2c" font-weight="normal" >Partially</text>
<text x="169.1" y="397.2" font-size="9.1" text-anchor="middle" fill="#fbbd2c" font-weight="normal" >selected cell</text>
<text x="157.8" y="456.8" font-size="9.1" text-anchor="middle" fill="#f040f0" font-weight="normal" >Selected</text>
<text x="157.8" y="467.9" font-size="9.1" text-anchor="middle" fill="#f040f0" font-weight="normal" >cell</text>
<text x="20.4" y="524.9" font-size="9.0" text-anchor="start" fill="#86c84e" font-weight="normal" >Selected path</text>
<text x="96.1" y="533.4" font-size="9.0" text-anchor="start" fill="#d4a024" font-weight="normal" >Sneak path</text>
<text x="234.1" y="390" font-size="15" text-anchor="start" fill="#000" font-weight="bold" >h</text>
<rect x="268.5" y="393.3" width="173.0" height="139.49999999999994" fill="url(#hbg)"/>
<line x1="268.5" y1="488.4" x2="441.5" y2="488.4" stroke="#ee7a7a" stroke-width="0.9" stroke-dasharray="3.2,2.2"/>
<line x1="385.4" y1="488.4" x2="385.4" y2="532.8" stroke="#ee7a7a" stroke-width="0.9" stroke-dasharray="3.2,2.2"/>
<text x="335.8" y="506.2" font-size="9.4" text-anchor="start" fill="#ee7070" font-weight="normal" >~25.4 Tb</text>
<text x="292.6" y="454.6" font-size="8.6" fill="#1a1a1a">@V<tspan font-size="5.6" dy="2">read</tspan><tspan dy="-2"> = 1.5 V</tspan></text>
<g clip-path="url(#hclip)">
<path d="M269.8,407.9 C271.12,407.9 275,407.9 277.7,407.9 C280.4,407.9 283.12,407.9 286,407.9 C288.88,407.9 292.17,407.9 295,407.9 C297.83,407.9 300.17,407.9 303,407.9 C305.83,407.9 309.1,407.9 312,407.9 C314.9,407.9 317.47,407.9 320.4,407.9 C323.33,407.9 326.7,407.9 329.6,407.9 C332.5,407.9 334.9,407.77 337.8,407.9 C340.7,408.03 344.05,408.08 347,408.7 C349.95,409.32 352.62,409.67 355.5,411.6 C358.38,413.53 361.52,415.5 364.3,420.3 C367.08,425.1 369.28,431 372.2,440.4 C375.12,449.8 378.87,465.93 381.8,476.7 C384.73,487.47 386.93,498.43 389.8,505 C392.67,511.57 396.13,513.95 399,516.1 C401.87,518.25 404.13,517.58 407,517.9 C409.87,518.22 413.32,517.98 416.2,518 C419.08,518.02 421.45,518 424.3,518 C427.15,518 430.52,518 433.3,518 C436.08,518 439.72,518 441,518" fill="none" stroke="#6f98ee" stroke-width="1.0" />
<circle cx="269.8" cy="407.9" r="3" fill="url(#sp8)" stroke="none" stroke-width="0" />
<circle cx="277.7" cy="407.9" r="3" fill="url(#sp8)" stroke="none" stroke-width="0" />
<circle cx="286" cy="407.9" r="3" fill="url(#sp8)" stroke="none" stroke-width="0" />
<circle cx="295" cy="407.9" r="3" fill="url(#sp8)" stroke="none" stroke-width="0" />
<circle cx="303" cy="407.9" r="3" fill="url(#sp8)" stroke="none" stroke-width="0" />
<circle cx="312" cy="407.9" r="3" fill="url(#sp8)" stroke="none" stroke-width="0" />
<circle cx="320.4" cy="407.9" r="3" fill="url(#sp8)" stroke="none" stroke-width="0" />
<circle cx="329.6" cy="407.9" r="3" fill="url(#sp8)" stroke="none" stroke-width="0" />
<circle cx="337.8" cy="407.9" r="3" fill="url(#sp8)" stroke="none" stroke-width="0" />
<circle cx="347" cy="408.7" r="3" fill="url(#sp8)" stroke="none" stroke-width="0" />
<circle cx="355.5" cy="411.6" r="3" fill="url(#sp8)" stroke="none" stroke-width="0" />
<circle cx="364.3" cy="420.3" r="3" fill="url(#sp8)" stroke="none" stroke-width="0" />
<circle cx="372.2" cy="440.4" r="3" fill="url(#sp8)" stroke="none" stroke-width="0" />
<circle cx="381.8" cy="476.7" r="3" fill="url(#sp8)" stroke="none" stroke-width="0" />
<circle cx="389.8" cy="505" r="3" fill="url(#sp8)" stroke="none" stroke-width="0" />
<circle cx="399" cy="516.1" r="3" fill="url(#sp8)" stroke="none" stroke-width="0" />
<circle cx="407" cy="517.9" r="3" fill="url(#sp8)" stroke="none" stroke-width="0" />
<circle cx="416.2" cy="518" r="3" fill="url(#sp8)" stroke="none" stroke-width="0" />
<circle cx="424.3" cy="518" r="3" fill="url(#sp8)" stroke="none" stroke-width="0" />
<circle cx="433.3" cy="518" r="3" fill="url(#sp8)" stroke="none" stroke-width="0" />
<circle cx="441" cy="518" r="3" fill="url(#sp8)" stroke="none" stroke-width="0" />
</g>
<path d="M359,404.9 C365,406 371,411 373.4,417" fill="none" stroke="#111" stroke-width="0.9" />
<polygon points="374.3,419.8 371.2,416.4 375.4,415.8" fill="#111" stroke="none" stroke-width="0" />
<line x1="268.5" y1="393.3" x2="441.5" y2="393.3" stroke="#444" stroke-width="1" />
<line x1="441.5" y1="393.3" x2="441.5" y2="532.8" stroke="#444" stroke-width="1" />
<line x1="268.5" y1="392.8" x2="268.5" y2="533.3" stroke="#222" stroke-width="1.1" />
<line x1="268" y1="532.8" x2="442" y2="532.8" stroke="#222" stroke-width="1.1" />
<line x1="265.7" y1="518.2" x2="268.5" y2="518.2" stroke="#222" stroke-width="1" />
<line x1="265.7" y1="488.95" x2="268.5" y2="488.95" stroke="#222" stroke-width="1" />
<line x1="265.7" y1="459.7" x2="268.5" y2="459.7" stroke="#222" stroke-width="1" />
<line x1="265.7" y1="430.45" x2="268.5" y2="430.45" stroke="#222" stroke-width="1" />
<line x1="265.7" y1="401.2" x2="268.5" y2="401.2" stroke="#222" stroke-width="1" />
<line x1="266.9" y1="532.83" x2="268.5" y2="532.83" stroke="#222" stroke-width="1" />
<line x1="266.9" y1="503.58" x2="268.5" y2="503.58" stroke="#222" stroke-width="1" />
<line x1="266.9" y1="474.33" x2="268.5" y2="474.33" stroke="#222" stroke-width="1" />
<line x1="266.9" y1="445.08" x2="268.5" y2="445.08" stroke="#222" stroke-width="1" />
<line x1="266.9" y1="415.83" x2="268.5" y2="415.83" stroke="#222" stroke-width="1" />
<text x="264.2" y="521.9" font-size="10.2" text-anchor="end" fill="#1a1a1a" font-weight="normal" >0.0</text>
<text x="264.2" y="492.65" font-size="10.2" text-anchor="end" fill="#1a1a1a" font-weight="normal" >0.1</text>
<text x="264.2" y="463.4" font-size="10.2" text-anchor="end" fill="#1a1a1a" font-weight="normal" >0.2</text>
<text x="264.2" y="434.15" font-size="10.2" text-anchor="end" fill="#1a1a1a" font-weight="normal" >0.3</text>
<text x="264.2" y="404.9" font-size="10.2" text-anchor="end" fill="#1a1a1a" font-weight="normal" >0.4</text>
<line x1="268.5" y1="532.8" x2="268.5" y2="535.6" stroke="#222" stroke-width="1" />
<line x1="285.8" y1="532.8" x2="285.8" y2="535.6" stroke="#222" stroke-width="1" />
<line x1="303.1" y1="532.8" x2="303.1" y2="535.6" stroke="#222" stroke-width="1" />
<line x1="320.4" y1="532.8" x2="320.4" y2="535.6" stroke="#222" stroke-width="1" />
<line x1="337.7" y1="532.8" x2="337.7" y2="535.6" stroke="#222" stroke-width="1" />
<line x1="355" y1="532.8" x2="355" y2="535.6" stroke="#222" stroke-width="1" />
<line x1="372.3" y1="532.8" x2="372.3" y2="535.6" stroke="#222" stroke-width="1" />
<line x1="389.6" y1="532.8" x2="389.6" y2="535.6" stroke="#222" stroke-width="1" />
<line x1="406.9" y1="532.8" x2="406.9" y2="535.6" stroke="#222" stroke-width="1" />
<line x1="424.2" y1="532.8" x2="424.2" y2="535.6" stroke="#222" stroke-width="1" />
<line x1="441.5" y1="532.8" x2="441.5" y2="535.6" stroke="#222" stroke-width="1" />
<line x1="273.71" y1="532.8" x2="273.71" y2="534.3" stroke="#222" stroke-width="0.7" />
<line x1="276.75" y1="532.8" x2="276.75" y2="534.3" stroke="#222" stroke-width="0.7" />
<line x1="278.92" y1="532.8" x2="278.92" y2="534.3" stroke="#222" stroke-width="0.7" />
<line x1="280.59" y1="532.8" x2="280.59" y2="534.3" stroke="#222" stroke-width="0.7" />
<line x1="281.96" y1="532.8" x2="281.96" y2="534.3" stroke="#222" stroke-width="0.7" />
<line x1="283.12" y1="532.8" x2="283.12" y2="534.3" stroke="#222" stroke-width="0.7" />
<line x1="284.12" y1="532.8" x2="284.12" y2="534.3" stroke="#222" stroke-width="0.7" />
<line x1="285.01" y1="532.8" x2="285.01" y2="534.3" stroke="#222" stroke-width="0.7" />
<line x1="291.01" y1="532.8" x2="291.01" y2="534.3" stroke="#222" stroke-width="0.7" />
<line x1="294.05" y1="532.8" x2="294.05" y2="534.3" stroke="#222" stroke-width="0.7" />
<line x1="296.22" y1="532.8" x2="296.22" y2="534.3" stroke="#222" stroke-width="0.7" />
<line x1="297.89" y1="532.8" x2="297.89" y2="534.3" stroke="#222" stroke-width="0.7" />
<line x1="299.26" y1="532.8" x2="299.26" y2="534.3" stroke="#222" stroke-width="0.7" />
<line x1="300.42" y1="532.8" x2="300.42" y2="534.3" stroke="#222" stroke-width="0.7" />
<line x1="301.42" y1="532.8" x2="301.42" y2="534.3" stroke="#222" stroke-width="0.7" />
<line x1="302.31" y1="532.8" x2="302.31" y2="534.3" stroke="#222" stroke-width="0.7" />
<line x1="308.31" y1="532.8" x2="308.31" y2="534.3" stroke="#222" stroke-width="0.7" />
<line x1="311.35" y1="532.8" x2="311.35" y2="534.3" stroke="#222" stroke-width="0.7" />
<line x1="313.52" y1="532.8" x2="313.52" y2="534.3" stroke="#222" stroke-width="0.7" />
<line x1="315.19" y1="532.8" x2="315.19" y2="534.3" stroke="#222" stroke-width="0.7" />
<line x1="316.56" y1="532.8" x2="316.56" y2="534.3" stroke="#222" stroke-width="0.7" />
<line x1="317.72" y1="532.8" x2="317.72" y2="534.3" stroke="#222" stroke-width="0.7" />
<line x1="318.72" y1="532.8" x2="318.72" y2="534.3" stroke="#222" stroke-width="0.7" />
<line x1="319.61" y1="532.8" x2="319.61" y2="534.3" stroke="#222" stroke-width="0.7" />
<line x1="325.61" y1="532.8" x2="325.61" y2="534.3" stroke="#222" stroke-width="0.7" />
<line x1="328.65" y1="532.8" x2="328.65" y2="534.3" stroke="#222" stroke-width="0.7" />
<line x1="330.82" y1="532.8" x2="330.82" y2="534.3" stroke="#222" stroke-width="0.7" />
<line x1="332.49" y1="532.8" x2="332.49" y2="534.3" stroke="#222" stroke-width="0.7" />
<line x1="333.86" y1="532.8" x2="333.86" y2="534.3" stroke="#222" stroke-width="0.7" />
<line x1="335.02" y1="532.8" x2="335.02" y2="534.3" stroke="#222" stroke-width="0.7" />
<line x1="336.02" y1="532.8" x2="336.02" y2="534.3" stroke="#222" stroke-width="0.7" />
<line x1="336.91" y1="532.8" x2="336.91" y2="534.3" stroke="#222" stroke-width="0.7" />
<line x1="342.91" y1="532.8" x2="342.91" y2="534.3" stroke="#222" stroke-width="0.7" />
<line x1="345.95" y1="532.8" x2="345.95" y2="534.3" stroke="#222" stroke-width="0.7" />
<line x1="348.12" y1="532.8" x2="348.12" y2="534.3" stroke="#222" stroke-width="0.7" />
<line x1="349.79" y1="532.8" x2="349.79" y2="534.3" stroke="#222" stroke-width="0.7" />
<line x1="351.16" y1="532.8" x2="351.16" y2="534.3" stroke="#222" stroke-width="0.7" />
<line x1="352.32" y1="532.8" x2="352.32" y2="534.3" stroke="#222" stroke-width="0.7" />
<line x1="353.32" y1="532.8" x2="353.32" y2="534.3" stroke="#222" stroke-width="0.7" />
<line x1="354.21" y1="532.8" x2="354.21" y2="534.3" stroke="#222" stroke-width="0.7" />
<line x1="360.21" y1="532.8" x2="360.21" y2="534.3" stroke="#222" stroke-width="0.7" />
<line x1="363.25" y1="532.8" x2="363.25" y2="534.3" stroke="#222" stroke-width="0.7" />
<line x1="365.42" y1="532.8" x2="365.42" y2="534.3" stroke="#222" stroke-width="0.7" />
<line x1="367.09" y1="532.8" x2="367.09" y2="534.3" stroke="#222" stroke-width="0.7" />
<line x1="368.46" y1="532.8" x2="368.46" y2="534.3" stroke="#222" stroke-width="0.7" />
<line x1="369.62" y1="532.8" x2="369.62" y2="534.3" stroke="#222" stroke-width="0.7" />
<line x1="370.62" y1="532.8" x2="370.62" y2="534.3" stroke="#222" stroke-width="0.7" />
<line x1="371.51" y1="532.8" x2="371.51" y2="534.3" stroke="#222" stroke-width="0.7" />
<line x1="377.51" y1="532.8" x2="377.51" y2="534.3" stroke="#222" stroke-width="0.7" />
<line x1="380.55" y1="532.8" x2="380.55" y2="534.3" stroke="#222" stroke-width="0.7" />
<line x1="382.72" y1="532.8" x2="382.72" y2="534.3" stroke="#222" stroke-width="0.7" />
<line x1="384.39" y1="532.8" x2="384.39" y2="534.3" stroke="#222" stroke-width="0.7" />
<line x1="385.76" y1="532.8" x2="385.76" y2="534.3" stroke="#222" stroke-width="0.7" />
<line x1="386.92" y1="532.8" x2="386.92" y2="534.3" stroke="#222" stroke-width="0.7" />
<line x1="387.92" y1="532.8" x2="387.92" y2="534.3" stroke="#222" stroke-width="0.7" />
<line x1="388.81" y1="532.8" x2="388.81" y2="534.3" stroke="#222" stroke-width="0.7" />
<line x1="394.81" y1="532.8" x2="394.81" y2="534.3" stroke="#222" stroke-width="0.7" />
<line x1="397.85" y1="532.8" x2="397.85" y2="534.3" stroke="#222" stroke-width="0.7" />
<line x1="400.02" y1="532.8" x2="400.02" y2="534.3" stroke="#222" stroke-width="0.7" />
<line x1="401.69" y1="532.8" x2="401.69" y2="534.3" stroke="#222" stroke-width="0.7" />
<line x1="403.06" y1="532.8" x2="403.06" y2="534.3" stroke="#222" stroke-width="0.7" />
<line x1="404.22" y1="532.8" x2="404.22" y2="534.3" stroke="#222" stroke-width="0.7" />
<line x1="405.22" y1="532.8" x2="405.22" y2="534.3" stroke="#222" stroke-width="0.7" />
<line x1="406.11" y1="532.8" x2="406.11" y2="534.3" stroke="#222" stroke-width="0.7" />
<line x1="412.11" y1="532.8" x2="412.11" y2="534.3" stroke="#222" stroke-width="0.7" />
<line x1="415.15" y1="532.8" x2="415.15" y2="534.3" stroke="#222" stroke-width="0.7" />
<line x1="417.32" y1="532.8" x2="417.32" y2="534.3" stroke="#222" stroke-width="0.7" />
<line x1="418.99" y1="532.8" x2="418.99" y2="534.3" stroke="#222" stroke-width="0.7" />
<line x1="420.36" y1="532.8" x2="420.36" y2="534.3" stroke="#222" stroke-width="0.7" />
<line x1="421.52" y1="532.8" x2="421.52" y2="534.3" stroke="#222" stroke-width="0.7" />
<line x1="422.52" y1="532.8" x2="422.52" y2="534.3" stroke="#222" stroke-width="0.7" />
<line x1="423.41" y1="532.8" x2="423.41" y2="534.3" stroke="#222" stroke-width="0.7" />
<line x1="429.41" y1="532.8" x2="429.41" y2="534.3" stroke="#222" stroke-width="0.7" />
<line x1="432.45" y1="532.8" x2="432.45" y2="534.3" stroke="#222" stroke-width="0.7" />
<line x1="434.62" y1="532.8" x2="434.62" y2="534.3" stroke="#222" stroke-width="0.7" />
<line x1="436.29" y1="532.8" x2="436.29" y2="534.3" stroke="#222" stroke-width="0.7" />
<line x1="437.66" y1="532.8" x2="437.66" y2="534.3" stroke="#222" stroke-width="0.7" />
<line x1="438.82" y1="532.8" x2="438.82" y2="534.3" stroke="#222" stroke-width="0.7" />
<line x1="439.82" y1="532.8" x2="439.82" y2="534.3" stroke="#222" stroke-width="0.7" />
<line x1="440.71" y1="532.8" x2="440.71" y2="534.3" stroke="#222" stroke-width="0.7" />
<text x="269.3" y="547.5" font-size="10.2" text-anchor="middle" fill="#1a1a1a">10<tspan font-size="6.9" dy="-4.4">0</tspan></text>
<text x="303.9" y="547.5" font-size="10.2" text-anchor="middle" fill="#1a1a1a">10<tspan font-size="6.9" dy="-4.4">2</tspan></text>
<text x="338.5" y="547.5" font-size="10.2" text-anchor="middle" fill="#1a1a1a">10<tspan font-size="6.9" dy="-4.4">4</tspan></text>
<text x="373.1" y="547.5" font-size="10.2" text-anchor="middle" fill="#1a1a1a">10<tspan font-size="6.9" dy="-4.4">6</tspan></text>
<text x="407.7" y="547.5" font-size="10.2" text-anchor="middle" fill="#1a1a1a">10<tspan font-size="6.9" dy="-4.4">8</tspan></text>
<text x="443.5" y="547.5" font-size="10.2" text-anchor="middle" fill="#1a1a1a">10<tspan font-size="6.9" dy="-4.4">10</tspan></text>
<text x="355.2" y="564.9" font-size="12.3" text-anchor="middle" fill="#1a1a1a" font-weight="normal" >Count of WLs/BLs (#)</text>
<text x="0" y="0" font-size="12.2" text-anchor="middle" fill="#1a1a1a" transform="translate(246.3,462.8) rotate(-90)">Read Margin</text>
<text x="461.9" y="389.9" font-size="15" text-anchor="start" fill="#000" font-weight="bold" >i</text>
<rect x="498.6" y="393.3" width="174.0" height="140.09999999999997" fill="url(#ibg)"/>
<line x1="498.6" y1="430" x2="672.6" y2="430" stroke="#ee7a7a" stroke-width="0.9" stroke-dasharray="3.2,2.2"/>
<line x1="585.6" y1="430" x2="585.6" y2="533.4" stroke="#ee7a7a" stroke-width="0.9" stroke-dasharray="3.2,2.2"/>
<text x="506.8" y="425.2" font-size="9.4" text-anchor="start" fill="#ee7070" font-weight="normal" >~25.4 Tb</text>
<circle cx="527.65" cy="491.4" r="3.4" fill="url(#sp9)" stroke="none" stroke-width="0" />
<circle cx="542" cy="470.4" r="3.4" fill="url(#sp9)" stroke="none" stroke-width="0" />
<circle cx="556.35" cy="455" r="3.4" fill="url(#sp9)" stroke="none" stroke-width="0" />
<circle cx="570.7" cy="442.3" r="3.4" fill="url(#sp9)" stroke="none" stroke-width="0" />
<circle cx="599.4" cy="424.7" r="3.4" fill="url(#sp9)" stroke="none" stroke-width="0" />
<circle cx="613.75" cy="417.9" r="3.4" fill="url(#sp9)" stroke="none" stroke-width="0" />
<circle cx="628.1" cy="414" r="3.4" fill="url(#sp9)" stroke="none" stroke-width="0" />
<circle cx="642.45" cy="411.9" r="3.4" fill="url(#sp9)" stroke="none" stroke-width="0" />
<circle cx="656.8" cy="411.2" r="3.4" fill="url(#sp9)" stroke="none" stroke-width="0" />
<circle cx="585.05" cy="430" r="3.4" fill="url(#sp10)" stroke="none" stroke-width="0" />
<circle cx="513.3" cy="516.1" r="3.4" fill="url(#sp9)" stroke="none" stroke-width="0" />
<text x="550.4" y="509.4" font-size="8.6" text-anchor="middle" fill="#1a1a1a" font-weight="normal" >Poor RR</text>
<text x="521.5" y="519.9" font-size="8.6" text-anchor="start" fill="#1a1a1a" font-weight="normal" >Poor scalability</text>
<text x="630.9" y="474.3" font-size="8.6" text-anchor="middle" fill="#1a1a1a" font-weight="normal" >Poor on-off ratio</text>
<text x="630.9" y="484.7" font-size="8.6" text-anchor="middle" fill="#1a1a1a" font-weight="normal" >Poor increasing rate</text>
<line x1="498.6" y1="393.3" x2="672.6" y2="393.3" stroke="#444" stroke-width="1" />
<line x1="672.6" y1="393.3" x2="672.6" y2="533.4" stroke="#444" stroke-width="1" />
<line x1="498.6" y1="392.8" x2="498.6" y2="533.9" stroke="#222" stroke-width="1.1" />
<line x1="498.1" y1="533.4" x2="673.1" y2="533.4" stroke="#222" stroke-width="1.1" />
<line x1="495.8" y1="515.5" x2="498.6" y2="515.5" stroke="#222" stroke-width="1" />
<line x1="495.8" y1="454.4" x2="498.6" y2="454.4" stroke="#222" stroke-width="1" />
<line x1="495.8" y1="393.3" x2="498.6" y2="393.3" stroke="#222" stroke-width="1" />
<line x1="497.1" y1="529.05" x2="498.6" y2="529.05" stroke="#222" stroke-width="0.7" />
<line x1="497.1" y1="524.96" x2="498.6" y2="524.96" stroke="#222" stroke-width="0.7" />
<line x1="497.1" y1="521.42" x2="498.6" y2="521.42" stroke="#222" stroke-width="0.7" />
<line x1="497.1" y1="518.3" x2="498.6" y2="518.3" stroke="#222" stroke-width="0.7" />
<line x1="497.1" y1="497.11" x2="498.6" y2="497.11" stroke="#222" stroke-width="0.7" />
<line x1="497.1" y1="486.35" x2="498.6" y2="486.35" stroke="#222" stroke-width="0.7" />
<line x1="497.1" y1="478.71" x2="498.6" y2="478.71" stroke="#222" stroke-width="0.7" />
<line x1="497.1" y1="472.79" x2="498.6" y2="472.79" stroke="#222" stroke-width="0.7" />
<line x1="497.1" y1="467.95" x2="498.6" y2="467.95" stroke="#222" stroke-width="0.7" />
<line x1="497.1" y1="463.86" x2="498.6" y2="463.86" stroke="#222" stroke-width="0.7" />
<line x1="497.1" y1="460.32" x2="498.6" y2="460.32" stroke="#222" stroke-width="0.7" />
<line x1="497.1" y1="457.2" x2="498.6" y2="457.2" stroke="#222" stroke-width="0.7" />
<line x1="497.1" y1="436.01" x2="498.6" y2="436.01" stroke="#222" stroke-width="0.7" />
<line x1="497.1" y1="425.25" x2="498.6" y2="425.25" stroke="#222" stroke-width="0.7" />
<line x1="497.1" y1="417.61" x2="498.6" y2="417.61" stroke="#222" stroke-width="0.7" />
<line x1="497.1" y1="411.69" x2="498.6" y2="411.69" stroke="#222" stroke-width="0.7" />
<line x1="497.1" y1="406.85" x2="498.6" y2="406.85" stroke="#222" stroke-width="0.7" />
<line x1="497.1" y1="402.76" x2="498.6" y2="402.76" stroke="#222" stroke-width="0.7" />
<line x1="497.1" y1="399.22" x2="498.6" y2="399.22" stroke="#222" stroke-width="0.7" />
<line x1="497.1" y1="396.1" x2="498.6" y2="396.1" stroke="#222" stroke-width="0.7" />
<text x="494.5" y="397.6" font-size="10.2" text-anchor="end" fill="#1a1a1a">10<tspan font-size="6.94" dy="-4.4">14</tspan></text>
<text x="494.5" y="458.7" font-size="10.2" text-anchor="end" fill="#1a1a1a">10<tspan font-size="6.94" dy="-4.4">13</tspan></text>
<text x="494.5" y="519.8" font-size="10.2" text-anchor="end" fill="#1a1a1a">10<tspan font-size="6.94" dy="-4.4">12</tspan></text>
<line x1="513.3" y1="533.4" x2="513.3" y2="536.2" stroke="#222" stroke-width="1" />
<line x1="542" y1="533.4" x2="542" y2="536.2" stroke="#222" stroke-width="1" />
<line x1="570.7" y1="533.4" x2="570.7" y2="536.2" stroke="#222" stroke-width="1" />
<line x1="599.4" y1="533.4" x2="599.4" y2="536.2" stroke="#222" stroke-width="1" />
<line x1="628.1" y1="533.4" x2="628.1" y2="536.2" stroke="#222" stroke-width="1" />
<line x1="656.8" y1="533.4" x2="656.8" y2="536.2" stroke="#222" stroke-width="1" />
<line x1="498.95" y1="533.4" x2="498.95" y2="535" stroke="#222" stroke-width="1" />
<line x1="527.65" y1="533.4" x2="527.65" y2="535" stroke="#222" stroke-width="1" />
<line x1="556.35" y1="533.4" x2="556.35" y2="535" stroke="#222" stroke-width="1" />
<line x1="585.05" y1="533.4" x2="585.05" y2="535" stroke="#222" stroke-width="1" />
<line x1="613.75" y1="533.4" x2="613.75" y2="535" stroke="#222" stroke-width="1" />
<line x1="642.45" y1="533.4" x2="642.45" y2="535" stroke="#222" stroke-width="1" />
<line x1="671.15" y1="533.4" x2="671.15" y2="535" stroke="#222" stroke-width="1" />
<text x="513.3" y="547.5" font-size="10.2" text-anchor="middle" fill="#1a1a1a" font-weight="normal" >1.0</text>
<text x="542" y="547.5" font-size="10.2" text-anchor="middle" fill="#1a1a1a" font-weight="normal" >1.2</text>
<text x="570.7" y="547.5" font-size="10.2" text-anchor="middle" fill="#1a1a1a" font-weight="normal" >1.4</text>
<text x="599.4" y="547.5" font-size="10.2" text-anchor="middle" fill="#1a1a1a" font-weight="normal" >1.6</text>
<text x="628.1" y="547.5" font-size="10.2" text-anchor="middle" fill="#1a1a1a" font-weight="normal" >1.8</text>
<text x="656.8" y="547.5" font-size="10.2" text-anchor="middle" fill="#1a1a1a" font-weight="normal" >2.0</text>
<text x="586.2" y="564.9" font-size="12.3" text-anchor="middle" fill="#1a1a1a" font-weight="normal" >Read Voltage (V)</text>
<text x="0" y="0" font-size="12.2" text-anchor="middle" fill="#1a1a1a" transform="translate(471.3,463.6) rotate(-90)">Array Size</text></svg></body></html>
